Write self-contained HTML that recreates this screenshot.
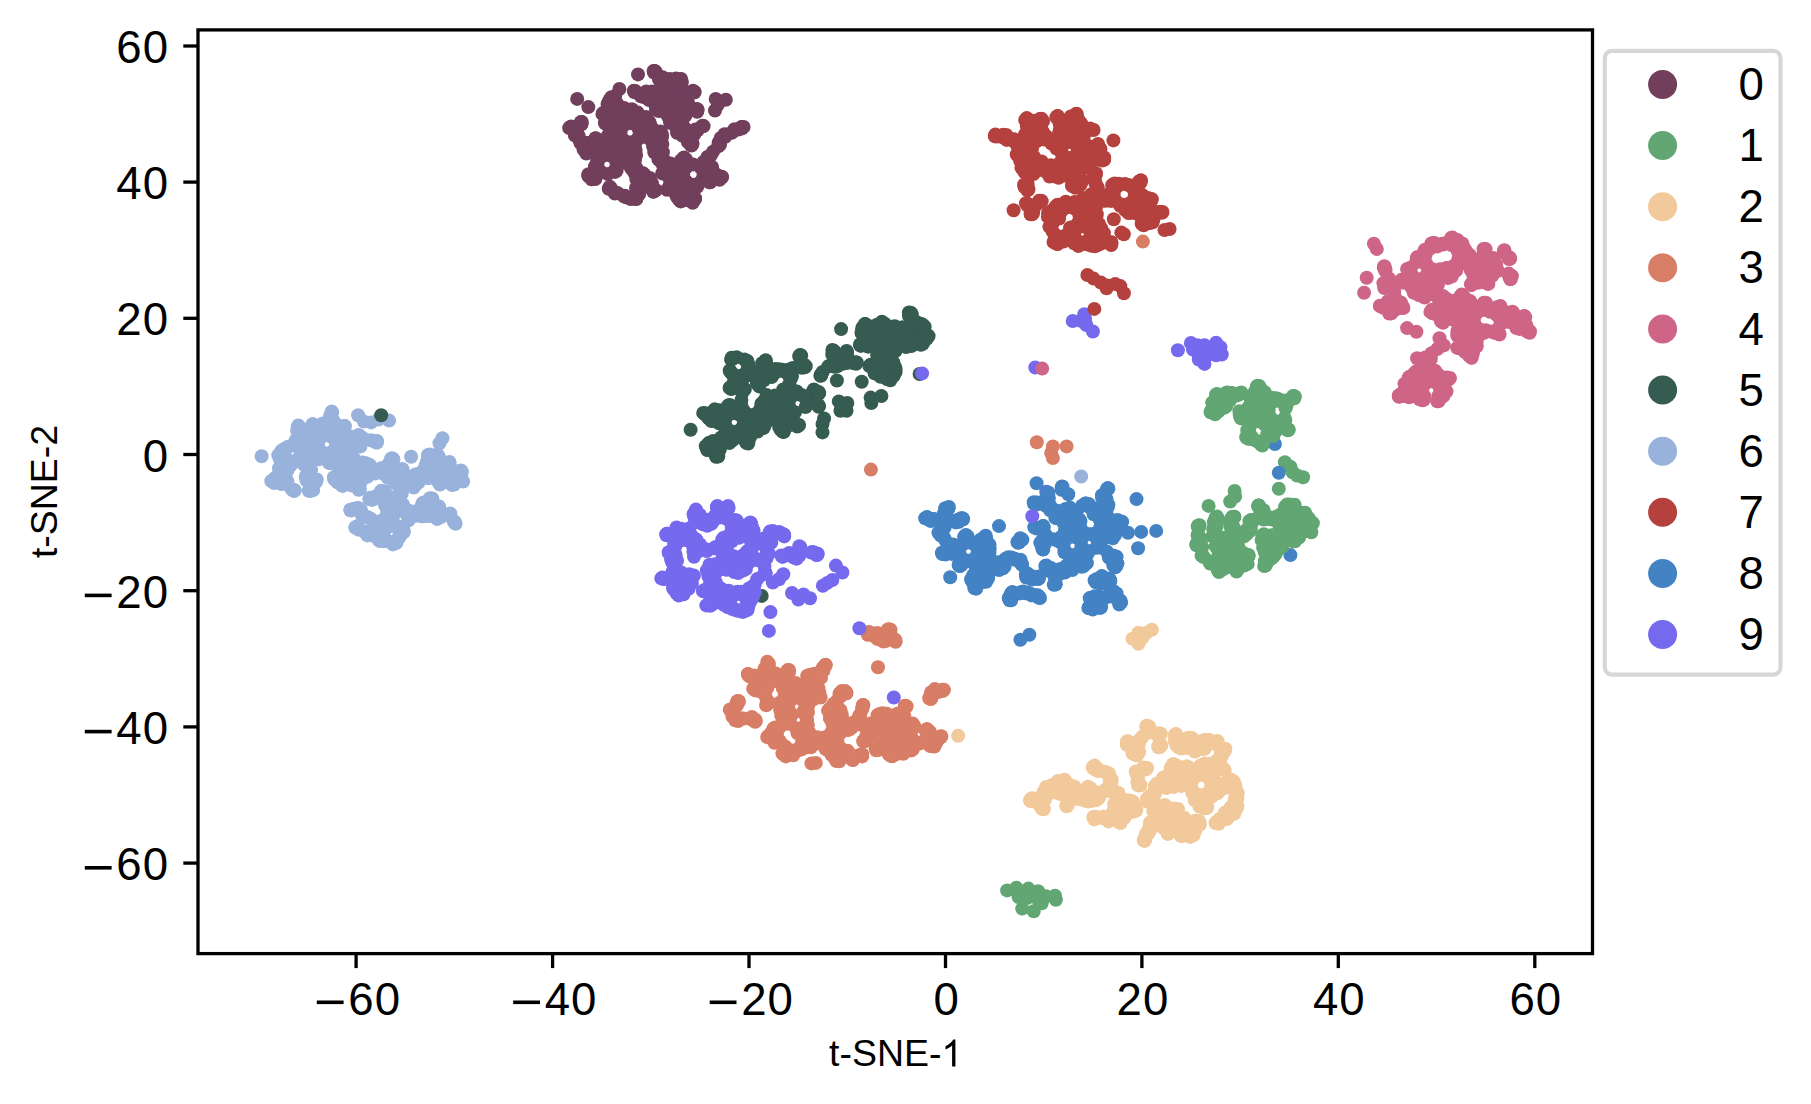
<!DOCTYPE html>
<html><head><meta charset="utf-8"><title>t-SNE</title>
<style>html,body{margin:0;padding:0;background:#fff}svg{display:block}text{font-family:"Liberation Sans",sans-serif;fill:#000}</style></head><body>
<svg width="1811" height="1104" viewBox="0 0 1811 1104">
<rect width="1811" height="1104" fill="#fff"/>
<circle cx="1046.2" cy="491.7" r="7.0" fill="#7569ee"/>
<circle cx="1274.9" cy="444.0" r="7.0" fill="#4383c4"/>
<circle cx="1290.4" cy="555.1" r="7.0" fill="#4383c4"/>
<g fill="#713f5c">
<circle cx="655.7" cy="71.6" r="7.0"/><circle cx="662.5" cy="77.3" r="7.0"/><circle cx="669.9" cy="79.0" r="7.0"/><circle cx="676.0" cy="78.6" r="7.0"/><circle cx="664.2" cy="84.6" r="7.0"/><circle cx="672.5" cy="83.9" r="7.0"/><circle cx="679.2" cy="83.6" r="7.0"/><circle cx="646.3" cy="91.5" r="7.0"/><circle cx="654.7" cy="92.0" r="7.0"/><circle cx="660.6" cy="88.7" r="7.0"/><circle cx="669.5" cy="88.7" r="7.0"/><circle cx="676.5" cy="91.6" r="7.0"/><circle cx="683.4" cy="90.7" r="7.0"/><circle cx="611.4" cy="97.3" r="7.0"/><circle cx="640.9" cy="96.2" r="7.0"/><circle cx="651.6" cy="95.2" r="7.0"/><circle cx="656.4" cy="97.3" r="7.0"/><circle cx="664.5" cy="95.7" r="7.0"/><circle cx="674.1" cy="95.2" r="7.0"/><circle cx="680.4" cy="96.6" r="7.0"/><circle cx="687.0" cy="95.7" r="7.0"/><circle cx="607.5" cy="104.0" r="7.0"/><circle cx="655.1" cy="103.4" r="7.0"/><circle cx="659.7" cy="104.5" r="7.0"/><circle cx="667.0" cy="104.5" r="7.0"/><circle cx="675.7" cy="104.8" r="7.0"/><circle cx="684.6" cy="102.8" r="7.0"/><circle cx="612.4" cy="109.2" r="7.0"/><circle cx="618.3" cy="110.3" r="7.0"/><circle cx="627.5" cy="110.6" r="7.0"/><circle cx="656.0" cy="109.9" r="7.0"/><circle cx="663.7" cy="108.4" r="7.0"/><circle cx="671.2" cy="110.6" r="7.0"/><circle cx="681.1" cy="110.9" r="7.0"/><circle cx="687.8" cy="110.3" r="7.0"/><circle cx="695.9" cy="109.6" r="7.0"/><circle cx="607.5" cy="116.3" r="7.0"/><circle cx="615.9" cy="116.2" r="7.0"/><circle cx="623.0" cy="115.3" r="7.0"/><circle cx="631.3" cy="116.9" r="7.0"/><circle cx="639.0" cy="118.0" r="7.0"/><circle cx="668.6" cy="116.9" r="7.0"/><circle cx="678.0" cy="116.4" r="7.0"/><circle cx="683.3" cy="117.3" r="7.0"/><circle cx="581.4" cy="124.4" r="7.0"/><circle cx="605.4" cy="123.5" r="7.0"/><circle cx="613.7" cy="122.4" r="7.0"/><circle cx="621.7" cy="124.6" r="7.0"/><circle cx="636.3" cy="123.1" r="7.0"/><circle cx="641.2" cy="123.4" r="7.0"/><circle cx="649.9" cy="124.1" r="7.0"/><circle cx="672.1" cy="121.8" r="7.0"/><circle cx="679.4" cy="123.1" r="7.0"/><circle cx="569.8" cy="127.5" r="7.0"/><circle cx="609.9" cy="128.9" r="7.0"/><circle cx="614.6" cy="131.1" r="7.0"/><circle cx="639.3" cy="129.1" r="7.0"/><circle cx="645.3" cy="129.3" r="7.0"/><circle cx="684.9" cy="128.6" r="7.0"/><circle cx="697.5" cy="130.3" r="7.0"/><circle cx="734.6" cy="129.2" r="7.0"/><circle cx="742.1" cy="128.4" r="7.0"/><circle cx="574.9" cy="135.3" r="7.0"/><circle cx="612.6" cy="137.5" r="7.0"/><circle cx="619.9" cy="136.8" r="7.0"/><circle cx="642.9" cy="135.1" r="7.0"/><circle cx="648.4" cy="135.7" r="7.0"/><circle cx="658.3" cy="135.3" r="7.0"/><circle cx="686.4" cy="137.6" r="7.0"/><circle cx="726.1" cy="134.7" r="7.0"/><circle cx="580.5" cy="143.0" r="7.0"/><circle cx="585.3" cy="142.8" r="7.0"/><circle cx="592.6" cy="142.0" r="7.0"/><circle cx="602.0" cy="141.2" r="7.0"/><circle cx="608.5" cy="141.3" r="7.0"/><circle cx="616.0" cy="141.3" r="7.0"/><circle cx="624.5" cy="143.5" r="7.0"/><circle cx="631.2" cy="143.1" r="7.0"/><circle cx="654.6" cy="143.1" r="7.0"/><circle cx="661.3" cy="143.4" r="7.0"/><circle cx="692.3" cy="143.0" r="7.0"/><circle cx="590.9" cy="148.9" r="7.0"/><circle cx="598.7" cy="148.3" r="7.0"/><circle cx="606.4" cy="149.3" r="7.0"/><circle cx="613.8" cy="149.9" r="7.0"/><circle cx="620.7" cy="150.3" r="7.0"/><circle cx="628.4" cy="148.6" r="7.0"/><circle cx="633.6" cy="148.4" r="7.0"/><circle cx="657.4" cy="147.2" r="7.0"/><circle cx="601.5" cy="154.1" r="7.0"/><circle cx="617.2" cy="154.8" r="7.0"/><circle cx="625.1" cy="154.1" r="7.0"/><circle cx="632.7" cy="155.9" r="7.0"/><circle cx="659.7" cy="154.6" r="7.0"/><circle cx="597.4" cy="160.6" r="7.0"/><circle cx="619.2" cy="161.2" r="7.0"/><circle cx="626.0" cy="163.1" r="7.0"/><circle cx="634.8" cy="160.6" r="7.0"/><circle cx="664.5" cy="160.7" r="7.0"/><circle cx="680.7" cy="160.6" r="7.0"/><circle cx="685.8" cy="163.3" r="7.0"/><circle cx="703.5" cy="162.0" r="7.0"/><circle cx="708.3" cy="162.0" r="7.0"/><circle cx="595.0" cy="166.5" r="7.0"/><circle cx="630.8" cy="167.7" r="7.0"/><circle cx="667.9" cy="169.2" r="7.0"/><circle cx="676.2" cy="169.1" r="7.0"/><circle cx="685.0" cy="167.8" r="7.0"/><circle cx="705.2" cy="169.2" r="7.0"/><circle cx="712.1" cy="167.0" r="7.0"/><circle cx="588.5" cy="174.2" r="7.0"/><circle cx="597.3" cy="173.4" r="7.0"/><circle cx="634.7" cy="173.2" r="7.0"/><circle cx="644.1" cy="174.1" r="7.0"/><circle cx="672.9" cy="174.0" r="7.0"/><circle cx="679.1" cy="174.4" r="7.0"/><circle cx="703.7" cy="175.5" r="7.0"/><circle cx="711.2" cy="175.4" r="7.0"/><circle cx="715.8" cy="174.2" r="7.0"/><circle cx="638.4" cy="182.8" r="7.0"/><circle cx="647.5" cy="182.1" r="7.0"/><circle cx="676.7" cy="181.3" r="7.0"/><circle cx="685.6" cy="181.0" r="7.0"/><circle cx="706.9" cy="180.6" r="7.0"/><circle cx="719.5" cy="179.7" r="7.0"/><circle cx="643.5" cy="187.3" r="7.0"/><circle cx="649.2" cy="186.2" r="7.0"/><circle cx="671.2" cy="188.3" r="7.0"/><circle cx="679.4" cy="187.0" r="7.0"/><circle cx="687.3" cy="187.5" r="7.0"/><circle cx="694.8" cy="186.9" r="7.0"/><circle cx="614.9" cy="193.6" r="7.0"/><circle cx="625.0" cy="195.7" r="7.0"/><circle cx="639.2" cy="194.0" r="7.0"/><circle cx="675.4" cy="193.6" r="7.0"/><circle cx="682.9" cy="194.6" r="7.0"/><circle cx="690.7" cy="195.5" r="7.0"/><circle cx="680.6" cy="201.4" r="7.0"/><circle cx="686.2" cy="199.8" r="7.0"/><circle cx="694.9" cy="199.4" r="7.0"/><circle cx="633.9" cy="90.7" r="7.0"/><circle cx="635.2" cy="91.0" r="7.0"/><circle cx="649.3" cy="93.1" r="7.0"/><circle cx="651.8" cy="91.5" r="7.0"/><circle cx="659.0" cy="79.5" r="7.0"/><circle cx="655.3" cy="72.9" r="7.0"/><circle cx="653.6" cy="70.9" r="7.0"/><circle cx="654.6" cy="71.0" r="7.0"/><circle cx="654.0" cy="72.5" r="7.0"/><circle cx="662.9" cy="78.1" r="7.0"/><circle cx="668.2" cy="79.4" r="7.0"/><circle cx="680.3" cy="79.3" r="7.0"/><circle cx="681.1" cy="79.0" r="7.0"/><circle cx="681.9" cy="82.0" r="7.0"/><circle cx="693.0" cy="90.7" r="7.0"/><circle cx="693.7" cy="92.4" r="7.0"/><circle cx="694.2" cy="91.8" r="7.0"/><circle cx="694.6" cy="92.3" r="7.0"/><circle cx="688.0" cy="102.7" r="7.0"/><circle cx="696.8" cy="109.0" r="7.0"/><circle cx="697.4" cy="110.5" r="7.0"/><circle cx="697.2" cy="111.7" r="7.0"/><circle cx="697.5" cy="109.5" r="7.0"/><circle cx="685.4" cy="115.7" r="7.0"/><circle cx="684.0" cy="127.1" r="7.0"/><circle cx="695.3" cy="129.5" r="7.0"/><circle cx="702.7" cy="125.7" r="7.0"/><circle cx="702.3" cy="126.4" r="7.0"/><circle cx="702.4" cy="126.3" r="7.0"/><circle cx="703.6" cy="126.1" r="7.0"/><circle cx="694.3" cy="134.4" r="7.0"/><circle cx="692.5" cy="144.1" r="7.0"/><circle cx="691.5" cy="145.6" r="7.0"/><circle cx="691.6" cy="145.0" r="7.0"/><circle cx="690.5" cy="144.7" r="7.0"/><circle cx="677.0" cy="132.7" r="7.0"/><circle cx="662.1" cy="136.7" r="7.0"/><circle cx="670.3" cy="163.5" r="7.0"/><circle cx="683.4" cy="159.2" r="7.0"/><circle cx="683.7" cy="158.0" r="7.0"/><circle cx="686.0" cy="159.4" r="7.0"/><circle cx="707.4" cy="156.9" r="7.0"/><circle cx="713.0" cy="151.8" r="7.0"/><circle cx="718.7" cy="142.5" r="7.0"/><circle cx="720.7" cy="137.9" r="7.0"/><circle cx="724.5" cy="134.2" r="7.0"/><circle cx="733.7" cy="130.6" r="7.0"/><circle cx="741.6" cy="127.0" r="7.0"/><circle cx="741.6" cy="128.0" r="7.0"/><circle cx="743.6" cy="126.9" r="7.0"/><circle cx="742.1" cy="127.0" r="7.0"/><circle cx="738.5" cy="129.6" r="7.0"/><circle cx="731.9" cy="132.7" r="7.0"/><circle cx="725.3" cy="136.7" r="7.0"/><circle cx="720.0" cy="144.8" r="7.0"/><circle cx="718.2" cy="146.3" r="7.0"/><circle cx="710.8" cy="155.4" r="7.0"/><circle cx="709.3" cy="164.9" r="7.0"/><circle cx="717.5" cy="175.5" r="7.0"/><circle cx="721.9" cy="176.7" r="7.0"/><circle cx="721.9" cy="177.4" r="7.0"/><circle cx="721.6" cy="177.2" r="7.0"/><circle cx="719.8" cy="178.9" r="7.0"/><circle cx="709.5" cy="182.2" r="7.0"/><circle cx="710.2" cy="182.2" r="7.0"/><circle cx="697.3" cy="186.7" r="7.0"/><circle cx="695.1" cy="198.1" r="7.0"/><circle cx="692.7" cy="202.7" r="7.0"/><circle cx="692.4" cy="202.1" r="7.0"/><circle cx="683.2" cy="200.6" r="7.0"/><circle cx="678.7" cy="199.3" r="7.0"/><circle cx="676.8" cy="196.7" r="7.0"/><circle cx="667.1" cy="189.8" r="7.0"/><circle cx="654.9" cy="190.8" r="7.0"/><circle cx="653.4" cy="191.7" r="7.0"/><circle cx="653.2" cy="191.6" r="7.0"/><circle cx="638.4" cy="194.7" r="7.0"/><circle cx="635.2" cy="199.0" r="7.0"/><circle cx="636.4" cy="199.0" r="7.0"/><circle cx="630.5" cy="199.0" r="7.0"/><circle cx="623.5" cy="196.0" r="7.0"/><circle cx="617.7" cy="193.1" r="7.0"/><circle cx="611.1" cy="188.5" r="7.0"/><circle cx="609.8" cy="186.8" r="7.0"/><circle cx="608.7" cy="188.7" r="7.0"/><circle cx="609.5" cy="187.4" r="7.0"/><circle cx="614.4" cy="192.5" r="7.0"/><circle cx="625.9" cy="197.2" r="7.0"/><circle cx="636.0" cy="187.9" r="7.0"/><circle cx="636.4" cy="179.2" r="7.0"/><circle cx="632.7" cy="170.0" r="7.0"/><circle cx="616.6" cy="170.7" r="7.0"/><circle cx="615.2" cy="171.9" r="7.0"/><circle cx="596.1" cy="176.7" r="7.0"/><circle cx="595.3" cy="179.1" r="7.0"/><circle cx="591.6" cy="179.2" r="7.0"/><circle cx="589.4" cy="176.0" r="7.0"/><circle cx="588.8" cy="176.3" r="7.0"/><circle cx="588.2" cy="175.8" r="7.0"/><circle cx="597.3" cy="166.6" r="7.0"/><circle cx="597.4" cy="161.7" r="7.0"/><circle cx="586.3" cy="153.6" r="7.0"/><circle cx="589.1" cy="152.6" r="7.0"/><circle cx="583.5" cy="149.2" r="7.0"/><circle cx="579.6" cy="140.6" r="7.0"/><circle cx="575.0" cy="135.1" r="7.0"/><circle cx="571.6" cy="127.2" r="7.0"/><circle cx="571.1" cy="126.5" r="7.0"/><circle cx="569.2" cy="128.1" r="7.0"/><circle cx="573.6" cy="127.5" r="7.0"/><circle cx="581.8" cy="122.0" r="7.0"/><circle cx="581.0" cy="122.3" r="7.0"/><circle cx="581.1" cy="122.1" r="7.0"/><circle cx="581.3" cy="123.4" r="7.0"/><circle cx="581.3" cy="123.6" r="7.0"/><circle cx="578.6" cy="135.6" r="7.0"/><circle cx="585.4" cy="143.0" r="7.0"/><circle cx="595.6" cy="138.3" r="7.0"/><circle cx="596.0" cy="139.8" r="7.0"/><circle cx="595.4" cy="138.5" r="7.0"/><circle cx="607.8" cy="135.8" r="7.0"/><circle cx="605.4" cy="123.1" r="7.0"/><circle cx="604.9" cy="122.8" r="7.0"/><circle cx="602.4" cy="114.0" r="7.0"/><circle cx="603.1" cy="112.9" r="7.0"/><circle cx="608.3" cy="102.9" r="7.0"/><circle cx="609.4" cy="100.3" r="7.0"/><circle cx="613.5" cy="97.7" r="7.0"/><circle cx="619.4" cy="89.0" r="7.0"/><circle cx="634.2" cy="91.2" r="7.0"/><circle cx="624.2" cy="108.0" r="7.0"/><circle cx="617.2" cy="103.8" r="7.0"/><circle cx="615.2" cy="96.0" r="7.0"/><circle cx="669.7" cy="120.5" r="7.0"/><circle cx="660.3" cy="131.4" r="7.0"/><circle cx="652.9" cy="128.9" r="7.0"/><circle cx="649.4" cy="122.0" r="7.0"/><circle cx="658.8" cy="111.1" r="7.0"/><circle cx="666.2" cy="113.6" r="7.0"/><circle cx="623.6" cy="139.9" r="7.0"/><circle cx="620.5" cy="132.2" r="7.0"/><circle cx="624.6" cy="124.9" r="7.0"/><circle cx="632.8" cy="123.6" r="7.0"/><circle cx="638.9" cy="129.2" r="7.0"/><circle cx="638.4" cy="137.5" r="7.0"/><circle cx="631.5" cy="142.3" r="7.0"/><circle cx="634.7" cy="159.6" r="7.0"/><circle cx="654.3" cy="152.3" r="7.0"/><circle cx="658.4" cy="159.4" r="7.0"/><circle cx="642.5" cy="172.9" r="7.0"/><circle cx="636.2" cy="167.7" r="7.0"/><circle cx="661.3" cy="162.3" r="7.0"/><circle cx="663.5" cy="170.6" r="7.0"/><circle cx="649.9" cy="177.9" r="7.0"/><circle cx="682.5" cy="135.7" r="7.0"/><circle cx="687.9" cy="142.1" r="7.0"/><circle cx="684.1" cy="157.5" r="7.0"/><circle cx="662.9" cy="152.3" r="7.0"/><circle cx="662.3" cy="144.0" r="7.0"/><circle cx="693.6" cy="184.7" r="7.0"/><circle cx="686.4" cy="181.9" r="7.0"/><circle cx="683.2" cy="174.8" r="7.0"/><circle cx="686.1" cy="167.5" r="7.0"/><circle cx="693.2" cy="164.4" r="7.0"/><circle cx="700.5" cy="167.2" r="7.0"/><circle cx="703.6" cy="174.4" r="7.0"/><circle cx="700.7" cy="181.6" r="7.0"/><circle cx="615.0" cy="169.7" r="7.0"/><circle cx="607.9" cy="174.0" r="7.0"/><circle cx="600.1" cy="171.2" r="7.0"/><circle cx="597.5" cy="163.3" r="7.0"/><circle cx="602.0" cy="156.3" r="7.0"/><circle cx="610.3" cy="155.5" r="7.0"/><circle cx="616.1" cy="161.4" r="7.0"/><circle cx="662.2" cy="173.4" r="7.0"/><circle cx="668.9" cy="177.8" r="7.0"/><circle cx="669.6" cy="185.7" r="7.0"/><circle cx="656.0" cy="190.1" r="7.0"/><circle cx="651.9" cy="183.3" r="7.0"/><circle cx="634.7" cy="92.3" r="7.0"/><circle cx="631.9" cy="109.2" r="7.0"/><circle cx="643.1" cy="96.9" r="7.0"/><circle cx="637.7" cy="112.6" r="7.0"/><circle cx="649.0" cy="100.1" r="7.0"/><circle cx="655.6" cy="105.7" r="7.0"/><circle cx="645.9" cy="117.0" r="7.0"/><circle cx="649.7" cy="139.0" r="7.0"/><circle cx="653.1" cy="146.2" r="7.0"/><circle cx="635.6" cy="149.9" r="7.0"/><circle cx="635.8" cy="142.0" r="7.0"/><circle cx="642.0" cy="137.1" r="7.0"/><circle cx="636.1" cy="155.0" r="7.0"/><circle cx="661.9" cy="133.9" r="7.0"/><circle cx="670.3" cy="123.1" r="7.0"/><circle cx="676.5" cy="127.9" r="7.0"/><circle cx="638.0" cy="74.4" r="7.0"/><circle cx="577.2" cy="98.9" r="7.0"/><circle cx="588.3" cy="107.1" r="7.0"/><circle cx="715.7" cy="98.9" r="7.0"/><circle cx="725.8" cy="99.7" r="7.0"/><circle cx="717.9" cy="104.7" r="7.0"/><circle cx="715.0" cy="110.5" r="7.0"/>
</g>
<g fill="#61a673">
<circle cx="1284.9" cy="462.2" r="7.0"/><circle cx="1290.4" cy="466.7" r="7.0"/><circle cx="1292.6" cy="472.2" r="7.0"/><circle cx="1297.0" cy="475.5" r="7.0"/><circle cx="1303.1" cy="477.2" r="7.0"/><circle cx="1259.2" cy="386.0" r="7.0"/><circle cx="1217.1" cy="393.9" r="7.0"/><circle cx="1227.1" cy="392.6" r="7.0"/><circle cx="1232.2" cy="392.9" r="7.0"/><circle cx="1254.7" cy="391.9" r="7.0"/><circle cx="1264.7" cy="392.3" r="7.0"/><circle cx="1216.6" cy="401.0" r="7.0"/><circle cx="1221.7" cy="401.3" r="7.0"/><circle cx="1228.9" cy="399.6" r="7.0"/><circle cx="1251.4" cy="399.1" r="7.0"/><circle cx="1260.9" cy="399.3" r="7.0"/><circle cx="1266.7" cy="398.4" r="7.0"/><circle cx="1273.4" cy="400.3" r="7.0"/><circle cx="1281.5" cy="400.3" r="7.0"/><circle cx="1289.4" cy="399.8" r="7.0"/><circle cx="1220.1" cy="407.6" r="7.0"/><circle cx="1225.2" cy="405.3" r="7.0"/><circle cx="1250.0" cy="406.8" r="7.0"/><circle cx="1255.9" cy="405.0" r="7.0"/><circle cx="1262.0" cy="408.1" r="7.0"/><circle cx="1286.5" cy="405.7" r="7.0"/><circle cx="1215.1" cy="414.2" r="7.0"/><circle cx="1244.7" cy="411.4" r="7.0"/><circle cx="1251.2" cy="412.5" r="7.0"/><circle cx="1260.2" cy="411.6" r="7.0"/><circle cx="1266.9" cy="414.4" r="7.0"/><circle cx="1249.5" cy="420.2" r="7.0"/><circle cx="1257.2" cy="420.9" r="7.0"/><circle cx="1263.1" cy="420.1" r="7.0"/><circle cx="1272.6" cy="420.8" r="7.0"/><circle cx="1267.3" cy="425.0" r="7.0"/><circle cx="1275.6" cy="425.9" r="7.0"/><circle cx="1282.8" cy="427.4" r="7.0"/><circle cx="1272.4" cy="433.7" r="7.0"/><circle cx="1246.2" cy="437.3" r="7.0"/><circle cx="1253.1" cy="439.2" r="7.0"/><circle cx="1210.6" cy="412.3" r="7.0"/><circle cx="1212.2" cy="402.6" r="7.0"/><circle cx="1213.3" cy="402.5" r="7.0"/><circle cx="1216.6" cy="394.4" r="7.0"/><circle cx="1216.0" cy="394.7" r="7.0"/><circle cx="1217.5" cy="395.4" r="7.0"/><circle cx="1226.1" cy="392.9" r="7.0"/><circle cx="1226.9" cy="392.8" r="7.0"/><circle cx="1231.0" cy="393.4" r="7.0"/><circle cx="1239.6" cy="393.3" r="7.0"/><circle cx="1240.2" cy="393.7" r="7.0"/><circle cx="1241.3" cy="392.4" r="7.0"/><circle cx="1250.4" cy="397.0" r="7.0"/><circle cx="1256.4" cy="389.6" r="7.0"/><circle cx="1257.0" cy="386.1" r="7.0"/><circle cx="1257.9" cy="386.1" r="7.0"/><circle cx="1257.9" cy="386.3" r="7.0"/><circle cx="1261.9" cy="391.1" r="7.0"/><circle cx="1261.5" cy="389.6" r="7.0"/><circle cx="1271.9" cy="397.7" r="7.0"/><circle cx="1276.0" cy="398.3" r="7.0"/><circle cx="1278.3" cy="399.0" r="7.0"/><circle cx="1288.5" cy="400.1" r="7.0"/><circle cx="1293.0" cy="396.1" r="7.0"/><circle cx="1293.3" cy="396.5" r="7.0"/><circle cx="1294.1" cy="396.3" r="7.0"/><circle cx="1294.9" cy="396.6" r="7.0"/><circle cx="1293.8" cy="396.8" r="7.0"/><circle cx="1294.3" cy="398.2" r="7.0"/><circle cx="1287.1" cy="402.4" r="7.0"/><circle cx="1285.2" cy="420.3" r="7.0"/><circle cx="1284.6" cy="420.0" r="7.0"/><circle cx="1287.7" cy="429.7" r="7.0"/><circle cx="1287.9" cy="429.1" r="7.0"/><circle cx="1288.8" cy="429.7" r="7.0"/><circle cx="1287.7" cy="430.3" r="7.0"/><circle cx="1287.8" cy="429.5" r="7.0"/><circle cx="1276.1" cy="430.8" r="7.0"/><circle cx="1273.6" cy="434.8" r="7.0"/><circle cx="1273.1" cy="436.1" r="7.0"/><circle cx="1263.3" cy="441.7" r="7.0"/><circle cx="1261.1" cy="444.5" r="7.0"/><circle cx="1262.4" cy="445.5" r="7.0"/><circle cx="1262.1" cy="444.4" r="7.0"/><circle cx="1258.3" cy="442.0" r="7.0"/><circle cx="1249.2" cy="438.7" r="7.0"/><circle cx="1249.0" cy="438.4" r="7.0"/><circle cx="1247.5" cy="438.4" r="7.0"/><circle cx="1248.1" cy="436.5" r="7.0"/><circle cx="1247.8" cy="431.0" r="7.0"/><circle cx="1247.3" cy="430.3" r="7.0"/><circle cx="1241.0" cy="418.4" r="7.0"/><circle cx="1240.8" cy="417.6" r="7.0"/><circle cx="1240.4" cy="416.7" r="7.0"/><circle cx="1239.8" cy="415.3" r="7.0"/><circle cx="1226.2" cy="406.2" r="7.0"/><circle cx="1224.2" cy="407.8" r="7.0"/><circle cx="1218.3" cy="411.4" r="7.0"/><circle cx="1217.5" cy="412.1" r="7.0"/><circle cx="1213.8" cy="411.5" r="7.0"/><circle cx="1211.3" cy="411.9" r="7.0"/><circle cx="1211.3" cy="410.4" r="7.0"/><circle cx="1268.6" cy="410.2" r="7.0"/><circle cx="1272.0" cy="402.3" r="7.0"/><circle cx="1280.5" cy="401.4" r="7.0"/><circle cx="1285.6" cy="408.2" r="7.0"/><circle cx="1284.6" cy="417.9" r="7.0"/><circle cx="1277.4" cy="421.7" r="7.0"/><circle cx="1270.5" cy="417.4" r="7.0"/><circle cx="1251.2" cy="436.0" r="7.0"/><circle cx="1249.5" cy="427.4" r="7.0"/><circle cx="1256.0" cy="421.6" r="7.0"/><circle cx="1264.4" cy="424.4" r="7.0"/><circle cx="1267.3" cy="433.6" r="7.0"/><circle cx="1263.5" cy="440.5" r="7.0"/><circle cx="1255.6" cy="440.6" r="7.0"/><circle cx="1239.4" cy="411.3" r="7.0"/><circle cx="1230.0" cy="400.4" r="7.0"/><circle cx="1236.4" cy="394.9" r="7.0"/><circle cx="1248.3" cy="407.5" r="7.0"/><circle cx="1237.5" cy="395.4" r="7.0"/><circle cx="1250.8" cy="399.8" r="7.0"/><circle cx="1278.8" cy="488.8" r="7.0"/><circle cx="1234.6" cy="491.0" r="7.0"/><circle cx="1235.1" cy="496.5" r="7.0"/><circle cx="1230.2" cy="501.5" r="7.0"/><circle cx="1208.6" cy="505.9" r="7.0"/><circle cx="1291.4" cy="504.7" r="7.0"/><circle cx="1263.6" cy="510.3" r="7.0"/><circle cx="1286.2" cy="511.6" r="7.0"/><circle cx="1297.1" cy="513.0" r="7.0"/><circle cx="1230.8" cy="519.3" r="7.0"/><circle cx="1262.3" cy="518.4" r="7.0"/><circle cx="1267.8" cy="519.1" r="7.0"/><circle cx="1276.3" cy="516.7" r="7.0"/><circle cx="1283.9" cy="519.4" r="7.0"/><circle cx="1291.9" cy="518.1" r="7.0"/><circle cx="1300.6" cy="519.3" r="7.0"/><circle cx="1307.6" cy="517.4" r="7.0"/><circle cx="1249.9" cy="523.5" r="7.0"/><circle cx="1281.1" cy="523.8" r="7.0"/><circle cx="1287.0" cy="523.8" r="7.0"/><circle cx="1294.8" cy="524.8" r="7.0"/><circle cx="1301.6" cy="522.7" r="7.0"/><circle cx="1309.7" cy="524.9" r="7.0"/><circle cx="1233.2" cy="528.9" r="7.0"/><circle cx="1245.6" cy="530.4" r="7.0"/><circle cx="1283.2" cy="530.5" r="7.0"/><circle cx="1292.9" cy="531.8" r="7.0"/><circle cx="1298.2" cy="530.8" r="7.0"/><circle cx="1307.6" cy="530.3" r="7.0"/><circle cx="1198.5" cy="536.6" r="7.0"/><circle cx="1226.9" cy="537.3" r="7.0"/><circle cx="1234.5" cy="535.5" r="7.0"/><circle cx="1244.0" cy="536.4" r="7.0"/><circle cx="1266.8" cy="536.5" r="7.0"/><circle cx="1271.5" cy="537.7" r="7.0"/><circle cx="1281.6" cy="537.5" r="7.0"/><circle cx="1288.9" cy="536.8" r="7.0"/><circle cx="1295.8" cy="536.3" r="7.0"/><circle cx="1218.0" cy="544.8" r="7.0"/><circle cx="1223.6" cy="544.5" r="7.0"/><circle cx="1230.9" cy="542.3" r="7.0"/><circle cx="1267.9" cy="544.4" r="7.0"/><circle cx="1275.9" cy="542.5" r="7.0"/><circle cx="1283.0" cy="543.0" r="7.0"/><circle cx="1221.2" cy="549.3" r="7.0"/><circle cx="1229.4" cy="550.1" r="7.0"/><circle cx="1236.7" cy="550.8" r="7.0"/><circle cx="1266.6" cy="548.8" r="7.0"/><circle cx="1271.3" cy="548.7" r="7.0"/><circle cx="1278.9" cy="548.5" r="7.0"/><circle cx="1201.5" cy="555.6" r="7.0"/><circle cx="1223.2" cy="555.1" r="7.0"/><circle cx="1232.0" cy="558.3" r="7.0"/><circle cx="1240.9" cy="557.6" r="7.0"/><circle cx="1248.2" cy="556.1" r="7.0"/><circle cx="1267.4" cy="555.7" r="7.0"/><circle cx="1214.5" cy="564.0" r="7.0"/><circle cx="1219.5" cy="562.8" r="7.0"/><circle cx="1226.5" cy="564.0" r="7.0"/><circle cx="1235.9" cy="561.9" r="7.0"/><circle cx="1243.1" cy="563.5" r="7.0"/><circle cx="1267.2" cy="562.5" r="7.0"/><circle cx="1218.4" cy="570.2" r="7.0"/><circle cx="1223.0" cy="569.4" r="7.0"/><circle cx="1238.2" cy="568.5" r="7.0"/><circle cx="1197.7" cy="526.4" r="7.0"/><circle cx="1199.5" cy="525.3" r="7.0"/><circle cx="1198.3" cy="525.4" r="7.0"/><circle cx="1199.1" cy="527.1" r="7.0"/><circle cx="1198.9" cy="526.2" r="7.0"/><circle cx="1198.7" cy="536.3" r="7.0"/><circle cx="1212.6" cy="536.2" r="7.0"/><circle cx="1213.2" cy="528.9" r="7.0"/><circle cx="1213.9" cy="522.1" r="7.0"/><circle cx="1215.1" cy="519.5" r="7.0"/><circle cx="1215.8" cy="517.5" r="7.0"/><circle cx="1216.4" cy="516.9" r="7.0"/><circle cx="1217.1" cy="516.6" r="7.0"/><circle cx="1218.2" cy="520.1" r="7.0"/><circle cx="1230.7" cy="522.5" r="7.0"/><circle cx="1232.4" cy="516.8" r="7.0"/><circle cx="1234.2" cy="516.8" r="7.0"/><circle cx="1233.7" cy="516.9" r="7.0"/><circle cx="1234.0" cy="517.1" r="7.0"/><circle cx="1234.4" cy="516.9" r="7.0"/><circle cx="1233.5" cy="517.8" r="7.0"/><circle cx="1233.2" cy="526.5" r="7.0"/><circle cx="1246.8" cy="530.9" r="7.0"/><circle cx="1250.2" cy="521.1" r="7.0"/><circle cx="1250.9" cy="520.1" r="7.0"/><circle cx="1249.4" cy="521.2" r="7.0"/><circle cx="1251.7" cy="521.1" r="7.0"/><circle cx="1259.6" cy="515.7" r="7.0"/><circle cx="1258.7" cy="505.6" r="7.0"/><circle cx="1258.2" cy="505.8" r="7.0"/><circle cx="1258.3" cy="506.6" r="7.0"/><circle cx="1258.7" cy="505.4" r="7.0"/><circle cx="1258.8" cy="505.7" r="7.0"/><circle cx="1259.2" cy="506.6" r="7.0"/><circle cx="1262.9" cy="511.7" r="7.0"/><circle cx="1270.7" cy="517.4" r="7.0"/><circle cx="1280.4" cy="514.5" r="7.0"/><circle cx="1285.1" cy="507.2" r="7.0"/><circle cx="1285.8" cy="506.3" r="7.0"/><circle cx="1287.2" cy="504.4" r="7.0"/><circle cx="1288.5" cy="504.5" r="7.0"/><circle cx="1294.6" cy="504.7" r="7.0"/><circle cx="1292.4" cy="506.2" r="7.0"/><circle cx="1293.6" cy="506.6" r="7.0"/><circle cx="1302.0" cy="512.8" r="7.0"/><circle cx="1305.2" cy="512.8" r="7.0"/><circle cx="1304.6" cy="514.3" r="7.0"/><circle cx="1308.8" cy="518.5" r="7.0"/><circle cx="1312.9" cy="523.1" r="7.0"/><circle cx="1311.9" cy="523.7" r="7.0"/><circle cx="1311.6" cy="522.6" r="7.0"/><circle cx="1311.3" cy="532.3" r="7.0"/><circle cx="1310.7" cy="531.2" r="7.0"/><circle cx="1309.1" cy="531.2" r="7.0"/><circle cx="1309.4" cy="531.1" r="7.0"/><circle cx="1299.2" cy="537.1" r="7.0"/><circle cx="1299.0" cy="537.6" r="7.0"/><circle cx="1294.8" cy="540.9" r="7.0"/><circle cx="1294.9" cy="541.2" r="7.0"/><circle cx="1293.4" cy="541.4" r="7.0"/><circle cx="1282.4" cy="546.4" r="7.0"/><circle cx="1279.7" cy="548.4" r="7.0"/><circle cx="1275.8" cy="553.8" r="7.0"/><circle cx="1273.7" cy="556.5" r="7.0"/><circle cx="1271.5" cy="558.5" r="7.0"/><circle cx="1265.6" cy="565.4" r="7.0"/><circle cx="1265.3" cy="565.5" r="7.0"/><circle cx="1265.3" cy="565.3" r="7.0"/><circle cx="1264.2" cy="566.0" r="7.0"/><circle cx="1265.2" cy="564.1" r="7.0"/><circle cx="1264.8" cy="561.0" r="7.0"/><circle cx="1264.7" cy="552.1" r="7.0"/><circle cx="1263.1" cy="547.6" r="7.0"/><circle cx="1261.7" cy="540.3" r="7.0"/><circle cx="1262.6" cy="536.3" r="7.0"/><circle cx="1250.6" cy="530.5" r="7.0"/><circle cx="1247.1" cy="533.8" r="7.0"/><circle cx="1246.0" cy="534.4" r="7.0"/><circle cx="1239.6" cy="536.7" r="7.0"/><circle cx="1238.3" cy="546.7" r="7.0"/><circle cx="1243.6" cy="553.1" r="7.0"/><circle cx="1248.3" cy="555.6" r="7.0"/><circle cx="1248.4" cy="556.4" r="7.0"/><circle cx="1248.6" cy="555.0" r="7.0"/><circle cx="1248.2" cy="556.2" r="7.0"/><circle cx="1247.7" cy="563.9" r="7.0"/><circle cx="1246.7" cy="563.8" r="7.0"/><circle cx="1244.2" cy="565.6" r="7.0"/><circle cx="1238.1" cy="568.7" r="7.0"/><circle cx="1236.6" cy="571.6" r="7.0"/><circle cx="1236.0" cy="570.2" r="7.0"/><circle cx="1236.1" cy="569.4" r="7.0"/><circle cx="1227.1" cy="567.2" r="7.0"/><circle cx="1218.8" cy="570.5" r="7.0"/><circle cx="1218.9" cy="572.0" r="7.0"/><circle cx="1219.6" cy="571.2" r="7.0"/><circle cx="1217.6" cy="569.8" r="7.0"/><circle cx="1210.1" cy="563.5" r="7.0"/><circle cx="1209.5" cy="561.2" r="7.0"/><circle cx="1203.2" cy="556.8" r="7.0"/><circle cx="1198.7" cy="545.7" r="7.0"/><circle cx="1196.6" cy="545.3" r="7.0"/><circle cx="1196.4" cy="544.8" r="7.0"/><circle cx="1196.4" cy="543.9" r="7.0"/><circle cx="1197.5" cy="535.0" r="7.0"/><circle cx="1198.6" cy="535.4" r="7.0"/><circle cx="1198.0" cy="526.8" r="7.0"/><circle cx="1202.1" cy="547.3" r="7.0"/><circle cx="1201.5" cy="539.4" r="7.0"/><circle cx="1215.2" cy="538.5" r="7.0"/><circle cx="1215.7" cy="546.4" r="7.0"/><circle cx="1218.5" cy="551.7" r="7.0"/><circle cx="1216.9" cy="559.4" r="7.0"/><circle cx="1209.5" cy="561.9" r="7.0"/><circle cx="1203.6" cy="556.7" r="7.0"/><circle cx="1230.4" cy="526.1" r="7.0"/><circle cx="1230.5" cy="534.1" r="7.0"/><circle cx="1223.7" cy="538.2" r="7.0"/><circle cx="1216.7" cy="534.4" r="7.0"/><circle cx="1216.5" cy="526.4" r="7.0"/><circle cx="1263.8" cy="534.3" r="7.0"/><circle cx="1250.9" cy="527.0" r="7.0"/><circle cx="1255.1" cy="519.6" r="7.0"/><circle cx="1263.6" cy="519.5" r="7.0"/><circle cx="1278.3" cy="532.3" r="7.0"/><circle cx="1271.1" cy="535.2" r="7.0"/><circle cx="1273.2" cy="519.8" r="7.0"/><circle cx="1279.4" cy="524.6" r="7.0"/><circle cx="1007.1" cy="890.4" r="7.0"/><circle cx="1016.4" cy="887.7" r="7.0"/><circle cx="1028.4" cy="888.6" r="7.0"/><circle cx="1038.1" cy="891.3" r="7.0"/><circle cx="1018.6" cy="897.1" r="7.0"/><circle cx="1027.5" cy="897.9" r="7.0"/><circle cx="1038.1" cy="899.7" r="7.0"/><circle cx="1055.0" cy="895.7" r="7.0"/><circle cx="1055.9" cy="899.7" r="7.0"/><circle cx="1022.2" cy="908.6" r="7.0"/><circle cx="1033.7" cy="911.3" r="7.0"/><circle cx="1041.7" cy="903.3" r="7.0"/><circle cx="1046.1" cy="896.2" r="7.0"/>
</g>
<g fill="#f1c99b">
<circle cx="958.1" cy="735.8" r="7.0"/><circle cx="1094.4" cy="767.8" r="7.0"/><circle cx="1097.7" cy="771.0" r="7.0"/><circle cx="1105.8" cy="772.8" r="7.0"/><circle cx="1064.5" cy="779.7" r="7.0"/><circle cx="1110.1" cy="780.9" r="7.0"/><circle cx="1046.1" cy="787.0" r="7.0"/><circle cx="1052.9" cy="787.5" r="7.0"/><circle cx="1060.2" cy="786.6" r="7.0"/><circle cx="1069.7" cy="785.4" r="7.0"/><circle cx="1051.7" cy="790.5" r="7.0"/><circle cx="1056.7" cy="791.3" r="7.0"/><circle cx="1064.3" cy="793.2" r="7.0"/><circle cx="1071.3" cy="792.9" r="7.0"/><circle cx="1080.0" cy="790.9" r="7.0"/><circle cx="1087.1" cy="792.3" r="7.0"/><circle cx="1094.7" cy="791.8" r="7.0"/><circle cx="1102.7" cy="792.3" r="7.0"/><circle cx="1111.3" cy="791.5" r="7.0"/><circle cx="1118.5" cy="793.0" r="7.0"/><circle cx="1031.8" cy="798.2" r="7.0"/><circle cx="1040.8" cy="800.5" r="7.0"/><circle cx="1070.2" cy="799.6" r="7.0"/><circle cx="1077.3" cy="798.8" r="7.0"/><circle cx="1083.9" cy="797.7" r="7.0"/><circle cx="1091.8" cy="798.0" r="7.0"/><circle cx="1099.2" cy="797.6" r="7.0"/><circle cx="1123.3" cy="800.1" r="7.0"/><circle cx="1041.5" cy="803.5" r="7.0"/><circle cx="1066.2" cy="805.8" r="7.0"/><circle cx="1117.0" cy="804.8" r="7.0"/><circle cx="1124.0" cy="806.2" r="7.0"/><circle cx="1134.0" cy="805.7" r="7.0"/><circle cx="1112.7" cy="813.0" r="7.0"/><circle cx="1123.2" cy="811.9" r="7.0"/><circle cx="1127.8" cy="810.6" r="7.0"/><circle cx="1094.6" cy="819.0" r="7.0"/><circle cx="1103.1" cy="818.0" r="7.0"/><circle cx="1110.6" cy="817.4" r="7.0"/><circle cx="1119.5" cy="819.2" r="7.0"/><circle cx="1124.7" cy="817.5" r="7.0"/><circle cx="1120.5" cy="823.0" r="7.0"/><circle cx="1030.4" cy="801.0" r="7.0"/><circle cx="1032.4" cy="800.8" r="7.0"/><circle cx="1035.9" cy="798.5" r="7.0"/><circle cx="1043.7" cy="791.8" r="7.0"/><circle cx="1047.0" cy="789.4" r="7.0"/><circle cx="1051.6" cy="785.3" r="7.0"/><circle cx="1057.8" cy="781.0" r="7.0"/><circle cx="1062.3" cy="780.8" r="7.0"/><circle cx="1066.1" cy="781.9" r="7.0"/><circle cx="1070.4" cy="785.2" r="7.0"/><circle cx="1074.3" cy="786.5" r="7.0"/><circle cx="1087.6" cy="788.1" r="7.0"/><circle cx="1088.0" cy="786.8" r="7.0"/><circle cx="1090.3" cy="788.3" r="7.0"/><circle cx="1098.4" cy="794.1" r="7.0"/><circle cx="1106.1" cy="789.2" r="7.0"/><circle cx="1111.5" cy="781.0" r="7.0"/><circle cx="1107.2" cy="772.7" r="7.0"/><circle cx="1097.5" cy="769.8" r="7.0"/><circle cx="1093.9" cy="768.9" r="7.0"/><circle cx="1093.1" cy="766.7" r="7.0"/><circle cx="1092.7" cy="767.6" r="7.0"/><circle cx="1094.0" cy="766.4" r="7.0"/><circle cx="1094.6" cy="765.6" r="7.0"/><circle cx="1097.8" cy="768.8" r="7.0"/><circle cx="1104.9" cy="771.8" r="7.0"/><circle cx="1109.0" cy="773.4" r="7.0"/><circle cx="1111.5" cy="779.2" r="7.0"/><circle cx="1111.0" cy="780.2" r="7.0"/><circle cx="1109.7" cy="781.0" r="7.0"/><circle cx="1116.3" cy="793.5" r="7.0"/><circle cx="1118.0" cy="793.9" r="7.0"/><circle cx="1118.5" cy="795.5" r="7.0"/><circle cx="1128.4" cy="800.3" r="7.0"/><circle cx="1131.9" cy="801.1" r="7.0"/><circle cx="1132.7" cy="801.8" r="7.0"/><circle cx="1132.8" cy="802.8" r="7.0"/><circle cx="1135.0" cy="809.5" r="7.0"/><circle cx="1136.3" cy="810.3" r="7.0"/><circle cx="1135.6" cy="810.9" r="7.0"/><circle cx="1132.5" cy="811.9" r="7.0"/><circle cx="1123.4" cy="817.5" r="7.0"/><circle cx="1120.3" cy="820.7" r="7.0"/><circle cx="1120.7" cy="821.8" r="7.0"/><circle cx="1118.5" cy="821.9" r="7.0"/><circle cx="1107.7" cy="819.7" r="7.0"/><circle cx="1108.6" cy="821.4" r="7.0"/><circle cx="1104.0" cy="818.5" r="7.0"/><circle cx="1093.3" cy="817.0" r="7.0"/><circle cx="1093.9" cy="817.3" r="7.0"/><circle cx="1094.2" cy="819.4" r="7.0"/><circle cx="1094.8" cy="818.4" r="7.0"/><circle cx="1095.9" cy="816.8" r="7.0"/><circle cx="1102.9" cy="817.1" r="7.0"/><circle cx="1103.7" cy="816.6" r="7.0"/><circle cx="1113.9" cy="810.1" r="7.0"/><circle cx="1114.1" cy="804.2" r="7.0"/><circle cx="1115.7" cy="803.7" r="7.0"/><circle cx="1113.3" cy="790.1" r="7.0"/><circle cx="1101.9" cy="793.1" r="7.0"/><circle cx="1098.5" cy="797.7" r="7.0"/><circle cx="1096.6" cy="800.1" r="7.0"/><circle cx="1091.9" cy="800.8" r="7.0"/><circle cx="1088.2" cy="801.6" r="7.0"/><circle cx="1084.1" cy="800.4" r="7.0"/><circle cx="1079.2" cy="798.9" r="7.0"/><circle cx="1068.5" cy="803.0" r="7.0"/><circle cx="1067.5" cy="805.3" r="7.0"/><circle cx="1066.9" cy="806.3" r="7.0"/><circle cx="1066.9" cy="804.7" r="7.0"/><circle cx="1067.5" cy="804.8" r="7.0"/><circle cx="1060.1" cy="793.9" r="7.0"/><circle cx="1054.8" cy="792.6" r="7.0"/><circle cx="1045.0" cy="799.5" r="7.0"/><circle cx="1043.1" cy="808.2" r="7.0"/><circle cx="1043.5" cy="807.9" r="7.0"/><circle cx="1041.7" cy="808.7" r="7.0"/><circle cx="1043.7" cy="809.2" r="7.0"/><circle cx="1039.9" cy="805.8" r="7.0"/><circle cx="1032.5" cy="801.3" r="7.0"/><circle cx="1030.1" cy="800.0" r="7.0"/><circle cx="1030.4" cy="800.4" r="7.0"/><circle cx="1147.7" cy="726.3" r="7.0"/><circle cx="1149.5" cy="732.3" r="7.0"/><circle cx="1139.8" cy="739.8" r="7.0"/><circle cx="1127.3" cy="744.9" r="7.0"/><circle cx="1134.9" cy="745.0" r="7.0"/><circle cx="1158.4" cy="747.2" r="7.0"/><circle cx="1139.1" cy="752.3" r="7.0"/><circle cx="1127.5" cy="742.6" r="7.0"/><circle cx="1126.8" cy="741.6" r="7.0"/><circle cx="1128.1" cy="741.2" r="7.0"/><circle cx="1128.0" cy="742.6" r="7.0"/><circle cx="1141.0" cy="738.7" r="7.0"/><circle cx="1142.3" cy="736.7" r="7.0"/><circle cx="1146.4" cy="726.8" r="7.0"/><circle cx="1146.8" cy="725.8" r="7.0"/><circle cx="1146.5" cy="725.9" r="7.0"/><circle cx="1149.0" cy="727.2" r="7.0"/><circle cx="1149.0" cy="726.5" r="7.0"/><circle cx="1157.4" cy="733.8" r="7.0"/><circle cx="1159.9" cy="734.0" r="7.0"/><circle cx="1159.2" cy="733.2" r="7.0"/><circle cx="1160.9" cy="733.8" r="7.0"/><circle cx="1161.0" cy="744.7" r="7.0"/><circle cx="1160.5" cy="745.9" r="7.0"/><circle cx="1161.0" cy="746.0" r="7.0"/><circle cx="1160.0" cy="746.2" r="7.0"/><circle cx="1160.2" cy="745.6" r="7.0"/><circle cx="1159.7" cy="747.0" r="7.0"/><circle cx="1158.3" cy="746.2" r="7.0"/><circle cx="1158.3" cy="736.2" r="7.0"/><circle cx="1149.5" cy="732.5" r="7.0"/><circle cx="1141.8" cy="737.8" r="7.0"/><circle cx="1138.8" cy="744.1" r="7.0"/><circle cx="1137.8" cy="751.6" r="7.0"/><circle cx="1137.6" cy="753.2" r="7.0"/><circle cx="1137.0" cy="755.3" r="7.0"/><circle cx="1136.2" cy="754.5" r="7.0"/><circle cx="1134.5" cy="754.6" r="7.0"/><circle cx="1133.5" cy="753.5" r="7.0"/><circle cx="1132.4" cy="753.4" r="7.0"/><circle cx="1126.9" cy="744.8" r="7.0"/><circle cx="1127.4" cy="743.7" r="7.0"/><circle cx="1143.3" cy="767.5" r="7.0"/><circle cx="1138.7" cy="773.0" r="7.0"/><circle cx="1136.6" cy="773.9" r="7.0"/><circle cx="1138.2" cy="772.2" r="7.0"/><circle cx="1143.1" cy="769.1" r="7.0"/><circle cx="1144.4" cy="769.3" r="7.0"/><circle cx="1145.5" cy="768.6" r="7.0"/><circle cx="1145.9" cy="769.4" r="7.0"/><circle cx="1147.1" cy="768.0" r="7.0"/><circle cx="1145.2" cy="769.0" r="7.0"/><circle cx="1138.0" cy="776.9" r="7.0"/><circle cx="1140.1" cy="785.2" r="7.0"/><circle cx="1140.4" cy="785.1" r="7.0"/><circle cx="1139.3" cy="785.6" r="7.0"/><circle cx="1138.9" cy="784.6" r="7.0"/><circle cx="1138.0" cy="785.2" r="7.0"/><circle cx="1138.6" cy="783.7" r="7.0"/><circle cx="1137.4" cy="782.5" r="7.0"/><circle cx="1135.8" cy="771.4" r="7.0"/><circle cx="1136.8" cy="774.7" r="7.0"/><circle cx="1176.8" cy="739.8" r="7.0"/><circle cx="1182.6" cy="740.3" r="7.0"/><circle cx="1192.4" cy="739.8" r="7.0"/><circle cx="1204.6" cy="740.1" r="7.0"/><circle cx="1214.0" cy="742.1" r="7.0"/><circle cx="1179.1" cy="746.0" r="7.0"/><circle cx="1188.5" cy="748.1" r="7.0"/><circle cx="1196.2" cy="746.5" r="7.0"/><circle cx="1202.7" cy="748.9" r="7.0"/><circle cx="1221.1" cy="752.8" r="7.0"/><circle cx="1175.8" cy="735.6" r="7.0"/><circle cx="1176.0" cy="734.1" r="7.0"/><circle cx="1175.1" cy="734.5" r="7.0"/><circle cx="1175.8" cy="734.6" r="7.0"/><circle cx="1187.2" cy="738.9" r="7.0"/><circle cx="1187.9" cy="737.9" r="7.0"/><circle cx="1189.3" cy="737.8" r="7.0"/><circle cx="1192.0" cy="738.1" r="7.0"/><circle cx="1202.2" cy="740.8" r="7.0"/><circle cx="1208.5" cy="740.0" r="7.0"/><circle cx="1209.4" cy="740.0" r="7.0"/><circle cx="1216.4" cy="741.5" r="7.0"/><circle cx="1217.6" cy="741.1" r="7.0"/><circle cx="1217.5" cy="743.0" r="7.0"/><circle cx="1224.9" cy="750.5" r="7.0"/><circle cx="1224.7" cy="750.2" r="7.0"/><circle cx="1225.0" cy="750.1" r="7.0"/><circle cx="1225.4" cy="748.7" r="7.0"/><circle cx="1222.0" cy="755.5" r="7.0"/><circle cx="1222.2" cy="754.8" r="7.0"/><circle cx="1222.1" cy="754.8" r="7.0"/><circle cx="1220.7" cy="753.7" r="7.0"/><circle cx="1216.1" cy="744.4" r="7.0"/><circle cx="1204.9" cy="748.1" r="7.0"/><circle cx="1204.5" cy="748.8" r="7.0"/><circle cx="1202.2" cy="748.8" r="7.0"/><circle cx="1195.1" cy="750.4" r="7.0"/><circle cx="1194.9" cy="751.5" r="7.0"/><circle cx="1188.2" cy="748.1" r="7.0"/><circle cx="1181.5" cy="748.5" r="7.0"/><circle cx="1178.6" cy="747.4" r="7.0"/><circle cx="1176.4" cy="745.2" r="7.0"/><circle cx="1175.0" cy="742.0" r="7.0"/><circle cx="1174.8" cy="737.3" r="7.0"/><circle cx="1219.5" cy="761.3" r="7.0"/><circle cx="1170.7" cy="768.4" r="7.0"/><circle cx="1177.4" cy="766.0" r="7.0"/><circle cx="1186.1" cy="766.9" r="7.0"/><circle cx="1200.4" cy="765.6" r="7.0"/><circle cx="1208.2" cy="766.5" r="7.0"/><circle cx="1215.6" cy="768.1" r="7.0"/><circle cx="1168.5" cy="774.7" r="7.0"/><circle cx="1175.1" cy="771.9" r="7.0"/><circle cx="1181.2" cy="773.8" r="7.0"/><circle cx="1190.3" cy="773.4" r="7.0"/><circle cx="1197.6" cy="775.1" r="7.0"/><circle cx="1203.7" cy="773.2" r="7.0"/><circle cx="1213.0" cy="773.0" r="7.0"/><circle cx="1161.7" cy="781.7" r="7.0"/><circle cx="1171.0" cy="780.9" r="7.0"/><circle cx="1176.7" cy="781.6" r="7.0"/><circle cx="1186.9" cy="778.7" r="7.0"/><circle cx="1192.2" cy="778.9" r="7.0"/><circle cx="1231.4" cy="779.8" r="7.0"/><circle cx="1158.3" cy="788.3" r="7.0"/><circle cx="1166.3" cy="788.0" r="7.0"/><circle cx="1173.6" cy="787.1" r="7.0"/><circle cx="1181.2" cy="785.9" r="7.0"/><circle cx="1190.5" cy="787.0" r="7.0"/><circle cx="1211.1" cy="788.4" r="7.0"/><circle cx="1219.8" cy="786.6" r="7.0"/><circle cx="1226.5" cy="787.6" r="7.0"/><circle cx="1235.3" cy="785.4" r="7.0"/><circle cx="1155.1" cy="793.8" r="7.0"/><circle cx="1193.8" cy="793.4" r="7.0"/><circle cx="1207.4" cy="794.3" r="7.0"/><circle cx="1217.5" cy="793.2" r="7.0"/><circle cx="1237.8" cy="793.0" r="7.0"/><circle cx="1150.7" cy="799.7" r="7.0"/><circle cx="1196.1" cy="798.3" r="7.0"/><circle cx="1203.2" cy="800.8" r="7.0"/><circle cx="1234.4" cy="801.0" r="7.0"/><circle cx="1199.4" cy="806.6" r="7.0"/><circle cx="1207.2" cy="806.5" r="7.0"/><circle cx="1230.5" cy="807.8" r="7.0"/><circle cx="1237.4" cy="806.0" r="7.0"/><circle cx="1227.4" cy="811.4" r="7.0"/><circle cx="1234.1" cy="813.9" r="7.0"/><circle cx="1222.0" cy="819.9" r="7.0"/><circle cx="1172.5" cy="765.6" r="7.0"/><circle cx="1173.0" cy="764.3" r="7.0"/><circle cx="1173.6" cy="764.2" r="7.0"/><circle cx="1177.0" cy="766.2" r="7.0"/><circle cx="1186.8" cy="766.5" r="7.0"/><circle cx="1186.6" cy="766.4" r="7.0"/><circle cx="1189.2" cy="767.4" r="7.0"/><circle cx="1200.9" cy="767.9" r="7.0"/><circle cx="1204.8" cy="763.6" r="7.0"/><circle cx="1208.6" cy="763.7" r="7.0"/><circle cx="1217.6" cy="760.7" r="7.0"/><circle cx="1215.5" cy="761.6" r="7.0"/><circle cx="1219.7" cy="762.7" r="7.0"/><circle cx="1220.2" cy="762.9" r="7.0"/><circle cx="1224.7" cy="770.0" r="7.0"/><circle cx="1231.8" cy="781.1" r="7.0"/><circle cx="1233.9" cy="781.6" r="7.0"/><circle cx="1234.7" cy="785.3" r="7.0"/><circle cx="1236.6" cy="790.7" r="7.0"/><circle cx="1237.3" cy="798.7" r="7.0"/><circle cx="1237.1" cy="807.3" r="7.0"/><circle cx="1235.8" cy="809.7" r="7.0"/><circle cx="1233.6" cy="812.1" r="7.0"/><circle cx="1228.3" cy="815.9" r="7.0"/><circle cx="1227.0" cy="819.1" r="7.0"/><circle cx="1218.7" cy="822.6" r="7.0"/><circle cx="1215.6" cy="823.1" r="7.0"/><circle cx="1218.7" cy="823.7" r="7.0"/><circle cx="1216.5" cy="822.9" r="7.0"/><circle cx="1216.3" cy="822.0" r="7.0"/><circle cx="1219.6" cy="818.9" r="7.0"/><circle cx="1224.8" cy="812.8" r="7.0"/><circle cx="1230.8" cy="807.6" r="7.0"/><circle cx="1235.2" cy="797.7" r="7.0"/><circle cx="1229.4" cy="787.4" r="7.0"/><circle cx="1220.4" cy="790.1" r="7.0"/><circle cx="1211.8" cy="796.6" r="7.0"/><circle cx="1206.1" cy="806.0" r="7.0"/><circle cx="1206.8" cy="808.1" r="7.0"/><circle cx="1204.4" cy="808.2" r="7.0"/><circle cx="1200.4" cy="803.9" r="7.0"/><circle cx="1194.8" cy="800.3" r="7.0"/><circle cx="1192.2" cy="792.7" r="7.0"/><circle cx="1181.7" cy="785.6" r="7.0"/><circle cx="1175.1" cy="785.4" r="7.0"/><circle cx="1168.2" cy="786.2" r="7.0"/><circle cx="1163.3" cy="786.5" r="7.0"/><circle cx="1152.5" cy="794.1" r="7.0"/><circle cx="1152.0" cy="796.1" r="7.0"/><circle cx="1150.5" cy="798.5" r="7.0"/><circle cx="1147.0" cy="801.6" r="7.0"/><circle cx="1147.5" cy="800.4" r="7.0"/><circle cx="1146.8" cy="799.4" r="7.0"/><circle cx="1147.9" cy="797.6" r="7.0"/><circle cx="1150.8" cy="795.1" r="7.0"/><circle cx="1154.8" cy="786.0" r="7.0"/><circle cx="1155.2" cy="786.5" r="7.0"/><circle cx="1157.0" cy="783.5" r="7.0"/><circle cx="1163.3" cy="777.4" r="7.0"/><circle cx="1163.3" cy="778.3" r="7.0"/><circle cx="1170.9" cy="774.4" r="7.0"/><circle cx="1171.3" cy="767.2" r="7.0"/><circle cx="1199.5" cy="775.0" r="7.0"/><circle cx="1207.1" cy="776.7" r="7.0"/><circle cx="1211.3" cy="783.3" r="7.0"/><circle cx="1209.5" cy="790.9" r="7.0"/><circle cx="1203.0" cy="795.0" r="7.0"/><circle cx="1195.4" cy="793.3" r="7.0"/><circle cx="1191.2" cy="786.7" r="7.0"/><circle cx="1193.0" cy="779.1" r="7.0"/><circle cx="1226.6" cy="781.9" r="7.0"/><circle cx="1219.0" cy="783.7" r="7.0"/><circle cx="1213.7" cy="778.1" r="7.0"/><circle cx="1215.9" cy="770.6" r="7.0"/><circle cx="1223.5" cy="768.8" r="7.0"/><circle cx="1164.9" cy="804.9" r="7.0"/><circle cx="1160.9" cy="811.7" r="7.0"/><circle cx="1166.7" cy="812.9" r="7.0"/><circle cx="1175.1" cy="810.1" r="7.0"/><circle cx="1158.5" cy="819.2" r="7.0"/><circle cx="1163.6" cy="817.0" r="7.0"/><circle cx="1173.7" cy="817.8" r="7.0"/><circle cx="1178.4" cy="818.5" r="7.0"/><circle cx="1151.9" cy="825.7" r="7.0"/><circle cx="1160.5" cy="825.8" r="7.0"/><circle cx="1169.1" cy="825.0" r="7.0"/><circle cx="1176.2" cy="823.8" r="7.0"/><circle cx="1181.6" cy="825.6" r="7.0"/><circle cx="1190.0" cy="823.3" r="7.0"/><circle cx="1199.5" cy="825.1" r="7.0"/><circle cx="1148.8" cy="832.8" r="7.0"/><circle cx="1172.8" cy="830.0" r="7.0"/><circle cx="1179.1" cy="830.4" r="7.0"/><circle cx="1185.6" cy="831.6" r="7.0"/><circle cx="1195.3" cy="830.2" r="7.0"/><circle cx="1144.3" cy="839.2" r="7.0"/><circle cx="1190.1" cy="836.9" r="7.0"/><circle cx="1153.3" cy="811.3" r="7.0"/><circle cx="1159.1" cy="806.2" r="7.0"/><circle cx="1162.5" cy="805.9" r="7.0"/><circle cx="1164.6" cy="806.8" r="7.0"/><circle cx="1174.1" cy="808.6" r="7.0"/><circle cx="1178.0" cy="809.0" r="7.0"/><circle cx="1176.6" cy="809.8" r="7.0"/><circle cx="1184.1" cy="817.8" r="7.0"/><circle cx="1193.2" cy="821.4" r="7.0"/><circle cx="1195.9" cy="820.4" r="7.0"/><circle cx="1198.6" cy="821.0" r="7.0"/><circle cx="1198.9" cy="822.9" r="7.0"/><circle cx="1199.0" cy="821.3" r="7.0"/><circle cx="1199.9" cy="823.4" r="7.0"/><circle cx="1193.6" cy="831.3" r="7.0"/><circle cx="1193.4" cy="834.2" r="7.0"/><circle cx="1193.7" cy="835.1" r="7.0"/><circle cx="1190.0" cy="834.8" r="7.0"/><circle cx="1182.4" cy="836.0" r="7.0"/><circle cx="1180.8" cy="835.7" r="7.0"/><circle cx="1180.0" cy="834.4" r="7.0"/><circle cx="1167.8" cy="833.8" r="7.0"/><circle cx="1168.2" cy="833.6" r="7.0"/><circle cx="1167.6" cy="833.5" r="7.0"/><circle cx="1163.9" cy="828.4" r="7.0"/><circle cx="1151.2" cy="828.9" r="7.0"/><circle cx="1147.5" cy="834.0" r="7.0"/><circle cx="1144.8" cy="840.7" r="7.0"/><circle cx="1143.8" cy="840.5" r="7.0"/><circle cx="1145.2" cy="839.1" r="7.0"/><circle cx="1144.5" cy="840.6" r="7.0"/><circle cx="1144.5" cy="839.3" r="7.0"/><circle cx="1146.0" cy="833.8" r="7.0"/><circle cx="1149.0" cy="828.5" r="7.0"/><circle cx="1149.8" cy="822.7" r="7.0"/><circle cx="1152.6" cy="821.0" r="7.0"/><circle cx="1154.3" cy="807.1" r="7.0"/><circle cx="1151.9" cy="629.8" r="7.0"/><circle cx="1146.4" cy="632.8" r="7.0"/><circle cx="1138.5" cy="632.8" r="7.0"/><circle cx="1132.5" cy="638.8" r="7.0"/><circle cx="1138.5" cy="643.8" r="7.0"/><circle cx="1142.4" cy="637.8" r="7.0"/>
</g>
<g fill="#d87d66">
<circle cx="878.0" cy="667.3" r="7.0"/><circle cx="811.4" cy="763.4" r="7.0"/><circle cx="815.8" cy="762.9" r="7.0"/><circle cx="890.5" cy="629.8" r="7.0"/><circle cx="877.8" cy="636.4" r="7.0"/><circle cx="885.5" cy="637.2" r="7.0"/><circle cx="891.1" cy="635.7" r="7.0"/><circle cx="867.8" cy="634.7" r="7.0"/><circle cx="873.1" cy="633.5" r="7.0"/><circle cx="877.5" cy="632.9" r="7.0"/><circle cx="887.6" cy="630.3" r="7.0"/><circle cx="889.6" cy="629.5" r="7.0"/><circle cx="888.7" cy="630.7" r="7.0"/><circle cx="888.3" cy="629.2" r="7.0"/><circle cx="894.5" cy="640.2" r="7.0"/><circle cx="895.6" cy="641.8" r="7.0"/><circle cx="895.3" cy="640.2" r="7.0"/><circle cx="894.8" cy="639.5" r="7.0"/><circle cx="885.6" cy="641.1" r="7.0"/><circle cx="883.4" cy="641.6" r="7.0"/><circle cx="877.6" cy="639.1" r="7.0"/><circle cx="873.4" cy="635.9" r="7.0"/><circle cx="869.0" cy="632.0" r="7.0"/><circle cx="869.2" cy="632.6" r="7.0"/><circle cx="934.8" cy="689.1" r="7.0"/><circle cx="941.8" cy="690.2" r="7.0"/><circle cx="932.0" cy="696.6" r="7.0"/><circle cx="932.1" cy="693.2" r="7.0"/><circle cx="931.2" cy="692.2" r="7.0"/><circle cx="936.8" cy="691.3" r="7.0"/><circle cx="942.5" cy="691.1" r="7.0"/><circle cx="943.7" cy="690.1" r="7.0"/><circle cx="943.7" cy="689.8" r="7.0"/><circle cx="942.5" cy="689.7" r="7.0"/><circle cx="938.2" cy="692.1" r="7.0"/><circle cx="931.2" cy="698.4" r="7.0"/><circle cx="930.8" cy="699.1" r="7.0"/><circle cx="930.7" cy="698.6" r="7.0"/><circle cx="929.2" cy="698.2" r="7.0"/><circle cx="930.5" cy="695.6" r="7.0"/><circle cx="736.9" cy="705.2" r="7.0"/><circle cx="738.1" cy="721.1" r="7.0"/><circle cx="751.7" cy="718.4" r="7.0"/><circle cx="738.9" cy="701.7" r="7.0"/><circle cx="737.4" cy="701.2" r="7.0"/><circle cx="737.4" cy="701.5" r="7.0"/><circle cx="738.5" cy="701.0" r="7.0"/><circle cx="736.5" cy="703.7" r="7.0"/><circle cx="736.0" cy="717.5" r="7.0"/><circle cx="743.6" cy="718.5" r="7.0"/><circle cx="751.9" cy="717.0" r="7.0"/><circle cx="751.6" cy="719.5" r="7.0"/><circle cx="755.1" cy="721.8" r="7.0"/><circle cx="755.4" cy="719.8" r="7.0"/><circle cx="755.8" cy="721.0" r="7.0"/><circle cx="750.8" cy="718.6" r="7.0"/><circle cx="740.6" cy="718.2" r="7.0"/><circle cx="735.3" cy="718.6" r="7.0"/><circle cx="735.3" cy="720.3" r="7.0"/><circle cx="732.4" cy="716.6" r="7.0"/><circle cx="729.8" cy="709.8" r="7.0"/><circle cx="730.6" cy="709.7" r="7.0"/><circle cx="730.5" cy="709.5" r="7.0"/><circle cx="737.6" cy="701.9" r="7.0"/><circle cx="767.3" cy="661.8" r="7.0"/><circle cx="764.5" cy="668.7" r="7.0"/><circle cx="770.6" cy="671.4" r="7.0"/><circle cx="787.7" cy="670.1" r="7.0"/><circle cx="822.6" cy="668.1" r="7.0"/><circle cx="751.5" cy="675.7" r="7.0"/><circle cx="760.0" cy="675.4" r="7.0"/><circle cx="767.3" cy="677.5" r="7.0"/><circle cx="773.7" cy="676.1" r="7.0"/><circle cx="782.6" cy="675.5" r="7.0"/><circle cx="807.2" cy="675.7" r="7.0"/><circle cx="811.6" cy="678.0" r="7.0"/><circle cx="821.0" cy="677.9" r="7.0"/><circle cx="757.7" cy="681.3" r="7.0"/><circle cx="762.9" cy="682.9" r="7.0"/><circle cx="779.5" cy="681.3" r="7.0"/><circle cx="788.1" cy="684.6" r="7.0"/><circle cx="795.7" cy="682.9" r="7.0"/><circle cx="810.3" cy="684.6" r="7.0"/><circle cx="816.7" cy="682.8" r="7.0"/><circle cx="761.9" cy="687.6" r="7.0"/><circle cx="784.4" cy="689.0" r="7.0"/><circle cx="790.5" cy="688.8" r="7.0"/><circle cx="797.1" cy="688.4" r="7.0"/><circle cx="803.9" cy="687.5" r="7.0"/><circle cx="813.2" cy="690.1" r="7.0"/><circle cx="841.8" cy="690.9" r="7.0"/><circle cx="787.3" cy="694.3" r="7.0"/><circle cx="794.5" cy="696.7" r="7.0"/><circle cx="803.2" cy="696.7" r="7.0"/><circle cx="809.4" cy="695.4" r="7.0"/><circle cx="817.2" cy="696.3" r="7.0"/><circle cx="839.7" cy="697.1" r="7.0"/><circle cx="766.9" cy="701.7" r="7.0"/><circle cx="782.1" cy="704.0" r="7.0"/><circle cx="806.6" cy="702.5" r="7.0"/><circle cx="836.9" cy="701.3" r="7.0"/><circle cx="780.3" cy="710.4" r="7.0"/><circle cx="785.8" cy="709.4" r="7.0"/><circle cx="830.8" cy="707.6" r="7.0"/><circle cx="840.5" cy="709.9" r="7.0"/><circle cx="784.8" cy="716.6" r="7.0"/><circle cx="790.4" cy="713.6" r="7.0"/><circle cx="806.4" cy="713.8" r="7.0"/><circle cx="835.4" cy="717.0" r="7.0"/><circle cx="859.3" cy="715.4" r="7.0"/><circle cx="878.9" cy="716.3" r="7.0"/><circle cx="887.9" cy="716.3" r="7.0"/><circle cx="895.3" cy="715.0" r="7.0"/><circle cx="903.8" cy="714.8" r="7.0"/><circle cx="788.0" cy="721.3" r="7.0"/><circle cx="838.6" cy="721.1" r="7.0"/><circle cx="847.3" cy="723.5" r="7.0"/><circle cx="853.1" cy="722.8" r="7.0"/><circle cx="871.0" cy="723.3" r="7.0"/><circle cx="875.4" cy="722.6" r="7.0"/><circle cx="885.2" cy="721.3" r="7.0"/><circle cx="890.1" cy="722.7" r="7.0"/><circle cx="899.7" cy="722.7" r="7.0"/><circle cx="907.7" cy="722.6" r="7.0"/><circle cx="912.6" cy="723.4" r="7.0"/><circle cx="775.2" cy="727.5" r="7.0"/><circle cx="797.1" cy="728.6" r="7.0"/><circle cx="804.5" cy="727.4" r="7.0"/><circle cx="834.1" cy="730.0" r="7.0"/><circle cx="841.9" cy="728.7" r="7.0"/><circle cx="849.6" cy="729.4" r="7.0"/><circle cx="866.6" cy="729.0" r="7.0"/><circle cx="872.3" cy="727.5" r="7.0"/><circle cx="880.8" cy="728.4" r="7.0"/><circle cx="888.8" cy="726.7" r="7.0"/><circle cx="893.9" cy="726.5" r="7.0"/><circle cx="904.1" cy="727.1" r="7.0"/><circle cx="911.4" cy="728.1" r="7.0"/><circle cx="773.2" cy="733.5" r="7.0"/><circle cx="807.6" cy="735.4" r="7.0"/><circle cx="833.5" cy="733.8" r="7.0"/><circle cx="870.2" cy="733.1" r="7.0"/><circle cx="877.6" cy="736.3" r="7.0"/><circle cx="885.0" cy="736.3" r="7.0"/><circle cx="893.4" cy="735.5" r="7.0"/><circle cx="900.1" cy="734.0" r="7.0"/><circle cx="907.7" cy="734.1" r="7.0"/><circle cx="928.0" cy="734.0" r="7.0"/><circle cx="776.6" cy="741.4" r="7.0"/><circle cx="804.6" cy="741.4" r="7.0"/><circle cx="811.6" cy="742.4" r="7.0"/><circle cx="820.2" cy="742.7" r="7.0"/><circle cx="829.6" cy="742.3" r="7.0"/><circle cx="834.1" cy="740.3" r="7.0"/><circle cx="865.8" cy="741.1" r="7.0"/><circle cx="887.6" cy="740.1" r="7.0"/><circle cx="895.5" cy="740.4" r="7.0"/><circle cx="904.6" cy="740.2" r="7.0"/><circle cx="910.7" cy="739.5" r="7.0"/><circle cx="925.5" cy="741.8" r="7.0"/><circle cx="933.3" cy="741.7" r="7.0"/><circle cx="787.5" cy="749.5" r="7.0"/><circle cx="802.8" cy="748.9" r="7.0"/><circle cx="810.9" cy="747.2" r="7.0"/><circle cx="825.4" cy="748.8" r="7.0"/><circle cx="831.9" cy="746.4" r="7.0"/><circle cx="875.6" cy="748.8" r="7.0"/><circle cx="884.9" cy="748.9" r="7.0"/><circle cx="892.0" cy="747.9" r="7.0"/><circle cx="900.5" cy="748.3" r="7.0"/><circle cx="905.9" cy="749.1" r="7.0"/><circle cx="913.1" cy="746.9" r="7.0"/><circle cx="782.4" cy="753.5" r="7.0"/><circle cx="789.9" cy="754.1" r="7.0"/><circle cx="836.5" cy="754.5" r="7.0"/><circle cx="843.1" cy="754.7" r="7.0"/><circle cx="850.1" cy="754.5" r="7.0"/><circle cx="888.9" cy="754.1" r="7.0"/><circle cx="895.8" cy="754.3" r="7.0"/><circle cx="903.3" cy="753.7" r="7.0"/><circle cx="839.3" cy="761.2" r="7.0"/><circle cx="853.0" cy="759.9" r="7.0"/><circle cx="747.9" cy="674.1" r="7.0"/><circle cx="748.9" cy="675.7" r="7.0"/><circle cx="754.0" cy="675.6" r="7.0"/><circle cx="765.1" cy="668.6" r="7.0"/><circle cx="768.1" cy="663.6" r="7.0"/><circle cx="768.9" cy="663.7" r="7.0"/><circle cx="767.5" cy="664.0" r="7.0"/><circle cx="768.4" cy="666.1" r="7.0"/><circle cx="775.8" cy="673.5" r="7.0"/><circle cx="789.0" cy="670.0" r="7.0"/><circle cx="787.2" cy="671.4" r="7.0"/><circle cx="787.2" cy="671.6" r="7.0"/><circle cx="789.0" cy="672.1" r="7.0"/><circle cx="791.4" cy="682.7" r="7.0"/><circle cx="799.0" cy="684.8" r="7.0"/><circle cx="809.6" cy="677.6" r="7.0"/><circle cx="810.4" cy="674.7" r="7.0"/><circle cx="810.2" cy="675.2" r="7.0"/><circle cx="814.5" cy="673.7" r="7.0"/><circle cx="823.7" cy="667.0" r="7.0"/><circle cx="825.7" cy="665.1" r="7.0"/><circle cx="825.0" cy="666.0" r="7.0"/><circle cx="825.5" cy="664.8" r="7.0"/><circle cx="824.8" cy="666.0" r="7.0"/><circle cx="823.3" cy="670.9" r="7.0"/><circle cx="819.7" cy="678.5" r="7.0"/><circle cx="818.4" cy="688.3" r="7.0"/><circle cx="819.4" cy="692.8" r="7.0"/><circle cx="833.6" cy="703.7" r="7.0"/><circle cx="839.6" cy="693.5" r="7.0"/><circle cx="839.7" cy="695.1" r="7.0"/><circle cx="842.6" cy="692.8" r="7.0"/><circle cx="845.2" cy="691.1" r="7.0"/><circle cx="846.3" cy="692.5" r="7.0"/><circle cx="846.3" cy="693.3" r="7.0"/><circle cx="846.1" cy="693.2" r="7.0"/><circle cx="841.3" cy="695.6" r="7.0"/><circle cx="838.1" cy="708.8" r="7.0"/><circle cx="841.7" cy="714.4" r="7.0"/><circle cx="843.2" cy="720.2" r="7.0"/><circle cx="858.2" cy="718.7" r="7.0"/><circle cx="860.2" cy="715.4" r="7.0"/><circle cx="862.3" cy="707.0" r="7.0"/><circle cx="863.0" cy="705.2" r="7.0"/><circle cx="863.2" cy="705.3" r="7.0"/><circle cx="863.2" cy="705.1" r="7.0"/><circle cx="863.0" cy="705.5" r="7.0"/><circle cx="862.2" cy="709.2" r="7.0"/><circle cx="859.1" cy="717.9" r="7.0"/><circle cx="859.3" cy="719.2" r="7.0"/><circle cx="867.4" cy="727.5" r="7.0"/><circle cx="873.8" cy="723.3" r="7.0"/><circle cx="877.5" cy="715.1" r="7.0"/><circle cx="880.2" cy="713.7" r="7.0"/><circle cx="882.7" cy="713.2" r="7.0"/><circle cx="886.8" cy="713.8" r="7.0"/><circle cx="898.0" cy="713.5" r="7.0"/><circle cx="904.8" cy="706.0" r="7.0"/><circle cx="905.2" cy="705.7" r="7.0"/><circle cx="906.5" cy="706.4" r="7.0"/><circle cx="905.6" cy="706.5" r="7.0"/><circle cx="906.4" cy="706.2" r="7.0"/><circle cx="904.2" cy="716.3" r="7.0"/><circle cx="912.1" cy="725.5" r="7.0"/><circle cx="914.3" cy="726.3" r="7.0"/><circle cx="925.5" cy="730.4" r="7.0"/><circle cx="926.8" cy="729.1" r="7.0"/><circle cx="927.6" cy="729.7" r="7.0"/><circle cx="929.9" cy="731.6" r="7.0"/><circle cx="940.7" cy="737.3" r="7.0"/><circle cx="940.4" cy="737.3" r="7.0"/><circle cx="941.2" cy="736.5" r="7.0"/><circle cx="941.2" cy="736.2" r="7.0"/><circle cx="936.5" cy="742.4" r="7.0"/><circle cx="934.4" cy="746.5" r="7.0"/><circle cx="932.1" cy="746.3" r="7.0"/><circle cx="929.9" cy="745.9" r="7.0"/><circle cx="919.6" cy="743.6" r="7.0"/><circle cx="912.8" cy="749.4" r="7.0"/><circle cx="911.1" cy="750.6" r="7.0"/><circle cx="904.5" cy="751.6" r="7.0"/><circle cx="902.8" cy="751.9" r="7.0"/><circle cx="892.5" cy="755.4" r="7.0"/><circle cx="892.0" cy="756.2" r="7.0"/><circle cx="892.1" cy="756.0" r="7.0"/><circle cx="889.2" cy="754.8" r="7.0"/><circle cx="878.8" cy="749.3" r="7.0"/><circle cx="879.0" cy="749.8" r="7.0"/><circle cx="877.4" cy="748.4" r="7.0"/><circle cx="876.2" cy="750.2" r="7.0"/><circle cx="878.5" cy="738.4" r="7.0"/><circle cx="865.8" cy="739.0" r="7.0"/><circle cx="863.7" cy="741.0" r="7.0"/><circle cx="862.0" cy="754.3" r="7.0"/><circle cx="861.5" cy="754.4" r="7.0"/><circle cx="862.2" cy="754.5" r="7.0"/><circle cx="862.2" cy="756.4" r="7.0"/><circle cx="852.1" cy="759.6" r="7.0"/><circle cx="852.8" cy="760.1" r="7.0"/><circle cx="852.0" cy="758.6" r="7.0"/><circle cx="840.7" cy="758.0" r="7.0"/><circle cx="836.5" cy="759.8" r="7.0"/><circle cx="836.4" cy="761.1" r="7.0"/><circle cx="835.0" cy="758.5" r="7.0"/><circle cx="831.4" cy="754.8" r="7.0"/><circle cx="826.9" cy="749.6" r="7.0"/><circle cx="817.7" cy="743.2" r="7.0"/><circle cx="810.5" cy="744.9" r="7.0"/><circle cx="806.8" cy="746.9" r="7.0"/><circle cx="799.5" cy="750.1" r="7.0"/><circle cx="793.6" cy="753.6" r="7.0"/><circle cx="793.2" cy="755.3" r="7.0"/><circle cx="785.9" cy="756.4" r="7.0"/><circle cx="784.1" cy="754.5" r="7.0"/><circle cx="783.4" cy="753.9" r="7.0"/><circle cx="783.2" cy="752.7" r="7.0"/><circle cx="775.8" cy="742.2" r="7.0"/><circle cx="774.5" cy="742.8" r="7.0"/><circle cx="767.2" cy="737.0" r="7.0"/><circle cx="768.6" cy="737.4" r="7.0"/><circle cx="768.4" cy="736.0" r="7.0"/><circle cx="771.0" cy="733.0" r="7.0"/><circle cx="773.4" cy="728.6" r="7.0"/><circle cx="778.0" cy="727.4" r="7.0"/><circle cx="781.3" cy="715.7" r="7.0"/><circle cx="780.7" cy="710.2" r="7.0"/><circle cx="779.0" cy="704.3" r="7.0"/><circle cx="766.2" cy="705.2" r="7.0"/><circle cx="766.9" cy="704.3" r="7.0"/><circle cx="768.0" cy="703.2" r="7.0"/><circle cx="767.2" cy="703.2" r="7.0"/><circle cx="767.1" cy="702.4" r="7.0"/><circle cx="759.7" cy="691.2" r="7.0"/><circle cx="755.2" cy="690.4" r="7.0"/><circle cx="754.0" cy="688.3" r="7.0"/><circle cx="753.2" cy="688.8" r="7.0"/><circle cx="751.7" cy="677.2" r="7.0"/><circle cx="748.0" cy="674.2" r="7.0"/><circle cx="748.9" cy="675.9" r="7.0"/><circle cx="779.1" cy="702.9" r="7.0"/><circle cx="765.5" cy="695.9" r="7.0"/><circle cx="767.5" cy="687.7" r="7.0"/><circle cx="782.8" cy="688.1" r="7.0"/><circle cx="784.5" cy="696.4" r="7.0"/><circle cx="803.0" cy="712.2" r="7.0"/><circle cx="788.6" cy="708.9" r="7.0"/><circle cx="790.5" cy="700.6" r="7.0"/><circle cx="798.6" cy="698.0" r="7.0"/><circle cx="804.9" cy="703.9" r="7.0"/><circle cx="806.5" cy="717.9" r="7.0"/><circle cx="804.5" cy="726.2" r="7.0"/><circle cx="796.2" cy="728.6" r="7.0"/><circle cx="790.1" cy="722.7" r="7.0"/><circle cx="792.1" cy="714.4" r="7.0"/><circle cx="779.8" cy="741.3" r="7.0"/><circle cx="777.0" cy="733.9" r="7.0"/><circle cx="780.3" cy="726.6" r="7.0"/><circle cx="787.8" cy="723.8" r="7.0"/><circle cx="797.5" cy="733.1" r="7.0"/><circle cx="802.1" cy="739.8" r="7.0"/><circle cx="799.7" cy="747.5" r="7.0"/><circle cx="792.2" cy="750.5" r="7.0"/><circle cx="785.2" cy="746.5" r="7.0"/><circle cx="807.1" cy="719.9" r="7.0"/><circle cx="808.0" cy="712.0" r="7.0"/><circle cx="828.1" cy="710.8" r="7.0"/><circle cx="830.0" cy="718.6" r="7.0"/><circle cx="832.5" cy="723.8" r="7.0"/><circle cx="831.2" cy="732.4" r="7.0"/><circle cx="824.2" cy="737.5" r="7.0"/><circle cx="813.8" cy="699.1" r="7.0"/><circle cx="808.1" cy="704.8" r="7.0"/><circle cx="847.6" cy="750.8" r="7.0"/><circle cx="840.3" cy="747.7" r="7.0"/><circle cx="837.4" cy="740.2" r="7.0"/><circle cx="840.6" cy="732.9" r="7.0"/><circle cx="848.0" cy="730.0" r="7.0"/><circle cx="863.2" cy="741.2" r="7.0"/><circle cx="859.2" cy="755.2" r="7.0"/><circle cx="851.1" cy="754.8" r="7.0"/><circle cx="859.3" cy="724.2" r="7.0"/><circle cx="866.4" cy="729.0" r="7.0"/><circle cx="865.7" cy="737.5" r="7.0"/><circle cx="851.6" cy="727.9" r="7.0"/><circle cx="918.0" cy="742.6" r="7.0"/><circle cx="911.3" cy="737.5" r="7.0"/><circle cx="912.4" cy="729.2" r="7.0"/><circle cx="926.8" cy="731.0" r="7.0"/><circle cx="925.8" cy="739.3" r="7.0"/><circle cx="808.3" cy="705.5" r="7.0"/><circle cx="812.9" cy="699.0" r="7.0"/><circle cx="820.7" cy="697.6" r="7.0"/><circle cx="828.6" cy="709.9" r="7.0"/><circle cx="830.1" cy="718.1" r="7.0"/><circle cx="817.4" cy="737.2" r="7.0"/><circle cx="809.7" cy="733.3" r="7.0"/><circle cx="807.9" cy="724.9" r="7.0"/><circle cx="767.9" cy="701.3" r="7.0"/><circle cx="764.8" cy="693.9" r="7.0"/><circle cx="778.3" cy="681.5" r="7.0"/><circle cx="783.2" cy="688.2" r="7.0"/><circle cx="770.1" cy="682.4" r="7.0"/><circle cx="798.6" cy="733.8" r="7.0"/><circle cx="1036.8" cy="442.3" r="7.0"/><circle cx="1052.9" cy="446.4" r="7.0"/><circle cx="1066.6" cy="446.4" r="7.0"/><circle cx="1051.2" cy="453.0" r="7.0"/><circle cx="1052.9" cy="458.0" r="7.0"/>
</g>
<g fill="#ce6586">
<circle cx="1451.3" cy="238.2" r="7.0"/><circle cx="1434.4" cy="243.0" r="7.0"/><circle cx="1441.3" cy="244.3" r="7.0"/><circle cx="1450.5" cy="242.1" r="7.0"/><circle cx="1458.0" cy="244.2" r="7.0"/><circle cx="1462.3" cy="243.4" r="7.0"/><circle cx="1424.0" cy="251.9" r="7.0"/><circle cx="1461.2" cy="251.9" r="7.0"/><circle cx="1465.9" cy="250.8" r="7.0"/><circle cx="1483.5" cy="249.0" r="7.0"/><circle cx="1504.1" cy="250.7" r="7.0"/><circle cx="1418.0" cy="257.7" r="7.0"/><circle cx="1463.0" cy="255.2" r="7.0"/><circle cx="1469.9" cy="255.1" r="7.0"/><circle cx="1487.0" cy="256.1" r="7.0"/><circle cx="1507.9" cy="256.5" r="7.0"/><circle cx="1459.6" cy="263.3" r="7.0"/><circle cx="1469.1" cy="262.3" r="7.0"/><circle cx="1475.1" cy="262.4" r="7.0"/><circle cx="1482.1" cy="262.2" r="7.0"/><circle cx="1491.3" cy="263.2" r="7.0"/><circle cx="1496.0" cy="264.5" r="7.0"/><circle cx="1409.9" cy="268.1" r="7.0"/><circle cx="1435.3" cy="270.9" r="7.0"/><circle cx="1440.0" cy="271.4" r="7.0"/><circle cx="1448.0" cy="268.2" r="7.0"/><circle cx="1456.1" cy="270.4" r="7.0"/><circle cx="1470.5" cy="269.7" r="7.0"/><circle cx="1477.9" cy="270.6" r="7.0"/><circle cx="1487.5" cy="270.9" r="7.0"/><circle cx="1492.3" cy="269.9" r="7.0"/><circle cx="1406.6" cy="277.6" r="7.0"/><circle cx="1429.2" cy="277.9" r="7.0"/><circle cx="1439.1" cy="276.9" r="7.0"/><circle cx="1443.6" cy="275.5" r="7.0"/><circle cx="1451.7" cy="276.6" r="7.0"/><circle cx="1474.2" cy="277.0" r="7.0"/><circle cx="1482.7" cy="276.5" r="7.0"/><circle cx="1490.2" cy="274.8" r="7.0"/><circle cx="1511.9" cy="276.1" r="7.0"/><circle cx="1390.2" cy="282.6" r="7.0"/><circle cx="1396.3" cy="284.2" r="7.0"/><circle cx="1404.4" cy="282.5" r="7.0"/><circle cx="1409.6" cy="284.5" r="7.0"/><circle cx="1418.8" cy="283.6" r="7.0"/><circle cx="1427.5" cy="281.5" r="7.0"/><circle cx="1432.5" cy="283.3" r="7.0"/><circle cx="1471.1" cy="283.9" r="7.0"/><circle cx="1478.8" cy="282.6" r="7.0"/><circle cx="1485.5" cy="281.4" r="7.0"/><circle cx="1384.3" cy="288.0" r="7.0"/><circle cx="1393.1" cy="288.6" r="7.0"/><circle cx="1415.3" cy="288.4" r="7.0"/><circle cx="1423.2" cy="288.3" r="7.0"/><circle cx="1430.8" cy="288.8" r="7.0"/><circle cx="1436.6" cy="289.5" r="7.0"/><circle cx="1395.0" cy="297.0" r="7.0"/><circle cx="1419.3" cy="295.2" r="7.0"/><circle cx="1426.7" cy="294.4" r="7.0"/><circle cx="1435.1" cy="295.3" r="7.0"/><circle cx="1441.6" cy="297.1" r="7.0"/><circle cx="1462.6" cy="295.2" r="7.0"/><circle cx="1391.2" cy="302.3" r="7.0"/><circle cx="1400.9" cy="302.5" r="7.0"/><circle cx="1439.3" cy="303.0" r="7.0"/><circle cx="1443.5" cy="304.0" r="7.0"/><circle cx="1454.4" cy="300.8" r="7.0"/><circle cx="1460.9" cy="301.2" r="7.0"/><circle cx="1467.8" cy="303.8" r="7.0"/><circle cx="1388.5" cy="308.5" r="7.0"/><circle cx="1395.1" cy="309.7" r="7.0"/><circle cx="1434.2" cy="310.6" r="7.0"/><circle cx="1443.2" cy="309.8" r="7.0"/><circle cx="1448.5" cy="310.5" r="7.0"/><circle cx="1456.8" cy="309.7" r="7.0"/><circle cx="1464.6" cy="309.5" r="7.0"/><circle cx="1471.4" cy="307.0" r="7.0"/><circle cx="1479.4" cy="309.4" r="7.0"/><circle cx="1487.2" cy="310.0" r="7.0"/><circle cx="1493.9" cy="309.1" r="7.0"/><circle cx="1501.1" cy="310.6" r="7.0"/><circle cx="1438.4" cy="315.8" r="7.0"/><circle cx="1446.4" cy="315.2" r="7.0"/><circle cx="1452.1" cy="314.9" r="7.0"/><circle cx="1459.7" cy="313.7" r="7.0"/><circle cx="1468.8" cy="315.9" r="7.0"/><circle cx="1474.4" cy="314.8" r="7.0"/><circle cx="1506.5" cy="316.8" r="7.0"/><circle cx="1511.2" cy="314.3" r="7.0"/><circle cx="1443.1" cy="322.7" r="7.0"/><circle cx="1457.1" cy="320.5" r="7.0"/><circle cx="1462.9" cy="322.2" r="7.0"/><circle cx="1472.7" cy="321.9" r="7.0"/><circle cx="1502.2" cy="322.7" r="7.0"/><circle cx="1507.4" cy="321.7" r="7.0"/><circle cx="1515.9" cy="322.5" r="7.0"/><circle cx="1522.8" cy="320.4" r="7.0"/><circle cx="1460.1" cy="329.2" r="7.0"/><circle cx="1467.6" cy="329.2" r="7.0"/><circle cx="1473.5" cy="328.4" r="7.0"/><circle cx="1520.2" cy="326.9" r="7.0"/><circle cx="1526.9" cy="328.8" r="7.0"/><circle cx="1457.7" cy="333.2" r="7.0"/><circle cx="1464.8" cy="335.2" r="7.0"/><circle cx="1473.2" cy="333.2" r="7.0"/><circle cx="1477.5" cy="335.1" r="7.0"/><circle cx="1495.1" cy="333.1" r="7.0"/><circle cx="1461.7" cy="340.8" r="7.0"/><circle cx="1466.2" cy="341.5" r="7.0"/><circle cx="1476.6" cy="342.2" r="7.0"/><circle cx="1457.2" cy="347.7" r="7.0"/><circle cx="1463.4" cy="346.8" r="7.0"/><circle cx="1470.3" cy="348.1" r="7.0"/><circle cx="1469.0" cy="355.7" r="7.0"/><circle cx="1451.5" cy="237.8" r="7.0"/><circle cx="1452.5" cy="237.6" r="7.0"/><circle cx="1457.6" cy="240.1" r="7.0"/><circle cx="1461.9" cy="244.0" r="7.0"/><circle cx="1463.9" cy="247.8" r="7.0"/><circle cx="1467.4" cy="255.1" r="7.0"/><circle cx="1482.2" cy="257.2" r="7.0"/><circle cx="1485.5" cy="249.1" r="7.0"/><circle cx="1485.2" cy="249.9" r="7.0"/><circle cx="1485.2" cy="249.2" r="7.0"/><circle cx="1485.1" cy="249.6" r="7.0"/><circle cx="1493.3" cy="258.1" r="7.0"/><circle cx="1504.3" cy="250.2" r="7.0"/><circle cx="1504.1" cy="252.5" r="7.0"/><circle cx="1504.2" cy="251.7" r="7.0"/><circle cx="1503.9" cy="251.7" r="7.0"/><circle cx="1510.2" cy="258.7" r="7.0"/><circle cx="1508.9" cy="259.1" r="7.0"/><circle cx="1509.8" cy="257.7" r="7.0"/><circle cx="1509.1" cy="258.2" r="7.0"/><circle cx="1508.6" cy="257.3" r="7.0"/><circle cx="1494.6" cy="261.6" r="7.0"/><circle cx="1496.3" cy="269.4" r="7.0"/><circle cx="1508.8" cy="273.6" r="7.0"/><circle cx="1508.9" cy="274.4" r="7.0"/><circle cx="1511.0" cy="275.7" r="7.0"/><circle cx="1510.2" cy="278.1" r="7.0"/><circle cx="1510.8" cy="278.9" r="7.0"/><circle cx="1510.4" cy="279.3" r="7.0"/><circle cx="1509.2" cy="276.7" r="7.0"/><circle cx="1498.1" cy="270.7" r="7.0"/><circle cx="1492.3" cy="275.7" r="7.0"/><circle cx="1488.4" cy="283.9" r="7.0"/><circle cx="1487.0" cy="282.8" r="7.0"/><circle cx="1486.6" cy="283.4" r="7.0"/><circle cx="1477.6" cy="282.5" r="7.0"/><circle cx="1471.5" cy="284.7" r="7.0"/><circle cx="1471.4" cy="284.1" r="7.0"/><circle cx="1471.4" cy="284.7" r="7.0"/><circle cx="1471.5" cy="284.9" r="7.0"/><circle cx="1473.0" cy="274.3" r="7.0"/><circle cx="1469.8" cy="267.0" r="7.0"/><circle cx="1456.4" cy="268.2" r="7.0"/><circle cx="1455.8" cy="270.9" r="7.0"/><circle cx="1450.9" cy="276.2" r="7.0"/><circle cx="1447.2" cy="277.4" r="7.0"/><circle cx="1448.0" cy="278.1" r="7.0"/><circle cx="1437.9" cy="284.7" r="7.0"/><circle cx="1443.0" cy="296.0" r="7.0"/><circle cx="1446.5" cy="298.8" r="7.0"/><circle cx="1460.1" cy="296.6" r="7.0"/><circle cx="1460.8" cy="296.2" r="7.0"/><circle cx="1461.7" cy="294.5" r="7.0"/><circle cx="1464.7" cy="297.7" r="7.0"/><circle cx="1470.2" cy="301.1" r="7.0"/><circle cx="1471.8" cy="304.0" r="7.0"/><circle cx="1485.9" cy="302.8" r="7.0"/><circle cx="1483.9" cy="302.7" r="7.0"/><circle cx="1484.6" cy="303.2" r="7.0"/><circle cx="1496.7" cy="307.2" r="7.0"/><circle cx="1498.9" cy="307.0" r="7.0"/><circle cx="1500.4" cy="306.0" r="7.0"/><circle cx="1501.4" cy="308.4" r="7.0"/><circle cx="1510.8" cy="312.6" r="7.0"/><circle cx="1512.5" cy="311.8" r="7.0"/><circle cx="1513.2" cy="312.8" r="7.0"/><circle cx="1524.3" cy="316.2" r="7.0"/><circle cx="1524.1" cy="316.0" r="7.0"/><circle cx="1525.2" cy="317.2" r="7.0"/><circle cx="1526.2" cy="325.1" r="7.0"/><circle cx="1529.9" cy="331.1" r="7.0"/><circle cx="1529.7" cy="332.7" r="7.0"/><circle cx="1527.9" cy="331.4" r="7.0"/><circle cx="1527.2" cy="331.6" r="7.0"/><circle cx="1519.7" cy="329.0" r="7.0"/><circle cx="1516.4" cy="328.0" r="7.0"/><circle cx="1513.3" cy="323.2" r="7.0"/><circle cx="1499.5" cy="334.6" r="7.0"/><circle cx="1499.4" cy="333.8" r="7.0"/><circle cx="1497.4" cy="332.9" r="7.0"/><circle cx="1496.6" cy="332.4" r="7.0"/><circle cx="1484.2" cy="332.8" r="7.0"/><circle cx="1479.1" cy="335.4" r="7.0"/><circle cx="1475.8" cy="345.2" r="7.0"/><circle cx="1476.7" cy="346.2" r="7.0"/><circle cx="1473.0" cy="353.0" r="7.0"/><circle cx="1471.5" cy="357.7" r="7.0"/><circle cx="1471.7" cy="357.5" r="7.0"/><circle cx="1471.4" cy="356.1" r="7.0"/><circle cx="1465.0" cy="352.1" r="7.0"/><circle cx="1460.6" cy="348.6" r="7.0"/><circle cx="1458.6" cy="347.7" r="7.0"/><circle cx="1458.8" cy="347.9" r="7.0"/><circle cx="1457.3" cy="335.8" r="7.0"/><circle cx="1457.6" cy="334.0" r="7.0"/><circle cx="1457.4" cy="331.0" r="7.0"/><circle cx="1453.2" cy="319.8" r="7.0"/><circle cx="1442.6" cy="321.4" r="7.0"/><circle cx="1441.0" cy="321.4" r="7.0"/><circle cx="1441.7" cy="320.6" r="7.0"/><circle cx="1432.7" cy="313.4" r="7.0"/><circle cx="1432.0" cy="312.5" r="7.0"/><circle cx="1430.4" cy="311.9" r="7.0"/><circle cx="1431.9" cy="309.7" r="7.0"/><circle cx="1424.7" cy="297.5" r="7.0"/><circle cx="1423.8" cy="296.5" r="7.0"/><circle cx="1413.9" cy="292.7" r="7.0"/><circle cx="1413.9" cy="292.5" r="7.0"/><circle cx="1411.9" cy="288.1" r="7.0"/><circle cx="1402.9" cy="282.6" r="7.0"/><circle cx="1394.2" cy="291.5" r="7.0"/><circle cx="1398.4" cy="303.2" r="7.0"/><circle cx="1402.5" cy="306.1" r="7.0"/><circle cx="1402.5" cy="306.8" r="7.0"/><circle cx="1403.4" cy="308.0" r="7.0"/><circle cx="1401.2" cy="307.9" r="7.0"/><circle cx="1391.3" cy="313.4" r="7.0"/><circle cx="1389.4" cy="313.1" r="7.0"/><circle cx="1389.3" cy="313.5" r="7.0"/><circle cx="1383.3" cy="307.8" r="7.0"/><circle cx="1379.9" cy="306.0" r="7.0"/><circle cx="1380.2" cy="305.7" r="7.0"/><circle cx="1382.2" cy="306.4" r="7.0"/><circle cx="1387.7" cy="301.4" r="7.0"/><circle cx="1386.3" cy="287.8" r="7.0"/><circle cx="1384.0" cy="284.9" r="7.0"/><circle cx="1384.6" cy="285.0" r="7.0"/><circle cx="1383.4" cy="283.1" r="7.0"/><circle cx="1385.1" cy="270.8" r="7.0"/><circle cx="1384.4" cy="267.9" r="7.0"/><circle cx="1384.3" cy="266.3" r="7.0"/><circle cx="1384.7" cy="266.9" r="7.0"/><circle cx="1383.8" cy="267.4" r="7.0"/><circle cx="1385.6" cy="270.0" r="7.0"/><circle cx="1389.2" cy="278.6" r="7.0"/><circle cx="1401.6" cy="279.7" r="7.0"/><circle cx="1407.1" cy="268.9" r="7.0"/><circle cx="1407.7" cy="269.5" r="7.0"/><circle cx="1409.8" cy="268.8" r="7.0"/><circle cx="1416.4" cy="260.8" r="7.0"/><circle cx="1416.9" cy="257.6" r="7.0"/><circle cx="1417.8" cy="256.9" r="7.0"/><circle cx="1424.9" cy="249.7" r="7.0"/><circle cx="1424.6" cy="251.6" r="7.0"/><circle cx="1431.4" cy="243.4" r="7.0"/><circle cx="1433.0" cy="242.9" r="7.0"/><circle cx="1435.3" cy="243.9" r="7.0"/><circle cx="1443.5" cy="243.5" r="7.0"/><circle cx="1440.1" cy="269.3" r="7.0"/><circle cx="1432.1" cy="268.9" r="7.0"/><circle cx="1426.3" cy="263.6" r="7.0"/><circle cx="1425.3" cy="255.7" r="7.0"/><circle cx="1429.5" cy="249.0" r="7.0"/><circle cx="1437.1" cy="246.6" r="7.0"/><circle cx="1443.2" cy="244.5" r="7.0"/><circle cx="1451.4" cy="245.0" r="7.0"/><circle cx="1457.4" cy="250.6" r="7.0"/><circle cx="1458.4" cy="258.8" r="7.0"/><circle cx="1453.9" cy="265.7" r="7.0"/><circle cx="1446.1" cy="268.1" r="7.0"/><circle cx="1411.0" cy="267.8" r="7.0"/><circle cx="1417.5" cy="261.9" r="7.0"/><circle cx="1425.8" cy="264.6" r="7.0"/><circle cx="1427.6" cy="273.1" r="7.0"/><circle cx="1421.1" cy="279.0" r="7.0"/><circle cx="1412.8" cy="276.3" r="7.0"/><circle cx="1485.8" cy="330.2" r="7.0"/><circle cx="1478.3" cy="328.5" r="7.0"/><circle cx="1474.1" cy="321.9" r="7.0"/><circle cx="1475.8" cy="314.3" r="7.0"/><circle cx="1482.4" cy="310.1" r="7.0"/><circle cx="1490.0" cy="311.8" r="7.0"/><circle cx="1496.4" cy="314.7" r="7.0"/><circle cx="1500.5" cy="321.5" r="7.0"/><circle cx="1497.7" cy="328.9" r="7.0"/><circle cx="1490.1" cy="331.4" r="7.0"/><circle cx="1373.9" cy="243.8" r="7.0"/><circle cx="1376.8" cy="248.9" r="7.0"/><circle cx="1366.7" cy="277.7" r="7.0"/><circle cx="1364.1" cy="292.8" r="7.0"/><circle cx="1407.1" cy="328.1" r="7.0"/><circle cx="1416.4" cy="331.7" r="7.0"/><circle cx="1439.5" cy="338.2" r="7.0"/><circle cx="1443.8" cy="345.4" r="7.0"/><circle cx="1437.3" cy="349.0" r="7.0"/><circle cx="1431.6" cy="353.3" r="7.0"/><circle cx="1425.1" cy="357.6" r="7.0"/><circle cx="1417.1" cy="358.3" r="7.0"/><circle cx="1422.2" cy="361.9" r="7.0"/><circle cx="1430.8" cy="359.1" r="7.0"/><circle cx="1420.1" cy="370.3" r="7.0"/><circle cx="1427.2" cy="372.2" r="7.0"/><circle cx="1432.6" cy="371.9" r="7.0"/><circle cx="1408.9" cy="377.1" r="7.0"/><circle cx="1413.9" cy="378.4" r="7.0"/><circle cx="1422.3" cy="378.4" r="7.0"/><circle cx="1430.1" cy="377.4" r="7.0"/><circle cx="1435.9" cy="376.5" r="7.0"/><circle cx="1445.0" cy="378.6" r="7.0"/><circle cx="1404.5" cy="383.7" r="7.0"/><circle cx="1410.1" cy="382.7" r="7.0"/><circle cx="1417.3" cy="385.6" r="7.0"/><circle cx="1440.1" cy="385.7" r="7.0"/><circle cx="1408.5" cy="391.4" r="7.0"/><circle cx="1414.8" cy="390.6" r="7.0"/><circle cx="1444.5" cy="392.3" r="7.0"/><circle cx="1402.9" cy="396.1" r="7.0"/><circle cx="1409.7" cy="396.1" r="7.0"/><circle cx="1419.5" cy="395.7" r="7.0"/><circle cx="1440.4" cy="397.9" r="7.0"/><circle cx="1413.9" cy="373.8" r="7.0"/><circle cx="1416.3" cy="371.3" r="7.0"/><circle cx="1419.5" cy="372.4" r="7.0"/><circle cx="1429.7" cy="372.3" r="7.0"/><circle cx="1434.8" cy="370.7" r="7.0"/><circle cx="1435.2" cy="371.0" r="7.0"/><circle cx="1438.9" cy="375.1" r="7.0"/><circle cx="1446.9" cy="377.6" r="7.0"/><circle cx="1449.9" cy="378.0" r="7.0"/><circle cx="1449.5" cy="378.4" r="7.0"/><circle cx="1448.6" cy="379.5" r="7.0"/><circle cx="1446.5" cy="391.5" r="7.0"/><circle cx="1444.5" cy="392.9" r="7.0"/><circle cx="1443.4" cy="396.1" r="7.0"/><circle cx="1437.3" cy="401.2" r="7.0"/><circle cx="1438.2" cy="401.3" r="7.0"/><circle cx="1439.0" cy="400.6" r="7.0"/><circle cx="1438.4" cy="400.2" r="7.0"/><circle cx="1422.7" cy="400.2" r="7.0"/><circle cx="1423.2" cy="399.0" r="7.0"/><circle cx="1423.9" cy="399.6" r="7.0"/><circle cx="1419.7" cy="399.4" r="7.0"/><circle cx="1410.9" cy="396.1" r="7.0"/><circle cx="1409.1" cy="397.2" r="7.0"/><circle cx="1398.8" cy="395.5" r="7.0"/><circle cx="1398.9" cy="396.2" r="7.0"/><circle cx="1399.3" cy="396.1" r="7.0"/><circle cx="1399.0" cy="396.7" r="7.0"/><circle cx="1401.3" cy="393.6" r="7.0"/><circle cx="1405.9" cy="384.0" r="7.0"/><circle cx="1406.7" cy="383.4" r="7.0"/><circle cx="1408.8" cy="379.1" r="7.0"/><circle cx="1438.3" cy="396.0" r="7.0"/><circle cx="1424.3" cy="396.1" r="7.0"/><circle cx="1422.5" cy="388.5" r="7.0"/><circle cx="1427.3" cy="382.4" r="7.0"/><circle cx="1435.1" cy="382.3" r="7.0"/><circle cx="1440.0" cy="388.4" r="7.0"/>
</g>
<g fill="#365b51">
<circle cx="908.9" cy="312.4" r="7.0"/><circle cx="915.2" cy="321.2" r="7.0"/><circle cx="864.3" cy="325.5" r="7.0"/><circle cx="870.6" cy="326.5" r="7.0"/><circle cx="881.4" cy="324.9" r="7.0"/><circle cx="886.3" cy="328.0" r="7.0"/><circle cx="894.9" cy="326.3" r="7.0"/><circle cx="902.0" cy="327.6" r="7.0"/><circle cx="909.7" cy="326.1" r="7.0"/><circle cx="916.8" cy="327.4" r="7.0"/><circle cx="923.0" cy="326.3" r="7.0"/><circle cx="861.5" cy="333.0" r="7.0"/><circle cx="868.5" cy="332.2" r="7.0"/><circle cx="875.8" cy="334.5" r="7.0"/><circle cx="882.1" cy="331.5" r="7.0"/><circle cx="889.8" cy="331.3" r="7.0"/><circle cx="897.2" cy="332.3" r="7.0"/><circle cx="906.9" cy="334.6" r="7.0"/><circle cx="911.8" cy="332.9" r="7.0"/><circle cx="920.1" cy="334.4" r="7.0"/><circle cx="864.5" cy="339.6" r="7.0"/><circle cx="871.3" cy="337.7" r="7.0"/><circle cx="880.1" cy="340.6" r="7.0"/><circle cx="886.7" cy="339.0" r="7.0"/><circle cx="893.1" cy="339.6" r="7.0"/><circle cx="903.4" cy="339.4" r="7.0"/><circle cx="908.4" cy="338.1" r="7.0"/><circle cx="918.5" cy="340.2" r="7.0"/><circle cx="923.9" cy="339.5" r="7.0"/><circle cx="861.0" cy="345.8" r="7.0"/><circle cx="867.8" cy="346.5" r="7.0"/><circle cx="875.1" cy="347.0" r="7.0"/><circle cx="884.7" cy="346.2" r="7.0"/><circle cx="892.7" cy="345.0" r="7.0"/><circle cx="900.2" cy="344.3" r="7.0"/><circle cx="906.2" cy="344.8" r="7.0"/><circle cx="912.1" cy="345.1" r="7.0"/><circle cx="920.6" cy="344.1" r="7.0"/><circle cx="879.9" cy="352.4" r="7.0"/><circle cx="886.0" cy="354.0" r="7.0"/><circle cx="894.2" cy="351.3" r="7.0"/><circle cx="882.5" cy="358.4" r="7.0"/><circle cx="890.6" cy="357.3" r="7.0"/><circle cx="873.6" cy="366.5" r="7.0"/><circle cx="878.4" cy="367.1" r="7.0"/><circle cx="887.9" cy="365.5" r="7.0"/><circle cx="894.7" cy="366.5" r="7.0"/><circle cx="874.6" cy="373.4" r="7.0"/><circle cx="884.1" cy="373.0" r="7.0"/><circle cx="890.4" cy="373.3" r="7.0"/><circle cx="886.9" cy="379.0" r="7.0"/><circle cx="862.5" cy="327.4" r="7.0"/><circle cx="865.1" cy="323.9" r="7.0"/><circle cx="865.1" cy="324.1" r="7.0"/><circle cx="877.0" cy="324.7" r="7.0"/><circle cx="881.9" cy="321.7" r="7.0"/><circle cx="885.1" cy="323.9" r="7.0"/><circle cx="892.6" cy="326.8" r="7.0"/><circle cx="902.8" cy="327.5" r="7.0"/><circle cx="909.0" cy="316.0" r="7.0"/><circle cx="909.5" cy="314.2" r="7.0"/><circle cx="910.9" cy="312.7" r="7.0"/><circle cx="911.7" cy="314.2" r="7.0"/><circle cx="911.7" cy="317.4" r="7.0"/><circle cx="920.8" cy="323.8" r="7.0"/><circle cx="923.0" cy="324.9" r="7.0"/><circle cx="924.7" cy="326.8" r="7.0"/><circle cx="928.6" cy="336.1" r="7.0"/><circle cx="927.5" cy="335.3" r="7.0"/><circle cx="926.8" cy="338.8" r="7.0"/><circle cx="922.9" cy="343.7" r="7.0"/><circle cx="920.9" cy="344.8" r="7.0"/><circle cx="911.4" cy="346.0" r="7.0"/><circle cx="906.1" cy="347.1" r="7.0"/><circle cx="895.7" cy="350.7" r="7.0"/><circle cx="893.2" cy="362.2" r="7.0"/><circle cx="895.6" cy="368.8" r="7.0"/><circle cx="895.6" cy="372.1" r="7.0"/><circle cx="893.8" cy="375.8" r="7.0"/><circle cx="890.0" cy="378.6" r="7.0"/><circle cx="890.3" cy="380.3" r="7.0"/><circle cx="885.7" cy="377.2" r="7.0"/><circle cx="880.5" cy="376.7" r="7.0"/><circle cx="876.9" cy="373.4" r="7.0"/><circle cx="871.4" cy="366.8" r="7.0"/><circle cx="871.0" cy="364.8" r="7.0"/><circle cx="869.4" cy="366.0" r="7.0"/><circle cx="870.5" cy="365.0" r="7.0"/><circle cx="877.1" cy="354.9" r="7.0"/><circle cx="868.3" cy="346.4" r="7.0"/><circle cx="860.1" cy="345.4" r="7.0"/><circle cx="860.9" cy="345.4" r="7.0"/><circle cx="860.2" cy="344.3" r="7.0"/><circle cx="860.9" cy="345.1" r="7.0"/><circle cx="861.8" cy="332.6" r="7.0"/><circle cx="861.8" cy="330.7" r="7.0"/><circle cx="846.6" cy="351.0" r="7.0"/><circle cx="838.3" cy="358.3" r="7.0"/><circle cx="845.2" cy="358.3" r="7.0"/><circle cx="834.4" cy="362.2" r="7.0"/><circle cx="841.7" cy="363.8" r="7.0"/><circle cx="846.6" cy="363.1" r="7.0"/><circle cx="855.1" cy="362.2" r="7.0"/><circle cx="822.6" cy="371.9" r="7.0"/><circle cx="833.2" cy="351.9" r="7.0"/><circle cx="833.5" cy="350.8" r="7.0"/><circle cx="834.1" cy="351.1" r="7.0"/><circle cx="847.1" cy="352.8" r="7.0"/><circle cx="846.9" cy="352.2" r="7.0"/><circle cx="846.8" cy="354.4" r="7.0"/><circle cx="853.8" cy="362.7" r="7.0"/><circle cx="856.1" cy="363.8" r="7.0"/><circle cx="855.9" cy="362.8" r="7.0"/><circle cx="856.8" cy="362.4" r="7.0"/><circle cx="853.1" cy="363.1" r="7.0"/><circle cx="843.4" cy="363.6" r="7.0"/><circle cx="837.2" cy="366.3" r="7.0"/><circle cx="834.5" cy="366.7" r="7.0"/><circle cx="821.1" cy="375.5" r="7.0"/><circle cx="820.4" cy="375.7" r="7.0"/><circle cx="820.9" cy="374.6" r="7.0"/><circle cx="821.1" cy="374.6" r="7.0"/><circle cx="821.4" cy="374.6" r="7.0"/><circle cx="829.0" cy="366.0" r="7.0"/><circle cx="828.1" cy="366.6" r="7.0"/><circle cx="832.2" cy="354.6" r="7.0"/><circle cx="832.4" cy="350.0" r="7.0"/><circle cx="836.9" cy="380.5" r="7.0"/><circle cx="861.7" cy="381.8" r="7.0"/><circle cx="841.1" cy="329.1" r="7.0"/><circle cx="838.8" cy="401.4" r="7.0"/><circle cx="847.3" cy="403.0" r="7.0"/><circle cx="840.4" cy="410.7" r="7.0"/><circle cx="846.5" cy="410.7" r="7.0"/><circle cx="870.6" cy="397.6" r="7.0"/><circle cx="881.4" cy="396.0" r="7.0"/><circle cx="871.3" cy="403.0" r="7.0"/><circle cx="824.1" cy="418.5" r="7.0"/><circle cx="822.5" cy="423.9" r="7.0"/><circle cx="822.5" cy="432.4" r="7.0"/><circle cx="690.6" cy="429.8" r="7.0"/><circle cx="919.6" cy="374.0" r="7.0"/><circle cx="801.2" cy="355.7" r="7.0"/><circle cx="747.4" cy="360.9" r="7.0"/><circle cx="762.2" cy="363.3" r="7.0"/><circle cx="750.7" cy="370.1" r="7.0"/><circle cx="764.1" cy="369.6" r="7.0"/><circle cx="771.0" cy="369.4" r="7.0"/><circle cx="779.1" cy="369.3" r="7.0"/><circle cx="788.9" cy="369.6" r="7.0"/><circle cx="793.9" cy="368.5" r="7.0"/><circle cx="746.4" cy="375.4" r="7.0"/><circle cx="754.0" cy="376.1" r="7.0"/><circle cx="761.9" cy="374.0" r="7.0"/><circle cx="769.3" cy="374.9" r="7.0"/><circle cx="789.7" cy="375.7" r="7.0"/><circle cx="734.4" cy="379.9" r="7.0"/><circle cx="758.5" cy="382.4" r="7.0"/><circle cx="732.9" cy="387.2" r="7.0"/><circle cx="737.2" cy="387.5" r="7.0"/><circle cx="813.9" cy="389.4" r="7.0"/><circle cx="781.5" cy="394.2" r="7.0"/><circle cx="787.6" cy="394.2" r="7.0"/><circle cx="818.5" cy="393.2" r="7.0"/><circle cx="770.0" cy="402.6" r="7.0"/><circle cx="776.6" cy="399.4" r="7.0"/><circle cx="784.0" cy="399.2" r="7.0"/><circle cx="807.9" cy="401.6" r="7.0"/><circle cx="813.3" cy="400.9" r="7.0"/><circle cx="740.9" cy="406.3" r="7.0"/><circle cx="763.2" cy="407.6" r="7.0"/><circle cx="772.7" cy="405.8" r="7.0"/><circle cx="780.1" cy="406.4" r="7.0"/><circle cx="786.9" cy="408.4" r="7.0"/><circle cx="731.1" cy="359.7" r="7.0"/><circle cx="732.9" cy="358.6" r="7.0"/><circle cx="732.2" cy="358.9" r="7.0"/><circle cx="746.0" cy="361.0" r="7.0"/><circle cx="748.7" cy="364.9" r="7.0"/><circle cx="763.3" cy="362.9" r="7.0"/><circle cx="765.9" cy="362.0" r="7.0"/><circle cx="765.7" cy="360.2" r="7.0"/><circle cx="765.5" cy="362.1" r="7.0"/><circle cx="775.4" cy="368.9" r="7.0"/><circle cx="782.4" cy="369.8" r="7.0"/><circle cx="792.8" cy="367.9" r="7.0"/><circle cx="799.7" cy="356.9" r="7.0"/><circle cx="800.5" cy="355.2" r="7.0"/><circle cx="800.0" cy="354.9" r="7.0"/><circle cx="800.0" cy="356.5" r="7.0"/><circle cx="799.2" cy="356.1" r="7.0"/><circle cx="803.4" cy="364.2" r="7.0"/><circle cx="804.8" cy="367.3" r="7.0"/><circle cx="805.8" cy="366.1" r="7.0"/><circle cx="803.8" cy="367.3" r="7.0"/><circle cx="801.9" cy="367.8" r="7.0"/><circle cx="792.0" cy="375.9" r="7.0"/><circle cx="791.0" cy="378.6" r="7.0"/><circle cx="795.8" cy="391.6" r="7.0"/><circle cx="796.7" cy="391.4" r="7.0"/><circle cx="801.5" cy="395.0" r="7.0"/><circle cx="812.4" cy="392.1" r="7.0"/><circle cx="814.1" cy="391.6" r="7.0"/><circle cx="817.5" cy="392.4" r="7.0"/><circle cx="818.6" cy="392.0" r="7.0"/><circle cx="818.4" cy="393.7" r="7.0"/><circle cx="819.2" cy="393.1" r="7.0"/><circle cx="818.3" cy="405.7" r="7.0"/><circle cx="818.7" cy="406.8" r="7.0"/><circle cx="818.8" cy="405.9" r="7.0"/><circle cx="818.7" cy="405.7" r="7.0"/><circle cx="818.1" cy="404.8" r="7.0"/><circle cx="805.6" cy="407.0" r="7.0"/><circle cx="783.5" cy="410.6" r="7.0"/><circle cx="774.1" cy="410.4" r="7.0"/><circle cx="766.3" cy="409.1" r="7.0"/><circle cx="742.9" cy="409.5" r="7.0"/><circle cx="739.9" cy="389.6" r="7.0"/><circle cx="730.9" cy="388.5" r="7.0"/><circle cx="731.4" cy="389.0" r="7.0"/><circle cx="729.6" cy="387.9" r="7.0"/><circle cx="730.1" cy="387.5" r="7.0"/><circle cx="733.4" cy="383.8" r="7.0"/><circle cx="731.6" cy="373.3" r="7.0"/><circle cx="730.0" cy="371.3" r="7.0"/><circle cx="730.7" cy="371.6" r="7.0"/><circle cx="731.7" cy="357.8" r="7.0"/><circle cx="732.2" cy="357.9" r="7.0"/><circle cx="736.0" cy="375.8" r="7.0"/><circle cx="729.7" cy="370.5" r="7.0"/><circle cx="736.6" cy="357.3" r="7.0"/><circle cx="744.5" cy="359.4" r="7.0"/><circle cx="747.9" cy="367.0" r="7.0"/><circle cx="744.1" cy="374.2" r="7.0"/><circle cx="741.6" cy="382.0" r="7.0"/><circle cx="746.0" cy="375.7" r="7.0"/><circle cx="753.7" cy="376.3" r="7.0"/><circle cx="757.0" cy="383.2" r="7.0"/><circle cx="744.9" cy="389.0" r="7.0"/><circle cx="761.4" cy="403.7" r="7.0"/><circle cx="741.4" cy="400.0" r="7.0"/><circle cx="742.9" cy="391.8" r="7.0"/><circle cx="741.2" cy="405.8" r="7.0"/><circle cx="760.7" cy="408.3" r="7.0"/><circle cx="745.7" cy="413.3" r="7.0"/><circle cx="764.2" cy="400.7" r="7.0"/><circle cx="759.1" cy="386.4" r="7.0"/><circle cx="766.7" cy="395.1" r="7.0"/><circle cx="763.9" cy="380.3" r="7.0"/><circle cx="771.6" cy="377.0" r="7.0"/><circle cx="775.1" cy="395.5" r="7.0"/><circle cx="774.3" cy="373.3" r="7.0"/><circle cx="782.2" cy="371.1" r="7.0"/><circle cx="788.9" cy="375.8" r="7.0"/><circle cx="789.3" cy="384.1" r="7.0"/><circle cx="783.2" cy="389.5" r="7.0"/><circle cx="796.7" cy="394.3" r="7.0"/><circle cx="804.3" cy="396.9" r="7.0"/><circle cx="807.1" cy="404.4" r="7.0"/><circle cx="795.0" cy="412.2" r="7.0"/><circle cx="789.2" cy="406.7" r="7.0"/><circle cx="790.0" cy="398.7" r="7.0"/><circle cx="713.2" cy="411.6" r="7.0"/><circle cx="719.4" cy="410.3" r="7.0"/><circle cx="726.0" cy="412.4" r="7.0"/><circle cx="733.8" cy="411.7" r="7.0"/><circle cx="708.1" cy="417.5" r="7.0"/><circle cx="716.8" cy="417.5" r="7.0"/><circle cx="724.0" cy="420.0" r="7.0"/><circle cx="747.2" cy="419.8" r="7.0"/><circle cx="753.0" cy="416.8" r="7.0"/><circle cx="761.2" cy="418.1" r="7.0"/><circle cx="769.8" cy="419.3" r="7.0"/><circle cx="775.8" cy="418.5" r="7.0"/><circle cx="783.5" cy="418.9" r="7.0"/><circle cx="791.6" cy="418.9" r="7.0"/><circle cx="719.2" cy="423.3" r="7.0"/><circle cx="744.1" cy="424.9" r="7.0"/><circle cx="750.0" cy="426.0" r="7.0"/><circle cx="757.9" cy="425.5" r="7.0"/><circle cx="764.7" cy="424.9" r="7.0"/><circle cx="780.8" cy="425.5" r="7.0"/><circle cx="785.5" cy="425.9" r="7.0"/><circle cx="796.6" cy="424.5" r="7.0"/><circle cx="746.7" cy="432.2" r="7.0"/><circle cx="752.8" cy="430.3" r="7.0"/><circle cx="783.9" cy="431.7" r="7.0"/><circle cx="721.1" cy="437.5" r="7.0"/><circle cx="727.0" cy="438.3" r="7.0"/><circle cx="744.1" cy="436.3" r="7.0"/><circle cx="749.9" cy="437.4" r="7.0"/><circle cx="709.2" cy="442.8" r="7.0"/><circle cx="715.4" cy="443.5" r="7.0"/><circle cx="729.4" cy="443.0" r="7.0"/><circle cx="714.0" cy="452.5" r="7.0"/><circle cx="719.8" cy="449.7" r="7.0"/><circle cx="704.8" cy="413.8" r="7.0"/><circle cx="704.9" cy="414.1" r="7.0"/><circle cx="705.4" cy="413.2" r="7.0"/><circle cx="714.9" cy="409.6" r="7.0"/><circle cx="714.5" cy="409.6" r="7.0"/><circle cx="715.6" cy="410.6" r="7.0"/><circle cx="726.4" cy="408.9" r="7.0"/><circle cx="728.7" cy="406.1" r="7.0"/><circle cx="729.8" cy="405.0" r="7.0"/><circle cx="728.0" cy="405.6" r="7.0"/><circle cx="728.5" cy="405.9" r="7.0"/><circle cx="737.4" cy="413.8" r="7.0"/><circle cx="745.7" cy="414.0" r="7.0"/><circle cx="755.1" cy="415.9" r="7.0"/><circle cx="765.2" cy="416.3" r="7.0"/><circle cx="773.2" cy="416.5" r="7.0"/><circle cx="782.5" cy="416.4" r="7.0"/><circle cx="791.1" cy="416.7" r="7.0"/><circle cx="790.2" cy="417.3" r="7.0"/><circle cx="797.2" cy="426.6" r="7.0"/><circle cx="798.5" cy="425.6" r="7.0"/><circle cx="798.1" cy="425.2" r="7.0"/><circle cx="797.2" cy="425.5" r="7.0"/><circle cx="799.1" cy="425.0" r="7.0"/><circle cx="787.1" cy="426.4" r="7.0"/><circle cx="782.7" cy="431.2" r="7.0"/><circle cx="783.3" cy="431.9" r="7.0"/><circle cx="782.6" cy="431.6" r="7.0"/><circle cx="780.6" cy="429.8" r="7.0"/><circle cx="779.2" cy="427.1" r="7.0"/><circle cx="767.3" cy="421.4" r="7.0"/><circle cx="763.8" cy="427.7" r="7.0"/><circle cx="762.4" cy="428.2" r="7.0"/><circle cx="757.6" cy="431.6" r="7.0"/><circle cx="753.2" cy="432.5" r="7.0"/><circle cx="748.2" cy="443.5" r="7.0"/><circle cx="748.4" cy="442.1" r="7.0"/><circle cx="746.0" cy="442.0" r="7.0"/><circle cx="746.3" cy="442.7" r="7.0"/><circle cx="747.1" cy="443.1" r="7.0"/><circle cx="740.2" cy="436.9" r="7.0"/><circle cx="732.9" cy="440.0" r="7.0"/><circle cx="728.1" cy="441.7" r="7.0"/><circle cx="728.9" cy="442.0" r="7.0"/><circle cx="718.9" cy="446.8" r="7.0"/><circle cx="718.3" cy="456.2" r="7.0"/><circle cx="717.3" cy="454.8" r="7.0"/><circle cx="716.0" cy="456.8" r="7.0"/><circle cx="717.8" cy="456.5" r="7.0"/><circle cx="716.3" cy="455.3" r="7.0"/><circle cx="707.4" cy="450.0" r="7.0"/><circle cx="707.4" cy="449.7" r="7.0"/><circle cx="707.3" cy="449.1" r="7.0"/><circle cx="705.8" cy="446.3" r="7.0"/><circle cx="706.7" cy="446.0" r="7.0"/><circle cx="707.9" cy="444.3" r="7.0"/><circle cx="713.1" cy="441.1" r="7.0"/><circle cx="715.0" cy="442.0" r="7.0"/><circle cx="723.8" cy="436.9" r="7.0"/><circle cx="723.7" cy="425.6" r="7.0"/><circle cx="719.0" cy="421.6" r="7.0"/><circle cx="713.0" cy="420.8" r="7.0"/><circle cx="711.4" cy="421.1" r="7.0"/><circle cx="708.8" cy="418.2" r="7.0"/><circle cx="703.2" cy="412.9" r="7.0"/><circle cx="704.5" cy="413.9" r="7.0"/><circle cx="726.4" cy="417.2" r="7.0"/><circle cx="733.4" cy="413.0" r="7.0"/><circle cx="741.2" cy="415.8" r="7.0"/><circle cx="743.7" cy="423.6" r="7.0"/><circle cx="739.2" cy="430.5" r="7.0"/><circle cx="731.1" cy="431.3" r="7.0"/><circle cx="725.3" cy="425.4" r="7.0"/><circle cx="747.4" cy="414.2" r="7.0"/><circle cx="756.1" cy="413.7" r="7.0"/><circle cx="761.7" cy="595.9" r="7.0"/>
</g>
<g fill="#98b2dc">
<circle cx="261.6" cy="456.2" r="7.0"/><circle cx="411.1" cy="456.7" r="7.0"/><circle cx="358.1" cy="415.2" r="7.0"/><circle cx="363.9" cy="421.6" r="7.0"/><circle cx="371.1" cy="422.4" r="7.0"/><circle cx="378.3" cy="419.5" r="7.0"/><circle cx="389.1" cy="420.6" r="7.0"/><circle cx="442.4" cy="438.2" r="7.0"/><circle cx="439.5" cy="443.3" r="7.0"/><circle cx="332.9" cy="419.8" r="7.0"/><circle cx="298.3" cy="425.5" r="7.0"/><circle cx="314.7" cy="425.4" r="7.0"/><circle cx="322.4" cy="423.7" r="7.0"/><circle cx="329.6" cy="425.4" r="7.0"/><circle cx="336.1" cy="424.3" r="7.0"/><circle cx="297.2" cy="430.7" r="7.0"/><circle cx="302.0" cy="432.6" r="7.0"/><circle cx="311.5" cy="431.2" r="7.0"/><circle cx="316.9" cy="432.8" r="7.0"/><circle cx="325.3" cy="432.4" r="7.0"/><circle cx="333.8" cy="432.0" r="7.0"/><circle cx="342.7" cy="433.1" r="7.0"/><circle cx="300.5" cy="436.5" r="7.0"/><circle cx="307.9" cy="439.4" r="7.0"/><circle cx="314.0" cy="438.5" r="7.0"/><circle cx="338.6" cy="439.2" r="7.0"/><circle cx="343.5" cy="438.4" r="7.0"/><circle cx="351.9" cy="437.1" r="7.0"/><circle cx="358.0" cy="437.0" r="7.0"/><circle cx="297.3" cy="446.5" r="7.0"/><circle cx="305.2" cy="446.1" r="7.0"/><circle cx="309.4" cy="444.1" r="7.0"/><circle cx="317.6" cy="444.3" r="7.0"/><circle cx="339.7" cy="443.9" r="7.0"/><circle cx="347.5" cy="446.3" r="7.0"/><circle cx="357.7" cy="446.5" r="7.0"/><circle cx="306.6" cy="450.3" r="7.0"/><circle cx="315.7" cy="451.1" r="7.0"/><circle cx="321.0" cy="452.4" r="7.0"/><circle cx="337.5" cy="449.6" r="7.0"/><circle cx="343.1" cy="451.7" r="7.0"/><circle cx="352.3" cy="450.4" r="7.0"/><circle cx="282.3" cy="458.9" r="7.0"/><circle cx="303.4" cy="458.9" r="7.0"/><circle cx="311.5" cy="458.1" r="7.0"/><circle cx="320.2" cy="456.2" r="7.0"/><circle cx="326.0" cy="459.3" r="7.0"/><circle cx="334.0" cy="458.8" r="7.0"/><circle cx="340.5" cy="456.6" r="7.0"/><circle cx="348.6" cy="459.3" r="7.0"/><circle cx="393.4" cy="459.4" r="7.0"/><circle cx="429.9" cy="458.9" r="7.0"/><circle cx="438.9" cy="457.3" r="7.0"/><circle cx="285.3" cy="463.2" r="7.0"/><circle cx="292.3" cy="463.3" r="7.0"/><circle cx="308.6" cy="465.2" r="7.0"/><circle cx="328.8" cy="462.8" r="7.0"/><circle cx="337.5" cy="465.8" r="7.0"/><circle cx="345.9" cy="463.8" r="7.0"/><circle cx="353.0" cy="465.3" r="7.0"/><circle cx="358.7" cy="465.2" r="7.0"/><circle cx="367.0" cy="463.7" r="7.0"/><circle cx="390.2" cy="464.2" r="7.0"/><circle cx="425.8" cy="465.3" r="7.0"/><circle cx="434.3" cy="463.1" r="7.0"/><circle cx="442.5" cy="462.5" r="7.0"/><circle cx="449.5" cy="462.9" r="7.0"/><circle cx="282.5" cy="471.2" r="7.0"/><circle cx="309.9" cy="471.5" r="7.0"/><circle cx="340.5" cy="469.5" r="7.0"/><circle cx="349.4" cy="470.4" r="7.0"/><circle cx="354.3" cy="469.5" r="7.0"/><circle cx="363.8" cy="469.7" r="7.0"/><circle cx="370.3" cy="470.4" r="7.0"/><circle cx="380.2" cy="472.4" r="7.0"/><circle cx="385.4" cy="471.8" r="7.0"/><circle cx="394.7" cy="471.1" r="7.0"/><circle cx="402.5" cy="469.1" r="7.0"/><circle cx="424.4" cy="469.0" r="7.0"/><circle cx="429.6" cy="472.2" r="7.0"/><circle cx="437.3" cy="469.9" r="7.0"/><circle cx="447.2" cy="470.4" r="7.0"/><circle cx="454.8" cy="471.1" r="7.0"/><circle cx="460.4" cy="471.3" r="7.0"/><circle cx="276.2" cy="477.0" r="7.0"/><circle cx="283.7" cy="477.0" r="7.0"/><circle cx="308.4" cy="477.7" r="7.0"/><circle cx="336.1" cy="478.6" r="7.0"/><circle cx="343.5" cy="477.9" r="7.0"/><circle cx="353.5" cy="478.5" r="7.0"/><circle cx="361.5" cy="475.8" r="7.0"/><circle cx="367.3" cy="476.9" r="7.0"/><circle cx="391.3" cy="478.4" r="7.0"/><circle cx="395.5" cy="476.6" r="7.0"/><circle cx="405.1" cy="475.9" r="7.0"/><circle cx="411.2" cy="476.4" r="7.0"/><circle cx="420.4" cy="476.5" r="7.0"/><circle cx="428.7" cy="478.0" r="7.0"/><circle cx="433.2" cy="477.1" r="7.0"/><circle cx="443.0" cy="478.2" r="7.0"/><circle cx="450.7" cy="477.3" r="7.0"/><circle cx="456.7" cy="476.6" r="7.0"/><circle cx="274.2" cy="483.1" r="7.0"/><circle cx="280.5" cy="482.3" r="7.0"/><circle cx="312.0" cy="485.1" r="7.0"/><circle cx="341.4" cy="482.5" r="7.0"/><circle cx="349.0" cy="483.4" r="7.0"/><circle cx="357.7" cy="484.5" r="7.0"/><circle cx="394.9" cy="483.1" r="7.0"/><circle cx="402.7" cy="484.0" r="7.0"/><circle cx="417.1" cy="482.8" r="7.0"/><circle cx="452.2" cy="485.1" r="7.0"/><circle cx="291.6" cy="489.1" r="7.0"/><circle cx="308.7" cy="490.7" r="7.0"/><circle cx="313.2" cy="490.0" r="7.0"/><circle cx="358.6" cy="489.8" r="7.0"/><circle cx="298.3" cy="428.6" r="7.0"/><circle cx="299.9" cy="427.4" r="7.0"/><circle cx="297.6" cy="427.5" r="7.0"/><circle cx="310.0" cy="428.5" r="7.0"/><circle cx="313.0" cy="424.3" r="7.0"/><circle cx="312.5" cy="424.3" r="7.0"/><circle cx="324.1" cy="423.2" r="7.0"/><circle cx="330.2" cy="415.6" r="7.0"/><circle cx="331.4" cy="412.7" r="7.0"/><circle cx="331.8" cy="412.0" r="7.0"/><circle cx="331.8" cy="411.6" r="7.0"/><circle cx="332.0" cy="412.8" r="7.0"/><circle cx="332.3" cy="421.5" r="7.0"/><circle cx="344.4" cy="425.9" r="7.0"/><circle cx="344.9" cy="426.1" r="7.0"/><circle cx="344.5" cy="426.6" r="7.0"/><circle cx="350.4" cy="436.6" r="7.0"/><circle cx="358.5" cy="435.0" r="7.0"/><circle cx="359.5" cy="435.7" r="7.0"/><circle cx="363.0" cy="438.1" r="7.0"/><circle cx="375.4" cy="441.4" r="7.0"/><circle cx="376.9" cy="441.2" r="7.0"/><circle cx="376.8" cy="440.9" r="7.0"/><circle cx="377.0" cy="442.5" r="7.0"/><circle cx="375.8" cy="442.4" r="7.0"/><circle cx="371.1" cy="440.3" r="7.0"/><circle cx="359.5" cy="445.2" r="7.0"/><circle cx="360.5" cy="446.4" r="7.0"/><circle cx="353.8" cy="458.1" r="7.0"/><circle cx="362.8" cy="462.4" r="7.0"/><circle cx="365.5" cy="463.3" r="7.0"/><circle cx="370.0" cy="465.1" r="7.0"/><circle cx="381.2" cy="468.3" r="7.0"/><circle cx="388.5" cy="463.9" r="7.0"/><circle cx="392.0" cy="458.2" r="7.0"/><circle cx="390.9" cy="458.9" r="7.0"/><circle cx="392.7" cy="459.1" r="7.0"/><circle cx="392.2" cy="459.0" r="7.0"/><circle cx="393.0" cy="459.9" r="7.0"/><circle cx="400.5" cy="471.4" r="7.0"/><circle cx="402.2" cy="471.3" r="7.0"/><circle cx="402.6" cy="471.0" r="7.0"/><circle cx="415.9" cy="474.2" r="7.0"/><circle cx="421.7" cy="471.9" r="7.0"/><circle cx="426.8" cy="462.0" r="7.0"/><circle cx="428.0" cy="455.4" r="7.0"/><circle cx="429.6" cy="454.4" r="7.0"/><circle cx="428.1" cy="455.1" r="7.0"/><circle cx="437.3" cy="454.4" r="7.0"/><circle cx="436.7" cy="455.2" r="7.0"/><circle cx="438.1" cy="455.7" r="7.0"/><circle cx="448.1" cy="463.2" r="7.0"/><circle cx="449.4" cy="462.8" r="7.0"/><circle cx="449.4" cy="462.0" r="7.0"/><circle cx="460.4" cy="471.2" r="7.0"/><circle cx="461.0" cy="470.5" r="7.0"/><circle cx="461.0" cy="471.7" r="7.0"/><circle cx="461.9" cy="472.1" r="7.0"/><circle cx="463.1" cy="481.5" r="7.0"/><circle cx="460.9" cy="479.7" r="7.0"/><circle cx="460.0" cy="480.4" r="7.0"/><circle cx="455.0" cy="482.9" r="7.0"/><circle cx="454.2" cy="484.5" r="7.0"/><circle cx="449.7" cy="483.0" r="7.0"/><circle cx="439.9" cy="484.5" r="7.0"/><circle cx="440.7" cy="483.4" r="7.0"/><circle cx="437.9" cy="481.6" r="7.0"/><circle cx="427.9" cy="478.0" r="7.0"/><circle cx="418.2" cy="482.9" r="7.0"/><circle cx="413.7" cy="487.5" r="7.0"/><circle cx="414.2" cy="486.4" r="7.0"/><circle cx="410.8" cy="486.0" r="7.0"/><circle cx="400.6" cy="482.5" r="7.0"/><circle cx="399.4" cy="483.2" r="7.0"/><circle cx="393.4" cy="480.1" r="7.0"/><circle cx="387.5" cy="477.5" r="7.0"/><circle cx="383.8" cy="473.8" r="7.0"/><circle cx="375.0" cy="473.5" r="7.0"/><circle cx="360.6" cy="482.0" r="7.0"/><circle cx="359.3" cy="488.5" r="7.0"/><circle cx="360.0" cy="489.0" r="7.0"/><circle cx="359.0" cy="488.2" r="7.0"/><circle cx="351.9" cy="485.6" r="7.0"/><circle cx="342.0" cy="485.6" r="7.0"/><circle cx="342.8" cy="485.9" r="7.0"/><circle cx="337.4" cy="482.4" r="7.0"/><circle cx="334.3" cy="479.3" r="7.0"/><circle cx="334.2" cy="478.2" r="7.0"/><circle cx="334.0" cy="477.2" r="7.0"/><circle cx="330.7" cy="463.3" r="7.0"/><circle cx="329.0" cy="461.2" r="7.0"/><circle cx="318.7" cy="459.3" r="7.0"/><circle cx="311.1" cy="469.8" r="7.0"/><circle cx="316.7" cy="479.4" r="7.0"/><circle cx="316.3" cy="479.7" r="7.0"/><circle cx="316.2" cy="481.7" r="7.0"/><circle cx="312.0" cy="490.3" r="7.0"/><circle cx="310.1" cy="490.5" r="7.0"/><circle cx="310.2" cy="490.5" r="7.0"/><circle cx="310.6" cy="490.8" r="7.0"/><circle cx="309.9" cy="489.3" r="7.0"/><circle cx="306.5" cy="480.3" r="7.0"/><circle cx="305.8" cy="477.1" r="7.0"/><circle cx="306.5" cy="475.1" r="7.0"/><circle cx="303.8" cy="464.5" r="7.0"/><circle cx="290.6" cy="465.3" r="7.0"/><circle cx="287.5" cy="470.2" r="7.0"/><circle cx="287.4" cy="481.0" r="7.0"/><circle cx="285.6" cy="480.2" r="7.0"/><circle cx="294.4" cy="490.4" r="7.0"/><circle cx="294.5" cy="490.2" r="7.0"/><circle cx="294.4" cy="490.7" r="7.0"/><circle cx="292.6" cy="489.8" r="7.0"/><circle cx="293.3" cy="489.7" r="7.0"/><circle cx="293.7" cy="490.8" r="7.0"/><circle cx="284.1" cy="483.8" r="7.0"/><circle cx="281.3" cy="484.0" r="7.0"/><circle cx="274.9" cy="482.3" r="7.0"/><circle cx="271.3" cy="481.1" r="7.0"/><circle cx="272.5" cy="481.1" r="7.0"/><circle cx="273.0" cy="481.9" r="7.0"/><circle cx="274.7" cy="478.5" r="7.0"/><circle cx="279.0" cy="468.5" r="7.0"/><circle cx="279.7" cy="467.3" r="7.0"/><circle cx="279.6" cy="458.6" r="7.0"/><circle cx="278.3" cy="455.2" r="7.0"/><circle cx="281.3" cy="451.1" r="7.0"/><circle cx="283.3" cy="449.5" r="7.0"/><circle cx="286.0" cy="448.2" r="7.0"/><circle cx="296.2" cy="439.6" r="7.0"/><circle cx="295.4" cy="441.1" r="7.0"/><circle cx="298.3" cy="428.2" r="7.0"/><circle cx="298.1" cy="427.3" r="7.0"/><circle cx="318.0" cy="446.2" r="7.0"/><circle cx="320.0" cy="438.6" r="7.0"/><circle cx="327.1" cy="435.4" r="7.0"/><circle cx="334.1" cy="439.0" r="7.0"/><circle cx="335.6" cy="446.7" r="7.0"/><circle cx="330.5" cy="452.6" r="7.0"/><circle cx="322.7" cy="452.4" r="7.0"/><circle cx="289.1" cy="460.6" r="7.0"/><circle cx="284.6" cy="453.9" r="7.0"/><circle cx="288.1" cy="446.7" r="7.0"/><circle cx="296.0" cy="446.1" r="7.0"/><circle cx="300.6" cy="452.7" r="7.0"/><circle cx="297.1" cy="460.0" r="7.0"/><circle cx="384.7" cy="491.2" r="7.0"/><circle cx="375.3" cy="496.4" r="7.0"/><circle cx="380.9" cy="498.5" r="7.0"/><circle cx="389.7" cy="497.0" r="7.0"/><circle cx="396.9" cy="496.4" r="7.0"/><circle cx="385.1" cy="505.3" r="7.0"/><circle cx="392.1" cy="502.5" r="7.0"/><circle cx="401.2" cy="504.2" r="7.0"/><circle cx="424.2" cy="505.1" r="7.0"/><circle cx="430.8" cy="505.4" r="7.0"/><circle cx="353.5" cy="509.1" r="7.0"/><circle cx="361.0" cy="510.0" r="7.0"/><circle cx="388.0" cy="510.9" r="7.0"/><circle cx="396.4" cy="510.7" r="7.0"/><circle cx="404.5" cy="509.5" r="7.0"/><circle cx="410.9" cy="511.4" r="7.0"/><circle cx="419.3" cy="509.5" r="7.0"/><circle cx="427.3" cy="511.3" r="7.0"/><circle cx="433.0" cy="510.1" r="7.0"/><circle cx="440.7" cy="511.3" r="7.0"/><circle cx="362.7" cy="517.1" r="7.0"/><circle cx="386.7" cy="515.0" r="7.0"/><circle cx="393.2" cy="515.6" r="7.0"/><circle cx="415.7" cy="515.7" r="7.0"/><circle cx="424.7" cy="515.2" r="7.0"/><circle cx="429.0" cy="516.0" r="7.0"/><circle cx="436.9" cy="516.3" r="7.0"/><circle cx="373.0" cy="521.6" r="7.0"/><circle cx="383.0" cy="522.1" r="7.0"/><circle cx="389.9" cy="521.8" r="7.0"/><circle cx="455.6" cy="523.8" r="7.0"/><circle cx="356.9" cy="528.1" r="7.0"/><circle cx="377.3" cy="528.7" r="7.0"/><circle cx="367.4" cy="535.4" r="7.0"/><circle cx="373.5" cy="535.7" r="7.0"/><circle cx="383.2" cy="534.7" r="7.0"/><circle cx="384.2" cy="541.2" r="7.0"/><circle cx="393.0" cy="544.4" r="7.0"/><circle cx="381.6" cy="490.8" r="7.0"/><circle cx="381.0" cy="491.3" r="7.0"/><circle cx="386.2" cy="494.9" r="7.0"/><circle cx="398.3" cy="494.8" r="7.0"/><circle cx="400.6" cy="493.1" r="7.0"/><circle cx="401.8" cy="493.2" r="7.0"/><circle cx="400.2" cy="497.3" r="7.0"/><circle cx="403.1" cy="504.8" r="7.0"/><circle cx="408.9" cy="510.8" r="7.0"/><circle cx="421.8" cy="505.9" r="7.0"/><circle cx="422.6" cy="503.3" r="7.0"/><circle cx="423.4" cy="502.6" r="7.0"/><circle cx="432.3" cy="498.4" r="7.0"/><circle cx="429.9" cy="498.3" r="7.0"/><circle cx="431.4" cy="499.6" r="7.0"/><circle cx="438.7" cy="506.4" r="7.0"/><circle cx="438.8" cy="506.4" r="7.0"/><circle cx="439.2" cy="507.9" r="7.0"/><circle cx="450.3" cy="513.5" r="7.0"/><circle cx="449.8" cy="515.3" r="7.0"/><circle cx="450.0" cy="515.6" r="7.0"/><circle cx="454.7" cy="522.4" r="7.0"/><circle cx="454.4" cy="522.6" r="7.0"/><circle cx="453.8" cy="521.2" r="7.0"/><circle cx="454.9" cy="521.9" r="7.0"/><circle cx="454.0" cy="521.6" r="7.0"/><circle cx="441.5" cy="516.7" r="7.0"/><circle cx="437.4" cy="518.7" r="7.0"/><circle cx="436.8" cy="518.7" r="7.0"/><circle cx="425.8" cy="516.1" r="7.0"/><circle cx="422.0" cy="516.3" r="7.0"/><circle cx="421.9" cy="516.3" r="7.0"/><circle cx="408.3" cy="518.2" r="7.0"/><circle cx="403.6" cy="531.3" r="7.0"/><circle cx="403.7" cy="532.4" r="7.0"/><circle cx="397.7" cy="538.7" r="7.0"/><circle cx="396.4" cy="542.9" r="7.0"/><circle cx="394.2" cy="542.7" r="7.0"/><circle cx="392.6" cy="543.1" r="7.0"/><circle cx="382.7" cy="540.3" r="7.0"/><circle cx="379.8" cy="541.0" r="7.0"/><circle cx="378.3" cy="539.5" r="7.0"/><circle cx="366.5" cy="533.9" r="7.0"/><circle cx="367.1" cy="533.6" r="7.0"/><circle cx="365.6" cy="531.8" r="7.0"/><circle cx="355.8" cy="527.2" r="7.0"/><circle cx="356.1" cy="526.9" r="7.0"/><circle cx="355.2" cy="527.6" r="7.0"/><circle cx="358.0" cy="525.9" r="7.0"/><circle cx="362.5" cy="515.9" r="7.0"/><circle cx="351.5" cy="510.4" r="7.0"/><circle cx="350.4" cy="510.3" r="7.0"/><circle cx="350.4" cy="509.7" r="7.0"/><circle cx="351.4" cy="510.0" r="7.0"/><circle cx="354.1" cy="509.1" r="7.0"/><circle cx="358.8" cy="508.2" r="7.0"/><circle cx="357.2" cy="508.1" r="7.0"/><circle cx="360.4" cy="512.2" r="7.0"/><circle cx="367.6" cy="517.1" r="7.0"/><circle cx="370.7" cy="518.7" r="7.0"/><circle cx="381.7" cy="520.4" r="7.0"/><circle cx="387.4" cy="512.3" r="7.0"/><circle cx="384.7" cy="502.0" r="7.0"/><circle cx="373.9" cy="498.9" r="7.0"/><circle cx="372.2" cy="499.9" r="7.0"/><circle cx="370.8" cy="499.4" r="7.0"/><circle cx="370.3" cy="497.7" r="7.0"/><circle cx="369.4" cy="499.1" r="7.0"/><circle cx="369.7" cy="499.0" r="7.0"/><circle cx="378.2" cy="495.6" r="7.0"/><circle cx="366.5" cy="532.7" r="7.0"/><circle cx="358.9" cy="529.7" r="7.0"/><circle cx="364.1" cy="516.6" r="7.0"/><circle cx="371.7" cy="519.6" r="7.0"/><circle cx="372.9" cy="527.6" r="7.0"/><circle cx="385.4" cy="538.8" r="7.0"/><circle cx="384.5" cy="530.7" r="7.0"/><circle cx="391.1" cy="525.9" r="7.0"/><circle cx="398.6" cy="529.2" r="7.0"/><circle cx="399.4" cy="537.3" r="7.0"/><circle cx="392.8" cy="542.1" r="7.0"/><circle cx="392.6" cy="517.3" r="7.0"/><circle cx="398.0" cy="511.2" r="7.0"/><circle cx="406.0" cy="512.7" r="7.0"/><circle cx="408.6" cy="520.4" r="7.0"/><circle cx="403.3" cy="526.6" r="7.0"/><circle cx="395.3" cy="525.0" r="7.0"/><circle cx="1081.2" cy="476.5" r="7.0"/>
</g>
<g fill="#b5413f">
<circle cx="1076.5" cy="113.7" r="7.0"/><circle cx="1025.2" cy="120.0" r="7.0"/><circle cx="1035.2" cy="120.7" r="7.0"/><circle cx="1043.0" cy="121.3" r="7.0"/><circle cx="1062.2" cy="120.8" r="7.0"/><circle cx="1069.6" cy="119.7" r="7.0"/><circle cx="1078.5" cy="119.8" r="7.0"/><circle cx="1030.4" cy="126.6" r="7.0"/><circle cx="1039.2" cy="126.3" r="7.0"/><circle cx="1059.9" cy="128.9" r="7.0"/><circle cx="1068.7" cy="125.9" r="7.0"/><circle cx="1074.4" cy="126.2" r="7.0"/><circle cx="1082.4" cy="127.2" r="7.0"/><circle cx="1090.1" cy="128.6" r="7.0"/><circle cx="995.4" cy="134.4" r="7.0"/><circle cx="1003.2" cy="134.7" r="7.0"/><circle cx="1025.0" cy="134.4" r="7.0"/><circle cx="1033.7" cy="135.4" r="7.0"/><circle cx="1041.8" cy="132.5" r="7.0"/><circle cx="1062.2" cy="133.6" r="7.0"/><circle cx="1073.0" cy="133.5" r="7.0"/><circle cx="1078.0" cy="131.9" r="7.0"/><circle cx="1006.6" cy="139.9" r="7.0"/><circle cx="1013.7" cy="139.2" r="7.0"/><circle cx="1023.8" cy="138.8" r="7.0"/><circle cx="1031.1" cy="139.1" r="7.0"/><circle cx="1052.8" cy="141.8" r="7.0"/><circle cx="1059.6" cy="139.5" r="7.0"/><circle cx="1068.1" cy="139.0" r="7.0"/><circle cx="1074.4" cy="138.5" r="7.0"/><circle cx="1082.9" cy="140.3" r="7.0"/><circle cx="1017.6" cy="146.1" r="7.0"/><circle cx="1027.2" cy="148.3" r="7.0"/><circle cx="1057.3" cy="147.6" r="7.0"/><circle cx="1077.6" cy="147.9" r="7.0"/><circle cx="1087.0" cy="146.2" r="7.0"/><circle cx="1095.3" cy="147.2" r="7.0"/><circle cx="1016.7" cy="154.5" r="7.0"/><circle cx="1021.1" cy="153.9" r="7.0"/><circle cx="1030.8" cy="152.0" r="7.0"/><circle cx="1081.6" cy="153.2" r="7.0"/><circle cx="1091.0" cy="154.9" r="7.0"/><circle cx="1098.4" cy="152.6" r="7.0"/><circle cx="1020.3" cy="160.9" r="7.0"/><circle cx="1026.0" cy="160.2" r="7.0"/><circle cx="1032.6" cy="159.3" r="7.0"/><circle cx="1064.8" cy="161.2" r="7.0"/><circle cx="1071.1" cy="158.0" r="7.0"/><circle cx="1078.6" cy="159.7" r="7.0"/><circle cx="1087.4" cy="159.5" r="7.0"/><circle cx="1093.8" cy="160.0" r="7.0"/><circle cx="1102.0" cy="160.6" r="7.0"/><circle cx="1023.2" cy="165.8" r="7.0"/><circle cx="1029.9" cy="165.6" r="7.0"/><circle cx="1037.7" cy="165.3" r="7.0"/><circle cx="1046.8" cy="167.4" r="7.0"/><circle cx="1058.9" cy="165.2" r="7.0"/><circle cx="1069.1" cy="165.7" r="7.0"/><circle cx="1073.9" cy="165.0" r="7.0"/><circle cx="1082.7" cy="167.3" r="7.0"/><circle cx="1027.4" cy="173.3" r="7.0"/><circle cx="1033.5" cy="174.0" r="7.0"/><circle cx="1050.3" cy="172.4" r="7.0"/><circle cx="1056.7" cy="172.1" r="7.0"/><circle cx="1065.5" cy="172.6" r="7.0"/><circle cx="1071.9" cy="173.6" r="7.0"/><circle cx="1077.6" cy="171.9" r="7.0"/><circle cx="1058.6" cy="177.8" r="7.0"/><circle cx="1076.5" cy="178.5" r="7.0"/><circle cx="1082.6" cy="180.6" r="7.0"/><circle cx="1025.5" cy="187.3" r="7.0"/><circle cx="1071.9" cy="185.0" r="7.0"/><circle cx="1080.5" cy="184.7" r="7.0"/><circle cx="994.8" cy="136.1" r="7.0"/><circle cx="997.2" cy="136.4" r="7.0"/><circle cx="1006.3" cy="135.0" r="7.0"/><circle cx="1006.8" cy="137.0" r="7.0"/><circle cx="1012.6" cy="139.6" r="7.0"/><circle cx="1026.2" cy="135.7" r="7.0"/><circle cx="1026.8" cy="125.9" r="7.0"/><circle cx="1026.6" cy="119.4" r="7.0"/><circle cx="1026.9" cy="118.9" r="7.0"/><circle cx="1027.3" cy="118.8" r="7.0"/><circle cx="1026.7" cy="118.1" r="7.0"/><circle cx="1039.9" cy="119.1" r="7.0"/><circle cx="1041.5" cy="118.7" r="7.0"/><circle cx="1040.6" cy="119.1" r="7.0"/><circle cx="1041.4" cy="119.8" r="7.0"/><circle cx="1042.8" cy="131.6" r="7.0"/><circle cx="1046.1" cy="136.1" r="7.0"/><circle cx="1059.1" cy="133.2" r="7.0"/><circle cx="1059.5" cy="123.0" r="7.0"/><circle cx="1056.3" cy="117.4" r="7.0"/><circle cx="1057.5" cy="117.1" r="7.0"/><circle cx="1057.5" cy="116.1" r="7.0"/><circle cx="1057.7" cy="116.3" r="7.0"/><circle cx="1070.7" cy="116.5" r="7.0"/><circle cx="1075.4" cy="115.0" r="7.0"/><circle cx="1076.1" cy="113.9" r="7.0"/><circle cx="1076.6" cy="114.4" r="7.0"/><circle cx="1081.0" cy="123.3" r="7.0"/><circle cx="1091.0" cy="129.6" r="7.0"/><circle cx="1097.9" cy="144.7" r="7.0"/><circle cx="1098.9" cy="147.4" r="7.0"/><circle cx="1100.5" cy="148.9" r="7.0"/><circle cx="1104.2" cy="159.7" r="7.0"/><circle cx="1104.0" cy="159.1" r="7.0"/><circle cx="1104.2" cy="157.4" r="7.0"/><circle cx="1101.8" cy="158.1" r="7.0"/><circle cx="1097.4" cy="159.6" r="7.0"/><circle cx="1091.7" cy="161.4" r="7.0"/><circle cx="1082.4" cy="168.7" r="7.0"/><circle cx="1080.6" cy="179.8" r="7.0"/><circle cx="1078.7" cy="183.5" r="7.0"/><circle cx="1077.5" cy="187.3" r="7.0"/><circle cx="1075.4" cy="187.8" r="7.0"/><circle cx="1074.0" cy="186.5" r="7.0"/><circle cx="1072.2" cy="186.0" r="7.0"/><circle cx="1064.5" cy="175.5" r="7.0"/><circle cx="1055.6" cy="176.4" r="7.0"/><circle cx="1053.7" cy="176.3" r="7.0"/><circle cx="1049.5" cy="176.5" r="7.0"/><circle cx="1044.0" cy="170.7" r="7.0"/><circle cx="1032.2" cy="173.9" r="7.0"/><circle cx="1027.6" cy="184.2" r="7.0"/><circle cx="1028.5" cy="189.5" r="7.0"/><circle cx="1028.0" cy="189.5" r="7.0"/><circle cx="1027.4" cy="190.4" r="7.0"/><circle cx="1024.7" cy="187.1" r="7.0"/><circle cx="1024.6" cy="186.8" r="7.0"/><circle cx="1024.0" cy="184.7" r="7.0"/><circle cx="1024.6" cy="172.3" r="7.0"/><circle cx="1023.3" cy="169.7" r="7.0"/><circle cx="1021.4" cy="167.7" r="7.0"/><circle cx="1019.0" cy="157.4" r="7.0"/><circle cx="1018.4" cy="154.0" r="7.0"/><circle cx="1018.4" cy="151.7" r="7.0"/><circle cx="1014.2" cy="141.7" r="7.0"/><circle cx="1006.8" cy="138.9" r="7.0"/><circle cx="1001.9" cy="137.1" r="7.0"/><circle cx="995.3" cy="136.4" r="7.0"/><circle cx="995.5" cy="135.5" r="7.0"/><circle cx="1041.6" cy="161.4" r="7.0"/><circle cx="1034.2" cy="157.3" r="7.0"/><circle cx="1031.9" cy="149.2" r="7.0"/><circle cx="1035.9" cy="141.8" r="7.0"/><circle cx="1044.1" cy="139.5" r="7.0"/><circle cx="1051.4" cy="143.6" r="7.0"/><circle cx="1056.4" cy="148.6" r="7.0"/><circle cx="1062.2" cy="155.2" r="7.0"/><circle cx="1059.4" cy="163.4" r="7.0"/><circle cx="1050.9" cy="165.2" r="7.0"/><circle cx="1072.2" cy="142.4" r="7.0"/><circle cx="1077.5" cy="148.6" r="7.0"/><circle cx="1074.7" cy="156.2" r="7.0"/><circle cx="1066.7" cy="157.7" r="7.0"/><circle cx="1061.5" cy="151.5" r="7.0"/><circle cx="1064.2" cy="143.8" r="7.0"/><circle cx="1083.8" cy="140.8" r="7.0"/><circle cx="1085.6" cy="132.5" r="7.0"/><circle cx="1093.6" cy="130.0" r="7.0"/><circle cx="1098.0" cy="143.9" r="7.0"/><circle cx="1090.0" cy="146.5" r="7.0"/><circle cx="1113.4" cy="140.4" r="7.0"/><circle cx="1013.6" cy="210.2" r="7.0"/><circle cx="1113.8" cy="219.2" r="7.0"/><circle cx="1121.3" cy="232.6" r="7.0"/><circle cx="1123.8" cy="234.3" r="7.0"/><circle cx="1164.5" cy="230.0" r="7.0"/><circle cx="1169.6" cy="229.0" r="7.0"/><circle cx="1039.5" cy="202.0" r="7.0"/><circle cx="1035.1" cy="206.1" r="7.0"/><circle cx="1033.1" cy="213.0" r="7.0"/><circle cx="1027.8" cy="204.0" r="7.0"/><circle cx="1028.9" cy="204.4" r="7.0"/><circle cx="1039.2" cy="200.8" r="7.0"/><circle cx="1040.6" cy="200.8" r="7.0"/><circle cx="1040.9" cy="200.9" r="7.0"/><circle cx="1041.7" cy="201.1" r="7.0"/><circle cx="1039.0" cy="202.6" r="7.0"/><circle cx="1033.1" cy="211.1" r="7.0"/><circle cx="1031.8" cy="213.0" r="7.0"/><circle cx="1030.6" cy="214.2" r="7.0"/><circle cx="1032.0" cy="214.2" r="7.0"/><circle cx="1031.5" cy="213.1" r="7.0"/><circle cx="1026.0" cy="203.3" r="7.0"/><circle cx="1027.5" cy="205.6" r="7.0"/><circle cx="1094.7" cy="179.6" r="7.0"/><circle cx="1140.9" cy="180.2" r="7.0"/><circle cx="1096.7" cy="186.5" r="7.0"/><circle cx="1112.7" cy="185.6" r="7.0"/><circle cx="1128.5" cy="185.0" r="7.0"/><circle cx="1134.5" cy="185.3" r="7.0"/><circle cx="1094.7" cy="192.8" r="7.0"/><circle cx="1110.2" cy="193.0" r="7.0"/><circle cx="1138.8" cy="192.5" r="7.0"/><circle cx="1084.0" cy="199.0" r="7.0"/><circle cx="1091.5" cy="199.8" r="7.0"/><circle cx="1100.0" cy="199.2" r="7.0"/><circle cx="1105.0" cy="200.8" r="7.0"/><circle cx="1112.8" cy="200.0" r="7.0"/><circle cx="1137.5" cy="200.7" r="7.0"/><circle cx="1143.4" cy="199.9" r="7.0"/><circle cx="1151.7" cy="199.1" r="7.0"/><circle cx="1057.8" cy="204.8" r="7.0"/><circle cx="1063.2" cy="206.0" r="7.0"/><circle cx="1071.2" cy="204.4" r="7.0"/><circle cx="1079.6" cy="205.2" r="7.0"/><circle cx="1088.6" cy="205.5" r="7.0"/><circle cx="1096.2" cy="206.6" r="7.0"/><circle cx="1126.3" cy="206.9" r="7.0"/><circle cx="1133.4" cy="206.6" r="7.0"/><circle cx="1139.6" cy="206.6" r="7.0"/><circle cx="1147.9" cy="206.1" r="7.0"/><circle cx="1051.9" cy="213.8" r="7.0"/><circle cx="1085.0" cy="210.5" r="7.0"/><circle cx="1090.7" cy="211.2" r="7.0"/><circle cx="1127.7" cy="210.8" r="7.0"/><circle cx="1137.5" cy="213.4" r="7.0"/><circle cx="1142.3" cy="213.4" r="7.0"/><circle cx="1152.0" cy="211.0" r="7.0"/><circle cx="1156.9" cy="212.3" r="7.0"/><circle cx="1047.9" cy="216.9" r="7.0"/><circle cx="1056.1" cy="218.6" r="7.0"/><circle cx="1080.0" cy="218.2" r="7.0"/><circle cx="1087.1" cy="218.9" r="7.0"/><circle cx="1096.3" cy="217.1" r="7.0"/><circle cx="1141.3" cy="217.5" r="7.0"/><circle cx="1146.8" cy="219.3" r="7.0"/><circle cx="1077.4" cy="226.5" r="7.0"/><circle cx="1084.5" cy="223.6" r="7.0"/><circle cx="1092.6" cy="224.8" r="7.0"/><circle cx="1097.4" cy="224.2" r="7.0"/><circle cx="1143.6" cy="225.2" r="7.0"/><circle cx="1073.6" cy="229.9" r="7.0"/><circle cx="1096.4" cy="231.1" r="7.0"/><circle cx="1103.9" cy="233.2" r="7.0"/><circle cx="1054.7" cy="239.0" r="7.0"/><circle cx="1059.8" cy="238.0" r="7.0"/><circle cx="1069.2" cy="237.9" r="7.0"/><circle cx="1090.9" cy="238.8" r="7.0"/><circle cx="1098.0" cy="238.3" r="7.0"/><circle cx="1057.5" cy="243.9" r="7.0"/><circle cx="1078.4" cy="246.1" r="7.0"/><circle cx="1087.2" cy="244.4" r="7.0"/><circle cx="1095.0" cy="246.2" r="7.0"/><circle cx="1102.8" cy="242.9" r="7.0"/><circle cx="1111.2" cy="245.0" r="7.0"/><circle cx="1055.5" cy="206.8" r="7.0"/><circle cx="1057.5" cy="205.1" r="7.0"/><circle cx="1064.8" cy="202.8" r="7.0"/><circle cx="1065.8" cy="201.8" r="7.0"/><circle cx="1074.5" cy="202.1" r="7.0"/><circle cx="1083.2" cy="198.8" r="7.0"/><circle cx="1083.8" cy="198.1" r="7.0"/><circle cx="1091.3" cy="194.3" r="7.0"/><circle cx="1095.4" cy="182.9" r="7.0"/><circle cx="1094.3" cy="176.1" r="7.0"/><circle cx="1093.6" cy="174.1" r="7.0"/><circle cx="1094.2" cy="174.0" r="7.0"/><circle cx="1094.3" cy="174.0" r="7.0"/><circle cx="1095.9" cy="173.2" r="7.0"/><circle cx="1095.9" cy="174.4" r="7.0"/><circle cx="1096.7" cy="185.8" r="7.0"/><circle cx="1097.8" cy="188.1" r="7.0"/><circle cx="1097.3" cy="189.7" r="7.0"/><circle cx="1103.1" cy="200.4" r="7.0"/><circle cx="1111.6" cy="192.5" r="7.0"/><circle cx="1112.5" cy="184.9" r="7.0"/><circle cx="1112.3" cy="185.1" r="7.0"/><circle cx="1114.6" cy="183.5" r="7.0"/><circle cx="1118.7" cy="183.8" r="7.0"/><circle cx="1139.1" cy="181.4" r="7.0"/><circle cx="1140.4" cy="181.3" r="7.0"/><circle cx="1140.5" cy="182.2" r="7.0"/><circle cx="1140.4" cy="182.2" r="7.0"/><circle cx="1139.3" cy="182.2" r="7.0"/><circle cx="1142.4" cy="195.1" r="7.0"/><circle cx="1147.9" cy="197.9" r="7.0"/><circle cx="1151.5" cy="199.5" r="7.0"/><circle cx="1151.2" cy="200.8" r="7.0"/><circle cx="1159.6" cy="212.0" r="7.0"/><circle cx="1160.7" cy="212.3" r="7.0"/><circle cx="1161.8" cy="212.7" r="7.0"/><circle cx="1160.9" cy="212.2" r="7.0"/><circle cx="1162.5" cy="212.0" r="7.0"/><circle cx="1153.3" cy="219.8" r="7.0"/><circle cx="1152.6" cy="222.3" r="7.0"/><circle cx="1150.5" cy="222.9" r="7.0"/><circle cx="1143.7" cy="224.2" r="7.0"/><circle cx="1144.8" cy="224.2" r="7.0"/><circle cx="1143.4" cy="223.4" r="7.0"/><circle cx="1141.6" cy="223.8" r="7.0"/><circle cx="1134.2" cy="213.0" r="7.0"/><circle cx="1129.3" cy="212.8" r="7.0"/><circle cx="1128.5" cy="213.1" r="7.0"/><circle cx="1125.1" cy="210.1" r="7.0"/><circle cx="1120.1" cy="205.7" r="7.0"/><circle cx="1111.2" cy="200.9" r="7.0"/><circle cx="1108.1" cy="200.5" r="7.0"/><circle cx="1095.7" cy="206.6" r="7.0"/><circle cx="1096.8" cy="214.1" r="7.0"/><circle cx="1099.1" cy="223.9" r="7.0"/><circle cx="1101.1" cy="228.1" r="7.0"/><circle cx="1102.2" cy="231.9" r="7.0"/><circle cx="1111.0" cy="242.7" r="7.0"/><circle cx="1111.1" cy="243.4" r="7.0"/><circle cx="1111.2" cy="242.5" r="7.0"/><circle cx="1111.2" cy="242.2" r="7.0"/><circle cx="1111.4" cy="243.5" r="7.0"/><circle cx="1099.0" cy="244.5" r="7.0"/><circle cx="1095.5" cy="245.0" r="7.0"/><circle cx="1091.5" cy="245.7" r="7.0"/><circle cx="1082.1" cy="243.9" r="7.0"/><circle cx="1079.2" cy="244.0" r="7.0"/><circle cx="1074.2" cy="243.3" r="7.0"/><circle cx="1063.5" cy="241.6" r="7.0"/><circle cx="1057.5" cy="244.0" r="7.0"/><circle cx="1055.9" cy="243.2" r="7.0"/><circle cx="1053.5" cy="242.0" r="7.0"/><circle cx="1054.8" cy="241.7" r="7.0"/><circle cx="1050.0" cy="226.9" r="7.0"/><circle cx="1049.4" cy="226.6" r="7.0"/><circle cx="1050.2" cy="217.2" r="7.0"/><circle cx="1048.0" cy="212.7" r="7.0"/><circle cx="1051.3" cy="211.0" r="7.0"/><circle cx="1132.0" cy="187.4" r="7.0"/><circle cx="1134.7" cy="195.0" r="7.0"/><circle cx="1131.2" cy="202.2" r="7.0"/><circle cx="1123.6" cy="204.8" r="7.0"/><circle cx="1116.4" cy="201.4" r="7.0"/><circle cx="1113.8" cy="193.8" r="7.0"/><circle cx="1117.2" cy="186.6" r="7.0"/><circle cx="1124.8" cy="184.0" r="7.0"/><circle cx="1060.6" cy="212.4" r="7.0"/><circle cx="1066.8" cy="207.6" r="7.0"/><circle cx="1074.5" cy="208.6" r="7.0"/><circle cx="1079.3" cy="214.8" r="7.0"/><circle cx="1078.3" cy="222.5" r="7.0"/><circle cx="1072.1" cy="227.3" r="7.0"/><circle cx="1052.7" cy="223.3" r="7.0"/><circle cx="1059.1" cy="218.5" r="7.0"/><circle cx="1070.0" cy="227.8" r="7.0"/><circle cx="1066.3" cy="234.9" r="7.0"/><circle cx="1058.5" cy="236.4" r="7.0"/><circle cx="1052.5" cy="231.2" r="7.0"/><circle cx="1089.3" cy="230.0" r="7.0"/><circle cx="1089.7" cy="238.1" r="7.0"/><circle cx="1082.9" cy="242.6" r="7.0"/><circle cx="1075.6" cy="238.9" r="7.0"/><circle cx="1075.2" cy="230.7" r="7.0"/><circle cx="1082.0" cy="226.3" r="7.0"/><circle cx="1087.4" cy="275.0" r="7.0"/><circle cx="1093.6" cy="278.6" r="7.0"/><circle cx="1100.8" cy="282.5" r="7.0"/><circle cx="1107.3" cy="285.4" r="7.0"/><circle cx="1115.2" cy="283.9" r="7.0"/><circle cx="1120.3" cy="286.1" r="7.0"/><circle cx="1106.6" cy="288.3" r="7.0"/><circle cx="1123.9" cy="293.3" r="7.0"/>
</g>
<g fill="#4383c4">
<circle cx="1036.6" cy="483.2" r="7.0"/><circle cx="999.0" cy="526.1" r="7.0"/><circle cx="1136.5" cy="499.1" r="7.0"/><circle cx="1156.2" cy="530.9" r="7.0"/><circle cx="1138.1" cy="548.2" r="7.0"/><circle cx="950.2" cy="577.2" r="7.0"/><circle cx="1128.0" cy="532.7" r="7.0"/><circle cx="1141.2" cy="531.9" r="7.0"/><circle cx="945.2" cy="508.2" r="7.0"/><circle cx="944.0" cy="513.1" r="7.0"/><circle cx="925.2" cy="518.3" r="7.0"/><circle cx="930.8" cy="521.0" r="7.0"/><circle cx="939.6" cy="520.7" r="7.0"/><circle cx="946.7" cy="521.2" r="7.0"/><circle cx="952.3" cy="520.9" r="7.0"/><circle cx="962.5" cy="518.2" r="7.0"/><circle cx="943.6" cy="527.8" r="7.0"/><circle cx="966.1" cy="538.1" r="7.0"/><circle cx="981.1" cy="539.3" r="7.0"/><circle cx="986.0" cy="539.6" r="7.0"/><circle cx="952.8" cy="545.5" r="7.0"/><circle cx="960.4" cy="545.1" r="7.0"/><circle cx="975.0" cy="544.4" r="7.0"/><circle cx="983.9" cy="545.5" r="7.0"/><circle cx="989.5" cy="544.6" r="7.0"/><circle cx="942.2" cy="552.4" r="7.0"/><circle cx="948.3" cy="550.8" r="7.0"/><circle cx="955.8" cy="550.9" r="7.0"/><circle cx="981.3" cy="552.6" r="7.0"/><circle cx="987.1" cy="551.5" r="7.0"/><circle cx="960.5" cy="557.4" r="7.0"/><circle cx="974.8" cy="560.0" r="7.0"/><circle cx="982.8" cy="559.8" r="7.0"/><circle cx="1005.8" cy="558.6" r="7.0"/><circle cx="1015.0" cy="559.7" r="7.0"/><circle cx="979.3" cy="564.3" r="7.0"/><circle cx="987.5" cy="565.2" r="7.0"/><circle cx="995.9" cy="564.5" r="7.0"/><circle cx="1001.3" cy="565.8" r="7.0"/><circle cx="976.2" cy="570.2" r="7.0"/><circle cx="982.0" cy="572.3" r="7.0"/><circle cx="999.1" cy="570.0" r="7.0"/><circle cx="971.5" cy="579.0" r="7.0"/><circle cx="977.9" cy="579.9" r="7.0"/><circle cx="988.1" cy="578.3" r="7.0"/><circle cx="1026.2" cy="577.5" r="7.0"/><circle cx="1032.0" cy="579.6" r="7.0"/><circle cx="1038.6" cy="576.5" r="7.0"/><circle cx="976.0" cy="584.6" r="7.0"/><circle cx="927.0" cy="517.1" r="7.0"/><circle cx="927.5" cy="517.8" r="7.0"/><circle cx="927.1" cy="517.4" r="7.0"/><circle cx="932.6" cy="519.0" r="7.0"/><circle cx="945.7" cy="512.0" r="7.0"/><circle cx="945.9" cy="509.3" r="7.0"/><circle cx="947.3" cy="508.1" r="7.0"/><circle cx="948.9" cy="506.9" r="7.0"/><circle cx="948.4" cy="507.9" r="7.0"/><circle cx="947.9" cy="509.6" r="7.0"/><circle cx="958.0" cy="519.7" r="7.0"/><circle cx="962.6" cy="519.0" r="7.0"/><circle cx="961.1" cy="518.2" r="7.0"/><circle cx="963.1" cy="519.3" r="7.0"/><circle cx="961.4" cy="519.6" r="7.0"/><circle cx="958.5" cy="522.1" r="7.0"/><circle cx="955.6" cy="522.4" r="7.0"/><circle cx="944.7" cy="527.2" r="7.0"/><circle cx="944.1" cy="537.8" r="7.0"/><circle cx="953.3" cy="544.5" r="7.0"/><circle cx="964.8" cy="537.2" r="7.0"/><circle cx="964.2" cy="536.6" r="7.0"/><circle cx="965.8" cy="535.1" r="7.0"/><circle cx="967.0" cy="535.8" r="7.0"/><circle cx="967.8" cy="537.2" r="7.0"/><circle cx="979.2" cy="541.6" r="7.0"/><circle cx="985.3" cy="536.6" r="7.0"/><circle cx="985.7" cy="535.8" r="7.0"/><circle cx="985.6" cy="536.8" r="7.0"/><circle cx="986.4" cy="539.6" r="7.0"/><circle cx="989.3" cy="547.5" r="7.0"/><circle cx="989.6" cy="549.3" r="7.0"/><circle cx="989.4" cy="553.2" r="7.0"/><circle cx="997.8" cy="562.3" r="7.0"/><circle cx="1004.3" cy="560.0" r="7.0"/><circle cx="1008.4" cy="557.2" r="7.0"/><circle cx="1011.2" cy="557.4" r="7.0"/><circle cx="1014.7" cy="558.7" r="7.0"/><circle cx="1020.6" cy="562.7" r="7.0"/><circle cx="1021.9" cy="564.1" r="7.0"/><circle cx="1021.9" cy="564.7" r="7.0"/><circle cx="1028.6" cy="574.3" r="7.0"/><circle cx="1034.1" cy="576.9" r="7.0"/><circle cx="1037.0" cy="576.9" r="7.0"/><circle cx="1038.2" cy="579.0" r="7.0"/><circle cx="1037.8" cy="578.9" r="7.0"/><circle cx="1039.0" cy="578.2" r="7.0"/><circle cx="1035.3" cy="577.7" r="7.0"/><circle cx="1029.4" cy="577.1" r="7.0"/><circle cx="1026.3" cy="575.1" r="7.0"/><circle cx="1025.9" cy="574.8" r="7.0"/><circle cx="1026.2" cy="572.7" r="7.0"/><circle cx="1020.5" cy="559.8" r="7.0"/><circle cx="1013.6" cy="558.6" r="7.0"/><circle cx="1004.6" cy="566.6" r="7.0"/><circle cx="1002.9" cy="568.3" r="7.0"/><circle cx="1001.5" cy="568.4" r="7.0"/><circle cx="999.2" cy="567.6" r="7.0"/><circle cx="988.5" cy="574.2" r="7.0"/><circle cx="985.9" cy="579.5" r="7.0"/><circle cx="986.2" cy="581.7" r="7.0"/><circle cx="982.9" cy="581.9" r="7.0"/><circle cx="976.0" cy="588.6" r="7.0"/><circle cx="976.3" cy="588.6" r="7.0"/><circle cx="974.3" cy="588.1" r="7.0"/><circle cx="975.9" cy="587.0" r="7.0"/><circle cx="972.2" cy="581.8" r="7.0"/><circle cx="972.1" cy="580.1" r="7.0"/><circle cx="971.1" cy="579.5" r="7.0"/><circle cx="973.2" cy="575.1" r="7.0"/><circle cx="972.0" cy="562.4" r="7.0"/><circle cx="961.4" cy="565.1" r="7.0"/><circle cx="959.5" cy="566.1" r="7.0"/><circle cx="960.0" cy="566.1" r="7.0"/><circle cx="959.3" cy="564.1" r="7.0"/><circle cx="958.6" cy="564.9" r="7.0"/><circle cx="951.7" cy="553.9" r="7.0"/><circle cx="945.7" cy="554.4" r="7.0"/><circle cx="943.4" cy="553.9" r="7.0"/><circle cx="942.1" cy="553.3" r="7.0"/><circle cx="942.5" cy="554.1" r="7.0"/><circle cx="942.6" cy="553.2" r="7.0"/><circle cx="945.5" cy="540.5" r="7.0"/><circle cx="940.7" cy="535.5" r="7.0"/><circle cx="939.6" cy="533.8" r="7.0"/><circle cx="938.4" cy="532.6" r="7.0"/><circle cx="939.6" cy="532.2" r="7.0"/><circle cx="934.0" cy="519.0" r="7.0"/><circle cx="928.6" cy="519.6" r="7.0"/><circle cx="927.2" cy="518.2" r="7.0"/><circle cx="962.1" cy="545.1" r="7.0"/><circle cx="969.6" cy="542.5" r="7.0"/><circle cx="976.3" cy="546.8" r="7.0"/><circle cx="977.1" cy="554.7" r="7.0"/><circle cx="971.4" cy="560.3" r="7.0"/><circle cx="963.5" cy="559.3" r="7.0"/><circle cx="959.4" cy="552.6" r="7.0"/><circle cx="1012.3" cy="591.9" r="7.0"/><circle cx="1020.6" cy="592.2" r="7.0"/><circle cx="1030.5" cy="593.7" r="7.0"/><circle cx="1009.1" cy="598.2" r="7.0"/><circle cx="1010.8" cy="594.1" r="7.0"/><circle cx="1011.8" cy="592.8" r="7.0"/><circle cx="1012.3" cy="592.9" r="7.0"/><circle cx="1023.1" cy="591.6" r="7.0"/><circle cx="1020.8" cy="592.4" r="7.0"/><circle cx="1027.8" cy="592.6" r="7.0"/><circle cx="1031.5" cy="595.4" r="7.0"/><circle cx="1037.5" cy="595.3" r="7.0"/><circle cx="1040.0" cy="598.0" r="7.0"/><circle cx="1039.2" cy="596.7" r="7.0"/><circle cx="1038.4" cy="597.4" r="7.0"/><circle cx="1038.7" cy="597.5" r="7.0"/><circle cx="1035.1" cy="595.3" r="7.0"/><circle cx="1025.4" cy="593.2" r="7.0"/><circle cx="1019.7" cy="593.4" r="7.0"/><circle cx="1010.7" cy="599.5" r="7.0"/><circle cx="1011.2" cy="600.2" r="7.0"/><circle cx="1009.6" cy="600.3" r="7.0"/><circle cx="1010.0" cy="598.6" r="7.0"/><circle cx="1008.7" cy="597.9" r="7.0"/><circle cx="1048.2" cy="494.2" r="7.0"/><circle cx="1045.9" cy="498.5" r="7.0"/><circle cx="1104.4" cy="501.2" r="7.0"/><circle cx="1047.0" cy="505.6" r="7.0"/><circle cx="1093.7" cy="508.3" r="7.0"/><circle cx="1100.6" cy="507.5" r="7.0"/><circle cx="1107.6" cy="507.6" r="7.0"/><circle cx="1053.0" cy="511.6" r="7.0"/><circle cx="1058.3" cy="512.0" r="7.0"/><circle cx="1069.0" cy="512.0" r="7.0"/><circle cx="1075.8" cy="513.8" r="7.0"/><circle cx="1099.0" cy="513.0" r="7.0"/><circle cx="1103.2" cy="514.5" r="7.0"/><circle cx="1056.1" cy="517.9" r="7.0"/><circle cx="1065.1" cy="519.5" r="7.0"/><circle cx="1071.3" cy="520.5" r="7.0"/><circle cx="1102.7" cy="518.8" r="7.0"/><circle cx="1109.8" cy="519.2" r="7.0"/><circle cx="1117.5" cy="520.0" r="7.0"/><circle cx="1065.9" cy="526.1" r="7.0"/><circle cx="1073.7" cy="526.4" r="7.0"/><circle cx="1105.9" cy="527.5" r="7.0"/><circle cx="1113.9" cy="525.0" r="7.0"/><circle cx="1064.1" cy="534.2" r="7.0"/><circle cx="1070.1" cy="534.2" r="7.0"/><circle cx="1079.8" cy="533.3" r="7.0"/><circle cx="1102.8" cy="531.1" r="7.0"/><circle cx="1107.1" cy="533.2" r="7.0"/><circle cx="1116.2" cy="531.7" r="7.0"/><circle cx="1022.4" cy="539.6" r="7.0"/><circle cx="1043.9" cy="540.2" r="7.0"/><circle cx="1059.9" cy="540.6" r="7.0"/><circle cx="1097.7" cy="537.4" r="7.0"/><circle cx="1112.8" cy="538.2" r="7.0"/><circle cx="1041.7" cy="544.6" r="7.0"/><circle cx="1062.8" cy="544.5" r="7.0"/><circle cx="1099.8" cy="545.2" r="7.0"/><circle cx="1081.8" cy="552.9" r="7.0"/><circle cx="1089.0" cy="551.4" r="7.0"/><circle cx="1078.0" cy="558.8" r="7.0"/><circle cx="1109.4" cy="557.9" r="7.0"/><circle cx="1116.6" cy="556.8" r="7.0"/><circle cx="1066.3" cy="565.6" r="7.0"/><circle cx="1073.9" cy="564.2" r="7.0"/><circle cx="1082.2" cy="564.0" r="7.0"/><circle cx="1049.0" cy="570.7" r="7.0"/><circle cx="1054.3" cy="572.2" r="7.0"/><circle cx="1064.9" cy="572.6" r="7.0"/><circle cx="1072.3" cy="570.1" r="7.0"/><circle cx="1096.8" cy="579.1" r="7.0"/><circle cx="1104.3" cy="578.6" r="7.0"/><circle cx="1055.6" cy="583.8" r="7.0"/><circle cx="1100.7" cy="583.8" r="7.0"/><circle cx="1113.4" cy="591.0" r="7.0"/><circle cx="1094.5" cy="596.2" r="7.0"/><circle cx="1101.2" cy="598.9" r="7.0"/><circle cx="1107.1" cy="597.1" r="7.0"/><circle cx="1117.4" cy="597.9" r="7.0"/><circle cx="1097.1" cy="604.7" r="7.0"/><circle cx="1121.1" cy="602.6" r="7.0"/><circle cx="1092.7" cy="609.5" r="7.0"/><circle cx="1035.0" cy="503.1" r="7.0"/><circle cx="1036.3" cy="502.7" r="7.0"/><circle cx="1036.7" cy="502.5" r="7.0"/><circle cx="1046.8" cy="495.0" r="7.0"/><circle cx="1048.3" cy="492.4" r="7.0"/><circle cx="1048.1" cy="493.4" r="7.0"/><circle cx="1047.4" cy="492.4" r="7.0"/><circle cx="1061.9" cy="486.8" r="7.0"/><circle cx="1062.4" cy="486.4" r="7.0"/><circle cx="1061.7" cy="487.6" r="7.0"/><circle cx="1062.3" cy="487.8" r="7.0"/><circle cx="1069.9" cy="507.6" r="7.0"/><circle cx="1085.8" cy="503.5" r="7.0"/><circle cx="1085.7" cy="503.4" r="7.0"/><circle cx="1088.8" cy="504.0" r="7.0"/><circle cx="1102.0" cy="497.7" r="7.0"/><circle cx="1102.0" cy="495.3" r="7.0"/><circle cx="1106.8" cy="489.8" r="7.0"/><circle cx="1107.4" cy="488.7" r="7.0"/><circle cx="1107.8" cy="488.1" r="7.0"/><circle cx="1107.4" cy="489.1" r="7.0"/><circle cx="1108.4" cy="488.7" r="7.0"/><circle cx="1106.5" cy="499.0" r="7.0"/><circle cx="1108.4" cy="504.6" r="7.0"/><circle cx="1107.4" cy="507.2" r="7.0"/><circle cx="1108.4" cy="517.6" r="7.0"/><circle cx="1120.0" cy="521.9" r="7.0"/><circle cx="1120.7" cy="521.4" r="7.0"/><circle cx="1122.2" cy="521.7" r="7.0"/><circle cx="1121.0" cy="522.9" r="7.0"/><circle cx="1121.1" cy="522.6" r="7.0"/><circle cx="1114.9" cy="533.0" r="7.0"/><circle cx="1115.0" cy="535.1" r="7.0"/><circle cx="1113.4" cy="535.9" r="7.0"/><circle cx="1112.2" cy="535.9" r="7.0"/><circle cx="1102.4" cy="539.8" r="7.0"/><circle cx="1112.7" cy="555.5" r="7.0"/><circle cx="1114.2" cy="555.9" r="7.0"/><circle cx="1114.0" cy="556.6" r="7.0"/><circle cx="1117.3" cy="563.4" r="7.0"/><circle cx="1117.3" cy="563.6" r="7.0"/><circle cx="1116.3" cy="566.0" r="7.0"/><circle cx="1115.2" cy="567.3" r="7.0"/><circle cx="1109.3" cy="578.6" r="7.0"/><circle cx="1110.2" cy="580.5" r="7.0"/><circle cx="1110.3" cy="580.9" r="7.0"/><circle cx="1116.6" cy="593.4" r="7.0"/><circle cx="1116.1" cy="593.8" r="7.0"/><circle cx="1116.0" cy="593.8" r="7.0"/><circle cx="1119.3" cy="604.5" r="7.0"/><circle cx="1119.2" cy="601.6" r="7.0"/><circle cx="1120.6" cy="600.8" r="7.0"/><circle cx="1118.6" cy="601.5" r="7.0"/><circle cx="1115.5" cy="598.0" r="7.0"/><circle cx="1101.4" cy="600.3" r="7.0"/><circle cx="1100.5" cy="607.9" r="7.0"/><circle cx="1101.2" cy="606.8" r="7.0"/><circle cx="1098.0" cy="607.5" r="7.0"/><circle cx="1093.0" cy="608.7" r="7.0"/><circle cx="1089.1" cy="608.0" r="7.0"/><circle cx="1088.8" cy="607.5" r="7.0"/><circle cx="1088.4" cy="608.0" r="7.0"/><circle cx="1089.7" cy="598.1" r="7.0"/><circle cx="1090.6" cy="598.2" r="7.0"/><circle cx="1090.8" cy="598.2" r="7.0"/><circle cx="1098.5" cy="597.5" r="7.0"/><circle cx="1098.6" cy="596.1" r="7.0"/><circle cx="1108.9" cy="594.8" r="7.0"/><circle cx="1103.6" cy="583.1" r="7.0"/><circle cx="1100.0" cy="583.2" r="7.0"/><circle cx="1095.9" cy="582.2" r="7.0"/><circle cx="1094.9" cy="580.3" r="7.0"/><circle cx="1094.6" cy="580.4" r="7.0"/><circle cx="1096.1" cy="580.4" r="7.0"/><circle cx="1102.0" cy="576.4" r="7.0"/><circle cx="1083.7" cy="566.0" r="7.0"/><circle cx="1081.9" cy="566.7" r="7.0"/><circle cx="1071.7" cy="568.9" r="7.0"/><circle cx="1066.6" cy="570.3" r="7.0"/><circle cx="1060.1" cy="573.9" r="7.0"/><circle cx="1055.5" cy="584.0" r="7.0"/><circle cx="1053.8" cy="584.8" r="7.0"/><circle cx="1055.5" cy="584.6" r="7.0"/><circle cx="1054.9" cy="582.4" r="7.0"/><circle cx="1054.8" cy="582.4" r="7.0"/><circle cx="1053.0" cy="573.7" r="7.0"/><circle cx="1047.0" cy="567.7" r="7.0"/><circle cx="1045.3" cy="565.9" r="7.0"/><circle cx="1045.8" cy="566.0" r="7.0"/><circle cx="1046.5" cy="565.6" r="7.0"/><circle cx="1046.0" cy="566.1" r="7.0"/><circle cx="1051.1" cy="568.1" r="7.0"/><circle cx="1060.1" cy="569.0" r="7.0"/><circle cx="1067.4" cy="566.0" r="7.0"/><circle cx="1065.8" cy="552.6" r="7.0"/><circle cx="1064.5" cy="552.2" r="7.0"/><circle cx="1065.0" cy="551.4" r="7.0"/><circle cx="1059.2" cy="541.6" r="7.0"/><circle cx="1055.8" cy="539.7" r="7.0"/><circle cx="1044.7" cy="544.2" r="7.0"/><circle cx="1043.2" cy="549.6" r="7.0"/><circle cx="1042.8" cy="549.3" r="7.0"/><circle cx="1042.3" cy="548.2" r="7.0"/><circle cx="1042.7" cy="547.6" r="7.0"/><circle cx="1040.7" cy="542.9" r="7.0"/><circle cx="1040.3" cy="542.6" r="7.0"/><circle cx="1042.0" cy="540.6" r="7.0"/><circle cx="1034.3" cy="527.2" r="7.0"/><circle cx="1020.3" cy="538.2" r="7.0"/><circle cx="1019.6" cy="540.7" r="7.0"/><circle cx="1019.2" cy="542.3" r="7.0"/><circle cx="1017.7" cy="542.1" r="7.0"/><circle cx="1018.2" cy="542.7" r="7.0"/><circle cx="1018.0" cy="542.3" r="7.0"/><circle cx="1017.5" cy="542.0" r="7.0"/><circle cx="1036.5" cy="528.6" r="7.0"/><circle cx="1043.1" cy="526.1" r="7.0"/><circle cx="1043.2" cy="526.0" r="7.0"/><circle cx="1050.2" cy="510.2" r="7.0"/><circle cx="1045.7" cy="505.9" r="7.0"/><circle cx="1037.1" cy="504.2" r="7.0"/><circle cx="1033.7" cy="502.3" r="7.0"/><circle cx="1034.1" cy="503.9" r="7.0"/><circle cx="1065.3" cy="509.1" r="7.0"/><circle cx="1057.3" cy="510.7" r="7.0"/><circle cx="1050.5" cy="506.1" r="7.0"/><circle cx="1048.9" cy="498.0" r="7.0"/><circle cx="1061.6" cy="489.7" r="7.0"/><circle cx="1068.3" cy="494.3" r="7.0"/><circle cx="1043.8" cy="527.5" r="7.0"/><circle cx="1055.4" cy="517.9" r="7.0"/><circle cx="1062.7" cy="521.7" r="7.0"/><circle cx="1065.1" cy="529.5" r="7.0"/><circle cx="1061.3" cy="536.8" r="7.0"/><circle cx="1053.5" cy="539.2" r="7.0"/><circle cx="1046.2" cy="535.4" r="7.0"/><circle cx="1100.3" cy="527.4" r="7.0"/><circle cx="1095.1" cy="533.5" r="7.0"/><circle cx="1087.2" cy="534.1" r="7.0"/><circle cx="1081.1" cy="528.9" r="7.0"/><circle cx="1080.5" cy="521.0" r="7.0"/><circle cx="1093.6" cy="514.3" r="7.0"/><circle cx="1099.6" cy="519.5" r="7.0"/><circle cx="1078.0" cy="538.4" r="7.0"/><circle cx="1078.9" cy="552.7" r="7.0"/><circle cx="1071.3" cy="554.9" r="7.0"/><circle cx="1064.7" cy="550.4" r="7.0"/><circle cx="1064.2" cy="542.5" r="7.0"/><circle cx="1070.1" cy="537.1" r="7.0"/><circle cx="1081.5" cy="546.3" r="7.0"/><circle cx="1082.4" cy="537.8" r="7.0"/><circle cx="1090.2" cy="534.3" r="7.0"/><circle cx="1097.1" cy="539.3" r="7.0"/><circle cx="1096.2" cy="547.8" r="7.0"/><circle cx="1088.4" cy="551.3" r="7.0"/><circle cx="1086.9" cy="563.1" r="7.0"/><circle cx="1086.8" cy="555.1" r="7.0"/><circle cx="1099.8" cy="547.6" r="7.0"/><circle cx="1106.7" cy="551.5" r="7.0"/><circle cx="1101.8" cy="576.0" r="7.0"/><circle cx="1108.9" cy="557.6" r="7.0"/><circle cx="1113.3" cy="565.2" r="7.0"/><circle cx="1079.3" cy="519.5" r="7.0"/><circle cx="1076.7" cy="511.8" r="7.0"/><circle cx="1082.0" cy="505.7" r="7.0"/><circle cx="1090.0" cy="507.3" r="7.0"/><circle cx="1029.4" cy="634.8" r="7.0"/><circle cx="1020.4" cy="639.8" r="7.0"/>
</g>
<g fill="#7569ee">
<circle cx="1084.3" cy="314.2" r="7.0"/><circle cx="1072.7" cy="321.0" r="7.0"/><circle cx="1080.7" cy="320.7" r="7.0"/><circle cx="1086.4" cy="325.0" r="7.0"/><circle cx="1092.9" cy="331.5" r="7.0"/><circle cx="1085.0" cy="318.5" r="7.0"/><circle cx="1035.3" cy="367.5" r="7.0"/><circle cx="1177.9" cy="350.2" r="7.0"/><circle cx="1190.9" cy="343.0" r="7.0"/><circle cx="1197.3" cy="345.2" r="7.0"/><circle cx="1204.5" cy="345.2" r="7.0"/><circle cx="1216.1" cy="342.7" r="7.0"/><circle cx="1220.4" cy="347.3" r="7.0"/><circle cx="1210.3" cy="348.0" r="7.0"/><circle cx="1201.7" cy="350.9" r="7.0"/><circle cx="1193.0" cy="349.5" r="7.0"/><circle cx="1198.8" cy="356.7" r="7.0"/><circle cx="1207.4" cy="355.2" r="7.0"/><circle cx="1216.1" cy="355.2" r="7.0"/><circle cx="1221.8" cy="354.5" r="7.0"/><circle cx="1204.5" cy="363.9" r="7.0"/><circle cx="1198.8" cy="359.6" r="7.0"/><circle cx="1218.9" cy="350.9" r="7.0"/><circle cx="770.4" cy="612.1" r="7.0"/><circle cx="768.9" cy="630.9" r="7.0"/><circle cx="835.9" cy="565.6" r="7.0"/><circle cx="842.4" cy="572.5" r="7.0"/><circle cx="832.3" cy="580.0" r="7.0"/><circle cx="827.3" cy="582.9" r="7.0"/><circle cx="822.9" cy="585.8" r="7.0"/><circle cx="792.0" cy="593.0" r="7.0"/><circle cx="798.4" cy="599.5" r="7.0"/><circle cx="803.5" cy="594.4" r="7.0"/><circle cx="810.0" cy="598.3" r="7.0"/><circle cx="783.3" cy="574.3" r="7.0"/><circle cx="779.0" cy="579.3" r="7.0"/><circle cx="772.8" cy="582.5" r="7.0"/><circle cx="792.1" cy="554.4" r="7.0"/><circle cx="799.0" cy="552.5" r="7.0"/><circle cx="813.9" cy="552.6" r="7.0"/><circle cx="782.5" cy="556.9" r="7.0"/><circle cx="786.0" cy="555.1" r="7.0"/><circle cx="789.2" cy="553.0" r="7.0"/><circle cx="799.3" cy="546.2" r="7.0"/><circle cx="799.9" cy="547.3" r="7.0"/><circle cx="800.1" cy="547.2" r="7.0"/><circle cx="799.7" cy="547.7" r="7.0"/><circle cx="812.5" cy="551.9" r="7.0"/><circle cx="815.0" cy="552.9" r="7.0"/><circle cx="817.7" cy="553.8" r="7.0"/><circle cx="817.5" cy="554.0" r="7.0"/><circle cx="817.1" cy="555.1" r="7.0"/><circle cx="816.5" cy="555.0" r="7.0"/><circle cx="811.0" cy="552.5" r="7.0"/><circle cx="799.1" cy="556.0" r="7.0"/><circle cx="796.7" cy="558.5" r="7.0"/><circle cx="796.4" cy="558.5" r="7.0"/><circle cx="793.4" cy="557.4" r="7.0"/><circle cx="784.4" cy="555.8" r="7.0"/><circle cx="782.2" cy="556.1" r="7.0"/><circle cx="781.3" cy="555.4" r="7.0"/><circle cx="718.3" cy="508.0" r="7.0"/><circle cx="727.5" cy="508.2" r="7.0"/><circle cx="699.8" cy="514.8" r="7.0"/><circle cx="716.2" cy="514.5" r="7.0"/><circle cx="721.8" cy="514.4" r="7.0"/><circle cx="695.5" cy="518.9" r="7.0"/><circle cx="702.9" cy="520.5" r="7.0"/><circle cx="709.9" cy="519.4" r="7.0"/><circle cx="725.7" cy="518.3" r="7.0"/><circle cx="735.0" cy="520.8" r="7.0"/><circle cx="676.5" cy="527.4" r="7.0"/><circle cx="731.9" cy="527.7" r="7.0"/><circle cx="739.1" cy="525.0" r="7.0"/><circle cx="746.7" cy="525.2" r="7.0"/><circle cx="751.6" cy="526.2" r="7.0"/><circle cx="674.3" cy="534.0" r="7.0"/><circle cx="680.7" cy="531.3" r="7.0"/><circle cx="689.2" cy="533.7" r="7.0"/><circle cx="735.2" cy="533.8" r="7.0"/><circle cx="740.7" cy="530.9" r="7.0"/><circle cx="749.6" cy="531.2" r="7.0"/><circle cx="772.8" cy="531.0" r="7.0"/><circle cx="779.3" cy="532.0" r="7.0"/><circle cx="676.1" cy="540.7" r="7.0"/><circle cx="684.3" cy="539.5" r="7.0"/><circle cx="691.5" cy="538.5" r="7.0"/><circle cx="722.1" cy="539.7" r="7.0"/><circle cx="729.8" cy="537.7" r="7.0"/><circle cx="760.3" cy="540.4" r="7.0"/><circle cx="766.0" cy="539.2" r="7.0"/><circle cx="675.4" cy="545.8" r="7.0"/><circle cx="695.8" cy="545.6" r="7.0"/><circle cx="717.7" cy="547.0" r="7.0"/><circle cx="725.9" cy="546.9" r="7.0"/><circle cx="765.0" cy="546.2" r="7.0"/><circle cx="671.0" cy="552.7" r="7.0"/><circle cx="700.3" cy="550.4" r="7.0"/><circle cx="723.7" cy="550.3" r="7.0"/><circle cx="746.8" cy="551.6" r="7.0"/><circle cx="768.8" cy="553.5" r="7.0"/><circle cx="673.8" cy="558.7" r="7.0"/><circle cx="727.7" cy="557.7" r="7.0"/><circle cx="734.3" cy="559.0" r="7.0"/><circle cx="739.7" cy="558.2" r="7.0"/><circle cx="747.1" cy="560.2" r="7.0"/><circle cx="713.7" cy="565.8" r="7.0"/><circle cx="722.5" cy="566.1" r="7.0"/><circle cx="730.5" cy="563.4" r="7.0"/><circle cx="736.1" cy="564.5" r="7.0"/><circle cx="746.0" cy="564.5" r="7.0"/><circle cx="674.1" cy="571.8" r="7.0"/><circle cx="710.7" cy="572.8" r="7.0"/><circle cx="717.8" cy="569.9" r="7.0"/><circle cx="734.5" cy="571.0" r="7.0"/><circle cx="743.1" cy="570.6" r="7.0"/><circle cx="662.9" cy="578.5" r="7.0"/><circle cx="669.5" cy="577.0" r="7.0"/><circle cx="677.7" cy="577.2" r="7.0"/><circle cx="683.8" cy="578.0" r="7.0"/><circle cx="691.2" cy="578.4" r="7.0"/><circle cx="672.7" cy="583.1" r="7.0"/><circle cx="681.6" cy="583.5" r="7.0"/><circle cx="688.4" cy="584.8" r="7.0"/><circle cx="711.9" cy="585.0" r="7.0"/><circle cx="678.4" cy="591.3" r="7.0"/><circle cx="685.8" cy="589.6" r="7.0"/><circle cx="708.8" cy="590.3" r="7.0"/><circle cx="715.5" cy="591.8" r="7.0"/><circle cx="724.4" cy="592.5" r="7.0"/><circle cx="744.4" cy="592.7" r="7.0"/><circle cx="752.7" cy="590.0" r="7.0"/><circle cx="710.8" cy="598.9" r="7.0"/><circle cx="720.6" cy="598.4" r="7.0"/><circle cx="724.7" cy="598.9" r="7.0"/><circle cx="747.1" cy="596.5" r="7.0"/><circle cx="706.3" cy="605.4" r="7.0"/><circle cx="713.5" cy="603.4" r="7.0"/><circle cx="724.3" cy="605.0" r="7.0"/><circle cx="734.9" cy="609.9" r="7.0"/><circle cx="742.8" cy="611.5" r="7.0"/><circle cx="747.4" cy="610.1" r="7.0"/><circle cx="695.9" cy="509.6" r="7.0"/><circle cx="696.0" cy="510.3" r="7.0"/><circle cx="696.0" cy="511.1" r="7.0"/><circle cx="696.4" cy="511.8" r="7.0"/><circle cx="702.3" cy="518.8" r="7.0"/><circle cx="714.8" cy="516.2" r="7.0"/><circle cx="717.2" cy="507.3" r="7.0"/><circle cx="717.1" cy="507.5" r="7.0"/><circle cx="717.0" cy="506.7" r="7.0"/><circle cx="717.4" cy="506.0" r="7.0"/><circle cx="728.0" cy="505.9" r="7.0"/><circle cx="728.6" cy="507.8" r="7.0"/><circle cx="727.5" cy="507.6" r="7.0"/><circle cx="728.0" cy="507.8" r="7.0"/><circle cx="727.9" cy="508.0" r="7.0"/><circle cx="734.3" cy="520.0" r="7.0"/><circle cx="736.0" cy="520.5" r="7.0"/><circle cx="736.8" cy="520.6" r="7.0"/><circle cx="749.3" cy="524.3" r="7.0"/><circle cx="750.3" cy="522.5" r="7.0"/><circle cx="750.8" cy="523.2" r="7.0"/><circle cx="750.9" cy="523.7" r="7.0"/><circle cx="753.2" cy="530.1" r="7.0"/><circle cx="753.5" cy="530.7" r="7.0"/><circle cx="763.6" cy="538.4" r="7.0"/><circle cx="769.8" cy="532.7" r="7.0"/><circle cx="769.9" cy="531.6" r="7.0"/><circle cx="770.8" cy="532.3" r="7.0"/><circle cx="779.7" cy="533.5" r="7.0"/><circle cx="781.5" cy="533.4" r="7.0"/><circle cx="784.2" cy="536.4" r="7.0"/><circle cx="784.1" cy="534.6" r="7.0"/><circle cx="783.8" cy="535.2" r="7.0"/><circle cx="783.4" cy="534.4" r="7.0"/><circle cx="771.3" cy="542.6" r="7.0"/><circle cx="770.5" cy="541.8" r="7.0"/><circle cx="766.9" cy="553.0" r="7.0"/><circle cx="766.8" cy="555.8" r="7.0"/><circle cx="766.5" cy="558.2" r="7.0"/><circle cx="765.8" cy="573.6" r="7.0"/><circle cx="765.2" cy="572.0" r="7.0"/><circle cx="754.7" cy="584.7" r="7.0"/><circle cx="754.9" cy="591.9" r="7.0"/><circle cx="752.7" cy="597.5" r="7.0"/><circle cx="750.8" cy="600.7" r="7.0"/><circle cx="748.7" cy="605.1" r="7.0"/><circle cx="747.7" cy="609.0" r="7.0"/><circle cx="744.2" cy="611.4" r="7.0"/><circle cx="742.0" cy="611.7" r="7.0"/><circle cx="737.0" cy="609.9" r="7.0"/><circle cx="731.8" cy="608.9" r="7.0"/><circle cx="727.9" cy="607.2" r="7.0"/><circle cx="722.9" cy="604.1" r="7.0"/><circle cx="711.8" cy="604.7" r="7.0"/><circle cx="710.2" cy="605.8" r="7.0"/><circle cx="709.8" cy="603.8" r="7.0"/><circle cx="708.6" cy="604.0" r="7.0"/><circle cx="708.9" cy="603.1" r="7.0"/><circle cx="702.9" cy="591.1" r="7.0"/><circle cx="704.2" cy="591.6" r="7.0"/><circle cx="688.5" cy="588.9" r="7.0"/><circle cx="683.5" cy="594.3" r="7.0"/><circle cx="682.9" cy="594.1" r="7.0"/><circle cx="678.8" cy="595.5" r="7.0"/><circle cx="676.7" cy="593.5" r="7.0"/><circle cx="674.0" cy="589.2" r="7.0"/><circle cx="673.1" cy="588.3" r="7.0"/><circle cx="664.6" cy="579.1" r="7.0"/><circle cx="663.0" cy="577.9" r="7.0"/><circle cx="661.3" cy="578.4" r="7.0"/><circle cx="662.5" cy="578.6" r="7.0"/><circle cx="662.3" cy="577.6" r="7.0"/><circle cx="672.4" cy="572.0" r="7.0"/><circle cx="672.3" cy="562.7" r="7.0"/><circle cx="671.1" cy="559.5" r="7.0"/><circle cx="670.0" cy="553.6" r="7.0"/><circle cx="668.9" cy="553.0" r="7.0"/><circle cx="668.7" cy="552.3" r="7.0"/><circle cx="674.1" cy="543.7" r="7.0"/><circle cx="667.5" cy="533.8" r="7.0"/><circle cx="667.3" cy="533.8" r="7.0"/><circle cx="666.3" cy="534.1" r="7.0"/><circle cx="666.5" cy="535.2" r="7.0"/><circle cx="669.2" cy="534.7" r="7.0"/><circle cx="677.8" cy="529.5" r="7.0"/><circle cx="676.9" cy="528.9" r="7.0"/><circle cx="681.2" cy="528.7" r="7.0"/><circle cx="694.3" cy="516.8" r="7.0"/><circle cx="693.5" cy="514.0" r="7.0"/><circle cx="719.2" cy="517.5" r="7.0"/><circle cx="727.1" cy="519.0" r="7.0"/><circle cx="731.7" cy="525.7" r="7.0"/><circle cx="730.2" cy="533.6" r="7.0"/><circle cx="723.6" cy="538.2" r="7.0"/><circle cx="712.5" cy="522.1" r="7.0"/><circle cx="711.3" cy="523.9" r="7.0"/><circle cx="723.9" cy="537.8" r="7.0"/><circle cx="715.7" cy="546.9" r="7.0"/><circle cx="707.3" cy="549.4" r="7.0"/><circle cx="700.1" cy="544.4" r="7.0"/><circle cx="707.2" cy="525.8" r="7.0"/><circle cx="696.4" cy="539.6" r="7.0"/><circle cx="691.9" cy="536.0" r="7.0"/><circle cx="689.5" cy="528.3" r="7.0"/><circle cx="695.0" cy="522.4" r="7.0"/><circle cx="702.9" cy="524.2" r="7.0"/><circle cx="693.0" cy="545.9" r="7.0"/><circle cx="674.6" cy="548.3" r="7.0"/><circle cx="678.9" cy="541.2" r="7.0"/><circle cx="687.0" cy="540.2" r="7.0"/><circle cx="675.7" cy="555.0" r="7.0"/><circle cx="693.4" cy="551.7" r="7.0"/><circle cx="677.1" cy="560.7" r="7.0"/><circle cx="680.8" cy="572.3" r="7.0"/><circle cx="689.2" cy="574.3" r="7.0"/><circle cx="694.0" cy="556.7" r="7.0"/><circle cx="699.1" cy="550.8" r="7.0"/><circle cx="706.8" cy="551.0" r="7.0"/><circle cx="709.5" cy="564.7" r="7.0"/><circle cx="706.8" cy="570.5" r="7.0"/><circle cx="691.9" cy="583.4" r="7.0"/><circle cx="693.9" cy="575.6" r="7.0"/><circle cx="708.3" cy="576.0" r="7.0"/><circle cx="709.9" cy="583.8" r="7.0"/><circle cx="704.7" cy="590.0" r="7.0"/><circle cx="721.9" cy="559.8" r="7.0"/><circle cx="715.2" cy="564.3" r="7.0"/><circle cx="714.2" cy="548.2" r="7.0"/><circle cx="721.4" cy="551.8" r="7.0"/><circle cx="743.2" cy="555.2" r="7.0"/><circle cx="731.8" cy="541.3" r="7.0"/><circle cx="739.0" cy="537.7" r="7.0"/><circle cx="733.6" cy="556.3" r="7.0"/><circle cx="727.2" cy="551.3" r="7.0"/><circle cx="728.3" cy="543.3" r="7.0"/><circle cx="751.2" cy="541.6" r="7.0"/><circle cx="749.7" cy="549.5" r="7.0"/><circle cx="745.1" cy="536.4" r="7.0"/><circle cx="752.6" cy="556.2" r="7.0"/><circle cx="751.7" cy="548.2" r="7.0"/><circle cx="758.2" cy="543.4" r="7.0"/><circle cx="765.6" cy="546.6" r="7.0"/><circle cx="766.5" cy="554.6" r="7.0"/><circle cx="760.0" cy="559.4" r="7.0"/><circle cx="764.0" cy="574.2" r="7.0"/><circle cx="757.2" cy="579.1" r="7.0"/><circle cx="745.9" cy="569.1" r="7.0"/><circle cx="749.9" cy="561.7" r="7.0"/><circle cx="758.2" cy="560.3" r="7.0"/><circle cx="764.5" cy="565.9" r="7.0"/><circle cx="734.3" cy="572.1" r="7.0"/><circle cx="728.6" cy="590.7" r="7.0"/><circle cx="720.9" cy="588.4" r="7.0"/><circle cx="726.5" cy="569.7" r="7.0"/><circle cx="729.1" cy="591.3" r="7.0"/><circle cx="737.5" cy="591.8" r="7.0"/><circle cx="738.2" cy="573.1" r="7.0"/><circle cx="748.9" cy="588.5" r="7.0"/><circle cx="741.1" cy="591.7" r="7.0"/><circle cx="716.0" cy="582.6" r="7.0"/><circle cx="715.2" cy="573.9" r="7.0"/><circle cx="722.3" cy="568.8" r="7.0"/><circle cx="752.9" cy="586.2" r="7.0"/><circle cx="737.8" cy="610.7" r="7.0"/><circle cx="731.0" cy="605.8" r="7.0"/><circle cx="731.8" cy="597.4" r="7.0"/><circle cx="739.6" cy="594.0" r="7.0"/><circle cx="746.4" cy="598.9" r="7.0"/><circle cx="745.5" cy="607.3" r="7.0"/>
</g>
<circle cx="1142.9" cy="241.6" r="7.0" fill="#d87d66"/>
<circle cx="1094.3" cy="308.9" r="7.0" fill="#b5413f"/>
<circle cx="1042.2" cy="368.6" r="7.0" fill="#ce6586"/>
<circle cx="922.1" cy="373.4" r="7.0" fill="#7569ee"/>
<circle cx="870.9" cy="469.6" r="7.0" fill="#d87d66"/>
<circle cx="381.2" cy="415.2" r="7.0" fill="#365b51"/>
<circle cx="859.4" cy="628.3" r="7.0" fill="#7569ee"/>
<circle cx="893.8" cy="697.5" r="7.0" fill="#7569ee"/>
<circle cx="1032.3" cy="516.2" r="7.0" fill="#7569ee"/>
<circle cx="1278.8" cy="472.7" r="7.0" fill="#4383c4"/>
<rect x="198.0" y="29.9" width="1394.5" height="923.7" fill="none" stroke="#000" stroke-width="3.3"/>
<line x1="356.1" y1="953.6" x2="356.1" y2="968.1" stroke="#000" stroke-width="3.3"/>
<rect x="316.8" y="1000.5" width="26.8" height="3.6" fill="#000"/><text transform="translate(348.3,1014.6) scale(1.0,1)" font-size="45.6" letter-spacing="1.0" x="0" y="0">60</text>
<line x1="552.6" y1="953.6" x2="552.6" y2="968.1" stroke="#000" stroke-width="3.3"/>
<rect x="513.2" y="1000.5" width="26.8" height="3.6" fill="#000"/><text transform="translate(544.7,1014.6) scale(1.0,1)" font-size="45.6" letter-spacing="1.0" x="0" y="0">40</text>
<line x1="749.0" y1="953.6" x2="749.0" y2="968.1" stroke="#000" stroke-width="3.3"/>
<rect x="709.7" y="1000.5" width="26.8" height="3.6" fill="#000"/><text transform="translate(741.2,1014.6) scale(1.0,1)" font-size="45.6" letter-spacing="1.0" x="0" y="0">20</text>
<line x1="945.5" y1="953.6" x2="945.5" y2="968.1" stroke="#000" stroke-width="3.3"/>
<text transform="translate(933.4,1014.6) scale(1.0,1)" font-size="45.6" letter-spacing="1.0" x="0" y="0">0</text>
<line x1="1141.9" y1="953.6" x2="1141.9" y2="968.1" stroke="#000" stroke-width="3.3"/>
<text transform="translate(1116.6,1014.6) scale(1.0,1)" font-size="45.6" letter-spacing="1.0" x="0" y="0">20</text>
<line x1="1338.3" y1="953.6" x2="1338.3" y2="968.1" stroke="#000" stroke-width="3.3"/>
<text transform="translate(1313.0,1014.6) scale(1.0,1)" font-size="45.6" letter-spacing="1.0" x="0" y="0">40</text>
<line x1="1534.8" y1="953.6" x2="1534.8" y2="968.1" stroke="#000" stroke-width="3.3"/>
<text transform="translate(1509.5,1014.6) scale(1.0,1)" font-size="45.6" letter-spacing="1.0" x="0" y="0">60</text>
<line x1="183.3" y1="863.1" x2="198.0" y2="863.1" stroke="#000" stroke-width="3.3"/>
<rect x="84.8" y="866.0" width="26.8" height="3.6" fill="#000"/><text transform="translate(116.3,880.1) scale(1.0,1)" font-size="45.6" letter-spacing="1.0" x="0" y="0">60</text>
<line x1="183.3" y1="726.9" x2="198.0" y2="726.9" stroke="#000" stroke-width="3.3"/>
<rect x="84.8" y="729.8" width="26.8" height="3.6" fill="#000"/><text transform="translate(116.3,743.9) scale(1.0,1)" font-size="45.6" letter-spacing="1.0" x="0" y="0">40</text>
<line x1="183.3" y1="590.7" x2="198.0" y2="590.7" stroke="#000" stroke-width="3.3"/>
<rect x="84.8" y="593.6" width="26.8" height="3.6" fill="#000"/><text transform="translate(116.3,607.7) scale(1.0,1)" font-size="45.6" letter-spacing="1.0" x="0" y="0">20</text>
<line x1="183.3" y1="454.5" x2="198.0" y2="454.5" stroke="#000" stroke-width="3.3"/>
<text transform="translate(142.8,471.5) scale(1.0,1)" font-size="45.6" letter-spacing="1.0" x="0" y="0">0</text>
<line x1="183.3" y1="318.3" x2="198.0" y2="318.3" stroke="#000" stroke-width="3.3"/>
<text transform="translate(116.3,335.3) scale(1.0,1)" font-size="45.6" letter-spacing="1.0" x="0" y="0">20</text>
<line x1="183.3" y1="182.1" x2="198.0" y2="182.1" stroke="#000" stroke-width="3.3"/>
<text transform="translate(116.3,199.1) scale(1.0,1)" font-size="45.6" letter-spacing="1.0" x="0" y="0">40</text>
<line x1="183.3" y1="46.0" x2="198.0" y2="46.0" stroke="#000" stroke-width="3.3"/>
<text transform="translate(116.3,63.0) scale(1.0,1)" font-size="45.6" letter-spacing="1.0" x="0" y="0">60</text>
<text x="829.1" y="1066.4" font-size="37.45">t-SNE-</text>
<path transform="translate(941.45,1066.4) scale(0.01829,-0.01829)" d="M763 0H583V1147Q518 1085 412.5 1023T223 930V1104Q373 1174.5 485.5 1275T647 1470H763Z" fill="#000"/>
<text transform="translate(57.2,558.1) rotate(-90)" font-size="37.45">t-SNE-2</text>
<rect x="1604.8" y="50.9" width="175.7" height="623.7" rx="7" ry="7" fill="#fff" stroke="#d6d6d6" stroke-width="4.1"/>
<circle cx="1662.6" cy="84.4" r="14.5" fill="#713f5c"/>
<text transform="translate(1738.5,100.0) scale(1.0,1)" font-size="45.6">0</text>
<circle cx="1662.6" cy="145.5" r="14.5" fill="#61a673"/>
<text transform="translate(1738.5,161.1) scale(1.0,1)" font-size="45.6">1</text>
<circle cx="1662.6" cy="206.7" r="14.5" fill="#f1c99b"/>
<text transform="translate(1738.5,222.3) scale(1.0,1)" font-size="45.6">2</text>
<circle cx="1662.6" cy="267.8" r="14.5" fill="#d87d66"/>
<text transform="translate(1738.5,283.4) scale(1.0,1)" font-size="45.6">3</text>
<circle cx="1662.6" cy="328.9" r="14.5" fill="#ce6586"/>
<text transform="translate(1738.5,344.5) scale(1.0,1)" font-size="45.6">4</text>
<circle cx="1662.6" cy="390.1" r="14.5" fill="#365b51"/>
<text transform="translate(1738.5,405.7) scale(1.0,1)" font-size="45.6">5</text>
<circle cx="1662.6" cy="451.2" r="14.5" fill="#98b2dc"/>
<text transform="translate(1738.5,466.8) scale(1.0,1)" font-size="45.6">6</text>
<circle cx="1662.6" cy="512.3" r="14.5" fill="#b5413f"/>
<text transform="translate(1738.5,527.9) scale(1.0,1)" font-size="45.6">7</text>
<circle cx="1662.6" cy="573.4" r="14.5" fill="#4383c4"/>
<text transform="translate(1738.5,589.0) scale(1.0,1)" font-size="45.6">8</text>
<circle cx="1662.6" cy="634.6" r="14.5" fill="#7569ee"/>
<text transform="translate(1738.5,650.2) scale(1.0,1)" font-size="45.6">9</text>
</svg></body></html>
